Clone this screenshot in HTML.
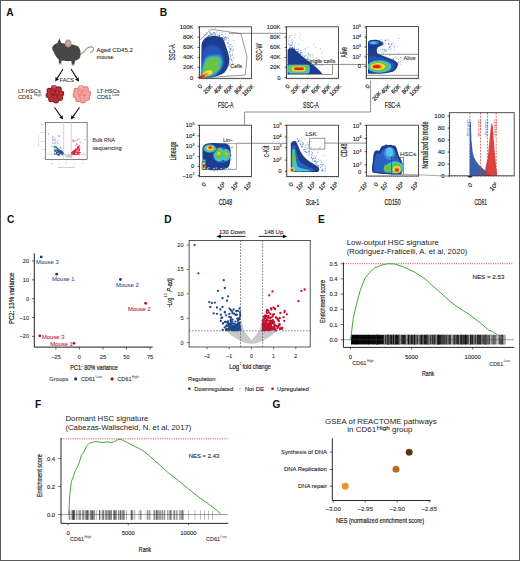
<!DOCTYPE html><html><head><meta charset="utf-8"><style>html,body{margin:0;padding:0;background:#fff;}svg{display:block;}text{font-family:"Liberation Sans",sans-serif;}</style></head><body>
<svg width="520" height="561" viewBox="0 0 520 561">
<defs>
<filter id="bl1" x="-20%" y="-20%" width="140%" height="140%"><feGaussianBlur stdDeviation="0.55"/></filter>
<filter id="bl2" x="-20%" y="-20%" width="140%" height="140%"><feGaussianBlur stdDeviation="1.3"/></filter>
<filter id="bl05" x="-20%" y="-20%" width="140%" height="140%"><feGaussianBlur stdDeviation="0.45"/></filter>
<marker id="ah" viewBox="0 0 10 10" refX="8" refY="5" markerWidth="5" markerHeight="5" orient="auto-start-reverse"><path d="M0,0 L10,5 L0,10 z" fill="#111"/></marker>
</defs>
<rect x="0" y="0" width="520" height="561" fill="#fff"/>
<text x="6.20" y="15.60" font-size="10.2" text-anchor="start" fill="#111" font-weight="bold" >A</text>
<text x="159.70" y="15.60" font-size="10.2" text-anchor="start" fill="#111" font-weight="bold" >B</text>
<text x="7.00" y="222.90" font-size="10.2" text-anchor="start" fill="#111" font-weight="bold" >C</text>
<text x="164.20" y="222.80" font-size="10.2" text-anchor="start" fill="#111" font-weight="bold" >D</text>
<text x="318.00" y="222.80" font-size="10.2" text-anchor="start" fill="#111" font-weight="bold" >E</text>
<text x="35.00" y="407.50" font-size="10.2" text-anchor="start" fill="#111" font-weight="bold" >F</text>
<text x="272.50" y="408.10" font-size="10.2" text-anchor="start" fill="#111" font-weight="bold" >G</text>
<g>
<path d="M80,54.5 C83,53.8 85,50.5 87,48.3 C89,46.5 92,46.3 93.3,48 C93.9,49.6 92.6,51.6 90.4,52.6" fill="none" stroke="#b08c88" stroke-width="1.1" stroke-linecap="round"/>
<path d="M52,47.6 C53,45.2 55.3,43.6 57.4,43 L59.3,38.2 L61.3,43 C63,43.1 64.5,43.5 65.5,44 C70,43.6 75,44.4 78.5,46.8 C80.6,49.4 80.9,53 80.3,56.5 C79.6,59 77.6,60.3 75.2,60.6 L74.2,64.6 L71.9,64.9 L71.3,61.1 C67,61.4 63.6,61.1 61.6,60.6 L61.1,63.4 L59,63.7 L58.8,59.6 C56.5,57.6 55,55.1 54,52.6 C53,51.1 52.2,49.6 52,47.6 Z" fill="#474747"/>
<ellipse cx="68.2" cy="43.3" rx="3.3" ry="3.9" fill="#b89490"/>
<ellipse cx="68.4" cy="43.6" rx="2.1" ry="2.6" fill="#cfa8a2"/>
<circle cx="55.8" cy="46.2" r="0.5" fill="#111"/>
<ellipse cx="52.1" cy="47.9" rx="0.7" ry="0.6" fill="#b89490"/>
<ellipse cx="60.2" cy="63.8" rx="1.8" ry="0.6" fill="#c8a09a"/>
<ellipse cx="73.4" cy="65" rx="1.8" ry="0.6" fill="#c8a09a"/>
</g>
<text x="96.50" y="52.00" font-size="6.2" text-anchor="start" fill="#2a2a2a" textLength="36.3" lengthAdjust="spacingAndGlyphs" stroke="#2a2a2a" stroke-width="0.08">Aged CD45.2</text>
<text x="96.50" y="59.30" font-size="6.2" text-anchor="start" fill="#2a2a2a" textLength="17" lengthAdjust="spacingAndGlyphs" stroke="#2a2a2a" stroke-width="0.08">mouse</text>
<line x1="63.00" y1="69.00" x2="57.32" y2="78.11" stroke="#111" stroke-width="1.1" />
<path d="M55.20,81.50 L55.54,76.99 L59.10,79.22 Z" fill="#111"/>
<line x1="71.00" y1="69.00" x2="76.88" y2="78.41" stroke="#111" stroke-width="1.1" />
<path d="M79.00,81.80 L75.10,79.52 L78.66,77.30 Z" fill="#111"/>
<text x="66.80" y="82.30" font-size="6.2" text-anchor="middle" fill="#2a2a2a" textLength="14.5" lengthAdjust="spacingAndGlyphs" stroke="#2a2a2a" stroke-width="0.08">FACS</text>
<circle cx="49.5" cy="90.8" r="3" fill="#84181f"/>
<circle cx="54" cy="88.0" r="3" fill="#84181f"/>
<circle cx="58.8" cy="89.3" r="3" fill="#84181f"/>
<circle cx="61.2" cy="93.5" r="3" fill="#84181f"/>
<circle cx="60" cy="98.1" r="3" fill="#84181f"/>
<circle cx="56" cy="100.6" r="3" fill="#84181f"/>
<circle cx="51.2" cy="99.3" r="3" fill="#84181f"/>
<circle cx="48.7" cy="95.3" r="3" fill="#84181f"/>
<circle cx="55" cy="94.3" r="6.6" fill="#9c2228"/>
<circle cx="49.775" cy="90.975" r="2.3" fill="#b8323a"/>
<circle cx="54.05" cy="88.315" r="2.3" fill="#b8323a"/>
<circle cx="58.61" cy="89.55" r="2.3" fill="#b8323a"/>
<circle cx="60.89" cy="93.53999999999999" r="2.3" fill="#b8323a"/>
<circle cx="59.75" cy="97.91" r="2.3" fill="#b8323a"/>
<circle cx="55.95" cy="100.285" r="2.3" fill="#b8323a"/>
<circle cx="51.39" cy="99.05" r="2.3" fill="#b8323a"/>
<circle cx="49.015" cy="95.25" r="2.3" fill="#b8323a"/>
<circle cx="52.8" cy="92.3" r="2.2" fill="#b8323a" stroke="#84181f" stroke-width="0.5"/>
<circle cx="57.2" cy="92.8" r="2.2" fill="#b8323a" stroke="#84181f" stroke-width="0.5"/>
<circle cx="55" cy="96.6" r="2.3" fill="#b8323a" stroke="#84181f" stroke-width="0.5"/>
<circle cx="54.7" cy="94.3" r="1.4" fill="#b8323a" stroke="#84181f" stroke-width="0.5"/>
<circle cx="54" cy="86.5" r="1.6" fill="#c87878" opacity="0.7"/>
<circle cx="76.5" cy="90.8" r="3" fill="#de7474"/>
<circle cx="81" cy="88.0" r="3" fill="#de7474"/>
<circle cx="85.8" cy="89.3" r="3" fill="#de7474"/>
<circle cx="88.2" cy="93.5" r="3" fill="#de7474"/>
<circle cx="87" cy="98.1" r="3" fill="#de7474"/>
<circle cx="83" cy="100.6" r="3" fill="#de7474"/>
<circle cx="78.2" cy="99.3" r="3" fill="#de7474"/>
<circle cx="75.7" cy="95.3" r="3" fill="#de7474"/>
<circle cx="82" cy="94.3" r="6.6" fill="#eb8a88"/>
<circle cx="76.775" cy="90.975" r="2.3" fill="#f4a6a2"/>
<circle cx="81.05" cy="88.315" r="2.3" fill="#f4a6a2"/>
<circle cx="85.61" cy="89.55" r="2.3" fill="#f4a6a2"/>
<circle cx="87.89" cy="93.53999999999999" r="2.3" fill="#f4a6a2"/>
<circle cx="86.75" cy="97.91" r="2.3" fill="#f4a6a2"/>
<circle cx="82.95" cy="100.285" r="2.3" fill="#f4a6a2"/>
<circle cx="78.39" cy="99.05" r="2.3" fill="#f4a6a2"/>
<circle cx="76.015" cy="95.25" r="2.3" fill="#f4a6a2"/>
<circle cx="79.8" cy="92.3" r="2.2" fill="#f4a6a2" stroke="#de7474" stroke-width="0.5"/>
<circle cx="84.2" cy="92.8" r="2.2" fill="#f4a6a2" stroke="#de7474" stroke-width="0.5"/>
<circle cx="82" cy="96.6" r="2.3" fill="#f4a6a2" stroke="#de7474" stroke-width="0.5"/>
<circle cx="81.7" cy="94.3" r="1.4" fill="#f4a6a2" stroke="#de7474" stroke-width="0.5"/>
<circle cx="81" cy="86.5" r="1.6" fill="#f4c0bc" opacity="0.7"/>
<text x="18.00" y="92.50" font-size="6.2" text-anchor="start" fill="#2a2a2a" textLength="22.8" lengthAdjust="spacingAndGlyphs" stroke="#2a2a2a" stroke-width="0.08">LT-HSCs</text>
<text x="18.00" y="99.30" font-size="6.2" text-anchor="start" fill="#2a2a2a" textLength="14.6" lengthAdjust="spacingAndGlyphs" stroke="#2a2a2a" stroke-width="0.08">CD61</text>
<text x="34.00" y="96.30" font-size="3.8" text-anchor="start" fill="#2a2a2a" textLength="7.4" lengthAdjust="spacingAndGlyphs" >High</text>
<text x="96.90" y="92.50" font-size="6.2" text-anchor="start" fill="#2a2a2a" textLength="22.8" lengthAdjust="spacingAndGlyphs" stroke="#2a2a2a" stroke-width="0.08">LT-HSCs</text>
<text x="96.90" y="99.30" font-size="6.2" text-anchor="start" fill="#2a2a2a" textLength="14.4" lengthAdjust="spacingAndGlyphs" stroke="#2a2a2a" stroke-width="0.08">CD61</text>
<text x="112.20" y="96.30" font-size="3.8" text-anchor="start" fill="#2a2a2a" textLength="7.2" lengthAdjust="spacingAndGlyphs" >Low</text>
<line x1="54.50" y1="107.50" x2="60.86" y2="116.35" stroke="#111" stroke-width="1.1" />
<path d="M63.20,119.60 L59.16,117.58 L62.57,115.13 Z" fill="#111"/>
<line x1="79.50" y1="107.50" x2="73.14" y2="116.35" stroke="#111" stroke-width="1.1" />
<path d="M70.80,119.60 L71.43,115.13 L74.84,117.58 Z" fill="#111"/>
<rect x="45.3" y="122.3" width="41.8" height="37.2" fill="#fff" stroke="#333" stroke-width="0.6"/>
<line x1="63.70" y1="122.30" x2="63.70" y2="159.50" stroke="#c8c8c8" stroke-width="0.8" />
<line x1="71.20" y1="122.30" x2="71.20" y2="159.50" stroke="#c8c8c8" stroke-width="0.8" />
<line x1="45.30" y1="154.20" x2="87.10" y2="154.20" stroke="#c8c8c8" stroke-width="0.8" />
<line x1="44.00" y1="124.00" x2="45.30" y2="124.00" stroke="#666" stroke-width="0.3" />
<line x1="44.00" y1="132.50" x2="45.30" y2="132.50" stroke="#666" stroke-width="0.3" />
<line x1="44.00" y1="141.00" x2="45.30" y2="141.00" stroke="#666" stroke-width="0.3" />
<line x1="44.00" y1="149.50" x2="45.30" y2="149.50" stroke="#666" stroke-width="0.3" />
<line x1="44.00" y1="158.00" x2="45.30" y2="158.00" stroke="#666" stroke-width="0.3" />
<line x1="52.00" y1="159.50" x2="52.00" y2="160.70" stroke="#666" stroke-width="0.3" />
<line x1="59.00" y1="159.50" x2="59.00" y2="160.70" stroke="#666" stroke-width="0.3" />
<line x1="66.50" y1="159.50" x2="66.50" y2="160.70" stroke="#666" stroke-width="0.3" />
<line x1="74.00" y1="159.50" x2="74.00" y2="160.70" stroke="#666" stroke-width="0.3" />
<line x1="83.00" y1="159.50" x2="83.00" y2="160.70" stroke="#666" stroke-width="0.3" />
<path d="M63.5,154.5 L67.5,158.5 L71.5,154.5 Z" fill="#c8d0c8" opacity="0.8"/>
<ellipse cx="69.5" cy="156.3" rx="2.2" ry="1" fill="#90c0a0" opacity="0.7"/>
<circle cx="60.8" cy="153.4" r="0.6" fill="#1e4a86"/>
<circle cx="57.7" cy="154.6" r="0.6" fill="#1e4a86"/>
<circle cx="62.1" cy="154.2" r="0.6" fill="#1e4a86"/>
<circle cx="60.1" cy="152.9" r="0.6" fill="#1e4a86"/>
<circle cx="56.1" cy="149.9" r="0.6" fill="#1e4a86"/>
<circle cx="61.3" cy="151.6" r="0.6" fill="#1e4a86"/>
<circle cx="58.2" cy="150.9" r="0.6" fill="#1e4a86"/>
<circle cx="61.9" cy="153.0" r="0.6" fill="#1e4a86"/>
<circle cx="61.0" cy="150.8" r="0.6" fill="#1e4a86"/>
<circle cx="58.6" cy="149.9" r="0.6" fill="#1e4a86"/>
<circle cx="56.4" cy="152.1" r="0.6" fill="#1e4a86"/>
<circle cx="56.4" cy="147.7" r="0.6" fill="#1e4a86"/>
<circle cx="56.3" cy="153.9" r="0.6" fill="#1e4a86"/>
<circle cx="60.3" cy="153.1" r="0.6" fill="#1e4a86"/>
<circle cx="58.0" cy="151.6" r="0.6" fill="#1e4a86"/>
<circle cx="59.9" cy="151.9" r="0.6" fill="#1e4a86"/>
<circle cx="57.5" cy="150.6" r="0.6" fill="#1e4a86"/>
<circle cx="54.8" cy="146.5" r="0.6" fill="#1e4a86"/>
<circle cx="57.9" cy="149.0" r="0.6" fill="#1e4a86"/>
<circle cx="54.4" cy="150.0" r="0.6" fill="#1e4a86"/>
<circle cx="57.5" cy="148.9" r="0.6" fill="#1e4a86"/>
<circle cx="58.5" cy="154.6" r="0.6" fill="#1e4a86"/>
<circle cx="55.2" cy="154.3" r="0.6" fill="#1e4a86"/>
<circle cx="56.5" cy="153.8" r="0.6" fill="#1e4a86"/>
<circle cx="60.0" cy="150.8" r="0.6" fill="#1e4a86"/>
<circle cx="62.2" cy="154.9" r="0.6" fill="#1e4a86"/>
<circle cx="57.3" cy="148.6" r="0.6" fill="#1e4a86"/>
<circle cx="54.9" cy="146.1" r="0.6" fill="#1e4a86"/>
<circle cx="60.9" cy="152.1" r="0.6" fill="#1e4a86"/>
<circle cx="63.0" cy="153.7" r="0.6" fill="#1e4a86"/>
<circle cx="58.4" cy="154.7" r="0.6" fill="#1e4a86"/>
<circle cx="56.1" cy="147.1" r="0.6" fill="#1e4a86"/>
<circle cx="55.8" cy="151.1" r="0.6" fill="#1e4a86"/>
<circle cx="58.4" cy="151.4" r="0.6" fill="#1e4a86"/>
<circle cx="58.1" cy="149.0" r="0.6" fill="#1e4a86"/>
<circle cx="58.8" cy="150.6" r="0.6" fill="#1e4a86"/>
<circle cx="61.1" cy="150.7" r="0.6" fill="#1e4a86"/>
<circle cx="58.5" cy="154.9" r="0.6" fill="#1e4a86"/>
<circle cx="59.3" cy="154.9" r="0.6" fill="#1e4a86"/>
<circle cx="57.6" cy="154.6" r="0.6" fill="#1e4a86"/>
<circle cx="57.8" cy="150.4" r="0.6" fill="#1e4a86"/>
<circle cx="59.6" cy="151.2" r="0.6" fill="#1e4a86"/>
<circle cx="63.2" cy="152.9" r="0.6" fill="#1e4a86"/>
<circle cx="55.4" cy="151.0" r="0.6" fill="#1e4a86"/>
<circle cx="58.3" cy="152.6" r="0.6" fill="#1e4a86"/>
<circle cx="60.4" cy="152.1" r="0.6" fill="#1e4a86"/>
<circle cx="60.5" cy="151.3" r="0.6" fill="#1e4a86"/>
<circle cx="62.4" cy="152.7" r="0.6" fill="#1e4a86"/>
<circle cx="60.7" cy="151.1" r="0.6" fill="#1e4a86"/>
<circle cx="61.3" cy="153.1" r="0.6" fill="#1e4a86"/>
<circle cx="57.8" cy="152.7" r="0.6" fill="#1e4a86"/>
<circle cx="59.6" cy="152.8" r="0.6" fill="#1e4a86"/>
<circle cx="56.4" cy="152.3" r="0.6" fill="#1e4a86"/>
<circle cx="57.0" cy="151.9" r="0.6" fill="#1e4a86"/>
<circle cx="61.5" cy="152.7" r="0.6" fill="#1e4a86"/>
<circle cx="60.8" cy="151.5" r="0.6" fill="#1e4a86"/>
<circle cx="61.6" cy="151.7" r="0.6" fill="#1e4a86"/>
<circle cx="57.2" cy="152.6" r="0.6" fill="#1e4a86"/>
<circle cx="62.0" cy="152.0" r="0.6" fill="#1e4a86"/>
<circle cx="60.8" cy="153.1" r="0.6" fill="#1e4a86"/>
<circle cx="59.5" cy="149.9" r="0.6" fill="#1e4a86"/>
<circle cx="62.2" cy="151.3" r="0.6" fill="#1e4a86"/>
<circle cx="55.0" cy="151.4" r="0.6" fill="#1e4a86"/>
<circle cx="54.5" cy="153.1" r="0.6" fill="#1e4a86"/>
<circle cx="56.3" cy="150.0" r="0.6" fill="#1e4a86"/>
<circle cx="58.9" cy="152.9" r="0.6" fill="#1e4a86"/>
<circle cx="61.6" cy="152.4" r="0.6" fill="#1e4a86"/>
<circle cx="60.0" cy="154.8" r="0.6" fill="#1e4a86"/>
<circle cx="55.2" cy="147.2" r="0.6" fill="#1e4a86"/>
<circle cx="55.0" cy="150.2" r="0.6" fill="#1e4a86"/>
<circle cx="52.1" cy="146.4" r="0.55" fill="none" stroke="#4a70a8" stroke-width="0.3"/>
<circle cx="53.5" cy="140.2" r="0.55" fill="none" stroke="#4a70a8" stroke-width="0.3"/>
<circle cx="58.0" cy="143.3" r="0.55" fill="none" stroke="#4a70a8" stroke-width="0.3"/>
<circle cx="55.7" cy="149.1" r="0.55" fill="none" stroke="#4a70a8" stroke-width="0.3"/>
<circle cx="57.5" cy="140.8" r="0.55" fill="none" stroke="#4a70a8" stroke-width="0.3"/>
<circle cx="54.3" cy="148.1" r="0.55" fill="none" stroke="#4a70a8" stroke-width="0.3"/>
<circle cx="56.3" cy="147.0" r="0.55" fill="none" stroke="#4a70a8" stroke-width="0.3"/>
<circle cx="55.2" cy="138.8" r="0.55" fill="none" stroke="#4a70a8" stroke-width="0.3"/>
<circle cx="56.8" cy="147.4" r="0.55" fill="none" stroke="#4a70a8" stroke-width="0.3"/>
<circle cx="53.5" cy="147.1" r="0.55" fill="none" stroke="#4a70a8" stroke-width="0.3"/>
<circle cx="60.3" cy="147.3" r="0.55" fill="none" stroke="#4a70a8" stroke-width="0.3"/>
<circle cx="59.4" cy="136.1" r="0.55" fill="none" stroke="#4a70a8" stroke-width="0.3"/>
<circle cx="57.7" cy="148.1" r="0.55" fill="none" stroke="#4a70a8" stroke-width="0.3"/>
<circle cx="52.4" cy="139.8" r="0.55" fill="none" stroke="#4a70a8" stroke-width="0.3"/>
<circle cx="54.4" cy="143.4" r="0.55" fill="none" stroke="#4a70a8" stroke-width="0.3"/>
<circle cx="55.8" cy="142.6" r="0.55" fill="none" stroke="#4a70a8" stroke-width="0.3"/>
<circle cx="59.0" cy="136.0" r="0.55" fill="none" stroke="#4a70a8" stroke-width="0.3"/>
<circle cx="52.5" cy="137.8" r="0.55" fill="none" stroke="#4a70a8" stroke-width="0.3"/>
<circle cx="53.1" cy="137.0" r="0.55" fill="none" stroke="#4a70a8" stroke-width="0.3"/>
<circle cx="60.8" cy="148.0" r="0.55" fill="none" stroke="#4a70a8" stroke-width="0.3"/>
<circle cx="52.8" cy="143.0" r="0.55" fill="none" stroke="#4a70a8" stroke-width="0.3"/>
<circle cx="54.8" cy="140.4" r="0.55" fill="none" stroke="#4a70a8" stroke-width="0.3"/>
<circle cx="75.0" cy="151.6" r="0.6" fill="#e0203a"/>
<circle cx="74.5" cy="153.1" r="0.6" fill="#e0203a"/>
<circle cx="73.1" cy="152.1" r="0.6" fill="#e0203a"/>
<circle cx="74.5" cy="153.9" r="0.6" fill="#e0203a"/>
<circle cx="75.1" cy="150.3" r="0.6" fill="#e0203a"/>
<circle cx="75.4" cy="151.2" r="0.6" fill="#e0203a"/>
<circle cx="75.3" cy="151.8" r="0.6" fill="#e0203a"/>
<circle cx="77.5" cy="149.0" r="0.6" fill="#e0203a"/>
<circle cx="75.4" cy="151.4" r="0.6" fill="#e0203a"/>
<circle cx="77.0" cy="151.4" r="0.6" fill="#e0203a"/>
<circle cx="75.9" cy="149.0" r="0.6" fill="#e0203a"/>
<circle cx="75.5" cy="150.3" r="0.6" fill="#e0203a"/>
<circle cx="74.1" cy="154.4" r="0.6" fill="#e0203a"/>
<circle cx="78.7" cy="146.6" r="0.6" fill="#e0203a"/>
<circle cx="78.5" cy="148.1" r="0.6" fill="#e0203a"/>
<circle cx="76.0" cy="150.6" r="0.6" fill="#e0203a"/>
<circle cx="71.6" cy="152.6" r="0.6" fill="#e0203a"/>
<circle cx="71.9" cy="154.7" r="0.6" fill="#e0203a"/>
<circle cx="78.7" cy="154.8" r="0.6" fill="#e0203a"/>
<circle cx="78.3" cy="146.8" r="0.6" fill="#e0203a"/>
<circle cx="77.8" cy="147.0" r="0.6" fill="#e0203a"/>
<circle cx="77.0" cy="154.7" r="0.6" fill="#e0203a"/>
<circle cx="78.2" cy="148.5" r="0.6" fill="#e0203a"/>
<circle cx="73.2" cy="151.4" r="0.6" fill="#e0203a"/>
<circle cx="72.3" cy="153.0" r="0.6" fill="#e0203a"/>
<circle cx="78.3" cy="153.3" r="0.6" fill="#e0203a"/>
<circle cx="74.1" cy="151.2" r="0.6" fill="#e0203a"/>
<circle cx="75.0" cy="152.6" r="0.6" fill="#e0203a"/>
<circle cx="74.7" cy="154.5" r="0.6" fill="#e0203a"/>
<circle cx="76.6" cy="152.1" r="0.6" fill="#e0203a"/>
<circle cx="77.6" cy="148.8" r="0.6" fill="#e0203a"/>
<circle cx="78.3" cy="150.3" r="0.6" fill="#e0203a"/>
<circle cx="76.0" cy="148.8" r="0.6" fill="#e0203a"/>
<circle cx="72.7" cy="151.9" r="0.6" fill="#e0203a"/>
<circle cx="79.4" cy="150.4" r="0.6" fill="#e0203a"/>
<circle cx="77.4" cy="152.7" r="0.6" fill="#e0203a"/>
<circle cx="73.7" cy="153.6" r="0.6" fill="#e0203a"/>
<circle cx="74.1" cy="150.4" r="0.6" fill="#e0203a"/>
<circle cx="74.6" cy="152.8" r="0.6" fill="#e0203a"/>
<circle cx="78.9" cy="152.4" r="0.6" fill="#e0203a"/>
<circle cx="73.2" cy="152.7" r="0.6" fill="#e0203a"/>
<circle cx="74.7" cy="152.8" r="0.6" fill="#e0203a"/>
<circle cx="74.9" cy="154.2" r="0.6" fill="#e0203a"/>
<circle cx="79.9" cy="148.5" r="0.6" fill="#e0203a"/>
<circle cx="76.1" cy="149.5" r="0.6" fill="#e0203a"/>
<circle cx="76.4" cy="149.6" r="0.6" fill="#e0203a"/>
<circle cx="78.7" cy="147.8" r="0.6" fill="#e0203a"/>
<circle cx="79.6" cy="152.5" r="0.6" fill="#e0203a"/>
<circle cx="74.1" cy="151.7" r="0.6" fill="#e0203a"/>
<circle cx="80.1" cy="152.4" r="0.6" fill="#e0203a"/>
<circle cx="73.2" cy="154.2" r="0.6" fill="#e0203a"/>
<circle cx="78.1" cy="147.2" r="0.6" fill="#e0203a"/>
<circle cx="74.5" cy="153.4" r="0.6" fill="#e0203a"/>
<circle cx="75.7" cy="154.5" r="0.6" fill="#e0203a"/>
<circle cx="73.1" cy="153.9" r="0.6" fill="#e0203a"/>
<circle cx="74.9" cy="151.0" r="0.6" fill="#e0203a"/>
<circle cx="71.9" cy="153.7" r="0.6" fill="#e0203a"/>
<circle cx="75.5" cy="151.0" r="0.6" fill="#e0203a"/>
<circle cx="79.5" cy="149.2" r="0.6" fill="#e0203a"/>
<circle cx="72.7" cy="152.4" r="0.6" fill="#e0203a"/>
<circle cx="73.4" cy="151.5" r="0.6" fill="#e0203a"/>
<circle cx="73.3" cy="153.6" r="0.6" fill="#e0203a"/>
<circle cx="78.5" cy="152.3" r="0.6" fill="#e0203a"/>
<circle cx="77.6" cy="148.2" r="0.6" fill="#e0203a"/>
<circle cx="74.4" cy="150.1" r="0.6" fill="#e0203a"/>
<circle cx="77.4" cy="154.1" r="0.6" fill="#e0203a"/>
<circle cx="75.8" cy="150.0" r="0.6" fill="#e0203a"/>
<circle cx="77.5" cy="153.5" r="0.6" fill="#e0203a"/>
<circle cx="77.3" cy="153.5" r="0.6" fill="#e0203a"/>
<circle cx="79.3" cy="153.8" r="0.6" fill="#e0203a"/>
<circle cx="79.0" cy="151.5" r="0.6" fill="#e0203a"/>
<circle cx="77.9" cy="150.1" r="0.6" fill="#e0203a"/>
<circle cx="77.1" cy="152.4" r="0.6" fill="#e0203a"/>
<circle cx="72.9" cy="151.8" r="0.6" fill="#e0203a"/>
<circle cx="78.1" cy="148.3" r="0.6" fill="#e0203a"/>
<circle cx="74.6" cy="152.7" r="0.6" fill="#e0203a"/>
<circle cx="78.4" cy="150.0" r="0.6" fill="#e0203a"/>
<circle cx="74.3" cy="153.2" r="0.6" fill="#e0203a"/>
<circle cx="74.5" cy="151.9" r="0.6" fill="#e0203a"/>
<circle cx="78.0" cy="147.2" r="0.6" fill="#e0203a"/>
<circle cx="73.0" cy="141.4" r="0.55" fill="none" stroke="#d04050" stroke-width="0.3"/>
<circle cx="72.9" cy="140.0" r="0.55" fill="none" stroke="#d04050" stroke-width="0.3"/>
<circle cx="79.0" cy="145.5" r="0.55" fill="none" stroke="#d04050" stroke-width="0.3"/>
<circle cx="73.7" cy="140.7" r="0.55" fill="none" stroke="#d04050" stroke-width="0.3"/>
<circle cx="75.7" cy="145.7" r="0.55" fill="none" stroke="#d04050" stroke-width="0.3"/>
<circle cx="79.3" cy="145.7" r="0.55" fill="none" stroke="#d04050" stroke-width="0.3"/>
<circle cx="77.3" cy="140.3" r="0.55" fill="none" stroke="#d04050" stroke-width="0.3"/>
<circle cx="75.6" cy="140.7" r="0.55" fill="none" stroke="#d04050" stroke-width="0.3"/>
<circle cx="76.7" cy="144.1" r="0.55" fill="none" stroke="#d04050" stroke-width="0.3"/>
<circle cx="73.8" cy="141.3" r="0.55" fill="none" stroke="#d04050" stroke-width="0.3"/>
<circle cx="79.0" cy="139.3" r="0.55" fill="none" stroke="#d04050" stroke-width="0.3"/>
<circle cx="79.2" cy="147.0" r="0.55" fill="none" stroke="#d04050" stroke-width="0.3"/>
<circle cx="80.5" cy="142.4" r="0.55" fill="none" stroke="#d04050" stroke-width="0.3"/>
<circle cx="77.0" cy="144.2" r="0.55" fill="none" stroke="#d04050" stroke-width="0.3"/>
<circle cx="48.5" cy="134" r="0.5" fill="#7088a8"/><circle cx="84.6" cy="139.6" r="0.6" fill="none" stroke="#d08080" stroke-width="0.3"/><circle cx="83.4" cy="143.4" r="0.5" fill="#d09090"/><circle cx="47.8" cy="124.2" r="0.4" fill="#888"/>
<text x="43.40" y="124.80" font-size="2.3" text-anchor="end" fill="#888" >20</text>
<text x="43.40" y="133.30" font-size="2.3" text-anchor="end" fill="#888" >15</text>
<text x="43.40" y="141.80" font-size="2.3" text-anchor="end" fill="#888" >10</text>
<text x="43.40" y="150.30" font-size="2.3" text-anchor="end" fill="#888" >5</text>
<text x="43.40" y="158.80" font-size="2.3" text-anchor="end" fill="#888" >0</text>
<text x="52.00" y="163.50" font-size="2.3" text-anchor="middle" fill="#888" >-2</text>
<text x="59.00" y="163.50" font-size="2.3" text-anchor="middle" fill="#888" >-1</text>
<text x="66.50" y="163.50" font-size="2.3" text-anchor="middle" fill="#888" >0</text>
<text x="74.00" y="163.50" font-size="2.3" text-anchor="middle" fill="#888" >1</text>
<text x="83.00" y="163.50" font-size="2.3" text-anchor="middle" fill="#888" >2</text>
<text x="38.50" y="141.00" font-size="2.3" text-anchor="middle" fill="#888" transform="rotate(-90 38.50 141.00)" >-log10 P-adj</text>
<text x="66.50" y="167.60" font-size="2.4" text-anchor="middle" fill="#888" >log2 fold change</text>
<text x="92.50" y="142.40" font-size="6.2" text-anchor="start" fill="#2a2a2a" textLength="22.5" lengthAdjust="spacingAndGlyphs" stroke="#2a2a2a" stroke-width="0.08">Bulk RNA</text>
<text x="92.50" y="149.90" font-size="6.2" text-anchor="start" fill="#2a2a2a" textLength="29.2" lengthAdjust="spacingAndGlyphs" stroke="#2a2a2a" stroke-width="0.08">sequencing</text>
<circle cx="224.3" cy="40.3" r="0.42" fill="#3a66b8"/>
<circle cx="208.8" cy="29.5" r="0.42" fill="#3a66b8"/>
<circle cx="212.1" cy="33.9" r="0.42" fill="#3a66b8"/>
<circle cx="230.1" cy="48.5" r="0.42" fill="#3a66b8"/>
<circle cx="209.0" cy="35.8" r="0.42" fill="#3a66b8"/>
<circle cx="229.1" cy="45.0" r="0.42" fill="#3a66b8"/>
<circle cx="229.9" cy="69.2" r="0.42" fill="#3a66b8"/>
<circle cx="228.4" cy="40.4" r="0.42" fill="#3a66b8"/>
<circle cx="219.5" cy="36.6" r="0.42" fill="#3a66b8"/>
<circle cx="229.3" cy="63.2" r="0.42" fill="#3a66b8"/>
<circle cx="228.7" cy="43.4" r="0.42" fill="#3a66b8"/>
<circle cx="229.1" cy="65.8" r="0.42" fill="#3a66b8"/>
<circle cx="224.2" cy="37.4" r="0.42" fill="#3a66b8"/>
<circle cx="232.2" cy="55.5" r="0.42" fill="#3a66b8"/>
<circle cx="207.1" cy="33.9" r="0.42" fill="#3a66b8"/>
<circle cx="232.5" cy="52.9" r="0.42" fill="#3a66b8"/>
<circle cx="211.7" cy="34.6" r="0.42" fill="#3a66b8"/>
<circle cx="225.3" cy="36.3" r="0.42" fill="#3a66b8"/>
<circle cx="221.9" cy="38.0" r="0.42" fill="#3a66b8"/>
<circle cx="206.7" cy="37.4" r="0.42" fill="#3a66b8"/>
<circle cx="232.3" cy="61.0" r="0.42" fill="#3a66b8"/>
<circle cx="230.0" cy="58.8" r="0.42" fill="#3a66b8"/>
<circle cx="228.6" cy="66.1" r="0.42" fill="#3a66b8"/>
<circle cx="209.1" cy="36.1" r="0.42" fill="#3a66b8"/>
<circle cx="227.1" cy="37.9" r="0.42" fill="#3a66b8"/>
<circle cx="222.2" cy="38.0" r="0.42" fill="#3a66b8"/>
<circle cx="215.0" cy="35.5" r="0.42" fill="#3a66b8"/>
<circle cx="230.3" cy="48.2" r="0.42" fill="#3a66b8"/>
<circle cx="209.0" cy="35.4" r="0.42" fill="#3a66b8"/>
<circle cx="231.4" cy="44.6" r="0.42" fill="#3a66b8"/>
<circle cx="204.9" cy="35.1" r="0.42" fill="#3a66b8"/>
<circle cx="228.8" cy="60.6" r="0.42" fill="#3a66b8"/>
<circle cx="229.6" cy="52.4" r="0.42" fill="#3a66b8"/>
<circle cx="230.0" cy="61.8" r="0.42" fill="#3a66b8"/>
<circle cx="230.7" cy="49.9" r="0.42" fill="#3a66b8"/>
<circle cx="210.0" cy="34.3" r="0.42" fill="#3a66b8"/>
<circle cx="230.9" cy="50.7" r="0.42" fill="#3a66b8"/>
<circle cx="206.8" cy="37.4" r="0.42" fill="#3a66b8"/>
<circle cx="229.9" cy="44.8" r="0.42" fill="#3a66b8"/>
<circle cx="219.8" cy="35.7" r="0.42" fill="#3a66b8"/>
<circle cx="228.1" cy="46.8" r="0.42" fill="#3a66b8"/>
<circle cx="210.0" cy="32.9" r="0.42" fill="#3a66b8"/>
<circle cx="206.1" cy="32.3" r="0.42" fill="#3a66b8"/>
<circle cx="224.1" cy="39.3" r="0.42" fill="#3a66b8"/>
<circle cx="225.1" cy="40.0" r="0.42" fill="#3a66b8"/>
<circle cx="226.3" cy="37.0" r="0.42" fill="#3a66b8"/>
<circle cx="208.8" cy="36.5" r="0.42" fill="#3a66b8"/>
<circle cx="223.2" cy="38.0" r="0.42" fill="#3a66b8"/>
<circle cx="229.9" cy="58.3" r="0.42" fill="#3a66b8"/>
<circle cx="217.0" cy="31.6" r="0.42" fill="#3a66b8"/>
<circle cx="226.3" cy="68.3" r="0.42" fill="#3a66b8"/>
<circle cx="215.5" cy="28.0" r="0.42" fill="#3a66b8"/>
<circle cx="205.0" cy="34.8" r="0.42" fill="#3a66b8"/>
<circle cx="219.8" cy="33.0" r="0.42" fill="#3a66b8"/>
<circle cx="211.1" cy="33.1" r="0.42" fill="#3a66b8"/>
<circle cx="233.4" cy="49.4" r="0.42" fill="#3a66b8"/>
<circle cx="214.1" cy="32.8" r="0.42" fill="#3a66b8"/>
<circle cx="230.1" cy="49.4" r="0.42" fill="#3a66b8"/>
<circle cx="232.4" cy="63.2" r="0.42" fill="#3a66b8"/>
<circle cx="228.6" cy="61.7" r="0.42" fill="#3a66b8"/>
<circle cx="233.5" cy="59.1" r="0.42" fill="#3a66b8"/>
<circle cx="206.1" cy="34.9" r="0.42" fill="#3a66b8"/>
<circle cx="211.5" cy="34.2" r="0.42" fill="#3a66b8"/>
<circle cx="222.1" cy="32.3" r="0.42" fill="#3a66b8"/>
<circle cx="214.6" cy="32.8" r="0.42" fill="#3a66b8"/>
<circle cx="224.8" cy="38.2" r="0.42" fill="#3a66b8"/>
<circle cx="222.8" cy="37.9" r="0.42" fill="#3a66b8"/>
<circle cx="206.9" cy="37.6" r="0.42" fill="#3a66b8"/>
<circle cx="230.1" cy="46.7" r="0.42" fill="#3a66b8"/>
<circle cx="204.4" cy="39.7" r="0.42" fill="#3a66b8"/>
<circle cx="222.7" cy="38.7" r="0.42" fill="#3a66b8"/>
<circle cx="213.8" cy="32.8" r="0.42" fill="#3a66b8"/>
<circle cx="222.3" cy="34.5" r="0.42" fill="#3a66b8"/>
<circle cx="231.0" cy="49.7" r="0.42" fill="#3a66b8"/>
<circle cx="210.3" cy="35.0" r="0.42" fill="#3a66b8"/>
<circle cx="229.4" cy="59.1" r="0.42" fill="#3a66b8"/>
<circle cx="225.4" cy="37.7" r="0.42" fill="#3a66b8"/>
<circle cx="219.3" cy="30.1" r="0.42" fill="#3a66b8"/>
<circle cx="233.6" cy="40.5" r="0.42" fill="#3a66b8"/>
<circle cx="209.8" cy="34.0" r="0.42" fill="#3a66b8"/>
<circle cx="219.3" cy="35.3" r="0.42" fill="#3a66b8"/>
<circle cx="224.5" cy="38.1" r="0.42" fill="#3a66b8"/>
<circle cx="215.9" cy="35.3" r="0.42" fill="#3a66b8"/>
<circle cx="215.0" cy="34.2" r="0.42" fill="#3a66b8"/>
<circle cx="215.3" cy="35.1" r="0.42" fill="#3a66b8"/>
<circle cx="208.5" cy="35.9" r="0.42" fill="#3a66b8"/>
<circle cx="232.4" cy="64.1" r="0.42" fill="#3a66b8"/>
<circle cx="231.8" cy="48.1" r="0.42" fill="#3a66b8"/>
<circle cx="228.0" cy="37.1" r="0.42" fill="#3a66b8"/>
<circle cx="225.1" cy="37.7" r="0.42" fill="#3a66b8"/>
<circle cx="227.8" cy="64.5" r="0.42" fill="#3a66b8"/>
<circle cx="229.5" cy="51.3" r="0.42" fill="#3a66b8"/>
<circle cx="229.2" cy="47.0" r="0.42" fill="#3a66b8"/>
<circle cx="226.4" cy="39.7" r="0.42" fill="#3a66b8"/>
<circle cx="230.2" cy="55.2" r="0.42" fill="#3a66b8"/>
<circle cx="228.0" cy="64.9" r="0.42" fill="#3a66b8"/>
<circle cx="234.2" cy="58.2" r="0.42" fill="#3a66b8"/>
<circle cx="230.0" cy="51.5" r="0.42" fill="#3a66b8"/>
<circle cx="230.2" cy="48.3" r="0.42" fill="#3a66b8"/>
<circle cx="225.2" cy="37.5" r="0.42" fill="#3a66b8"/>
<circle cx="227.5" cy="43.4" r="0.42" fill="#3a66b8"/>
<circle cx="208.4" cy="35.4" r="0.42" fill="#3a66b8"/>
<circle cx="232.7" cy="46.3" r="0.42" fill="#3a66b8"/>
<circle cx="205.1" cy="39.0" r="0.42" fill="#3a66b8"/>
<circle cx="210.0" cy="32.1" r="0.42" fill="#3a66b8"/>
<circle cx="233.1" cy="50.5" r="0.42" fill="#3a66b8"/>
<circle cx="232.4" cy="54.8" r="0.42" fill="#3a66b8"/>
<circle cx="226.3" cy="38.5" r="0.42" fill="#3a66b8"/>
<circle cx="213.1" cy="35.0" r="0.42" fill="#3a66b8"/>
<circle cx="207.8" cy="36.6" r="0.42" fill="#3a66b8"/>
<circle cx="227.5" cy="42.8" r="0.42" fill="#3a66b8"/>
<circle cx="226.6" cy="68.3" r="0.42" fill="#3a66b8"/>
<circle cx="230.0" cy="54.4" r="0.42" fill="#3a66b8"/>
<circle cx="229.8" cy="64.5" r="0.42" fill="#3a66b8"/>
<circle cx="213.2" cy="32.6" r="0.42" fill="#3a66b8"/>
<circle cx="210.7" cy="35.9" r="0.42" fill="#3a66b8"/>
<circle cx="211.5" cy="34.2" r="0.42" fill="#3a66b8"/>
<circle cx="212.7" cy="33.4" r="0.42" fill="#3a66b8"/>
<circle cx="229.4" cy="52.8" r="0.42" fill="#3a66b8"/>
<circle cx="219.6" cy="36.5" r="0.42" fill="#3a66b8"/>
<circle cx="230.1" cy="57.1" r="0.42" fill="#3a66b8"/>
<circle cx="237.4" cy="65.5" r="0.42" fill="#3a66b8"/>
<circle cx="230.3" cy="44.8" r="0.42" fill="#3a66b8"/>
<circle cx="204.9" cy="37.2" r="0.42" fill="#3a66b8"/>
<circle cx="227.5" cy="65.8" r="0.42" fill="#3a66b8"/>
<circle cx="217.5" cy="34.4" r="0.42" fill="#3a66b8"/>
<circle cx="214.3" cy="32.8" r="0.42" fill="#3a66b8"/>
<circle cx="215.1" cy="33.5" r="0.42" fill="#3a66b8"/>
<circle cx="230.1" cy="49.4" r="0.42" fill="#3a66b8"/>
<circle cx="231.3" cy="60.5" r="0.42" fill="#3a66b8"/>
<circle cx="230.3" cy="56.7" r="0.42" fill="#3a66b8"/>
<circle cx="224.4" cy="39.0" r="0.42" fill="#3a66b8"/>
<circle cx="208.1" cy="36.9" r="0.42" fill="#3a66b8"/>
<circle cx="232.5" cy="35.1" r="0.42" fill="#3a66b8"/>
<circle cx="210.6" cy="33.6" r="0.42" fill="#3a66b8"/>
<circle cx="228.9" cy="60.6" r="0.42" fill="#3a66b8"/>
<circle cx="231.0" cy="59.3" r="0.42" fill="#3a66b8"/>
<circle cx="221.5" cy="34.4" r="0.42" fill="#3a66b8"/>
<circle cx="230.9" cy="67.1" r="0.42" fill="#3a66b8"/>
<circle cx="215.5" cy="33.9" r="0.42" fill="#3a66b8"/>
<circle cx="225.3" cy="33.9" r="0.42" fill="#3a66b8"/>
<circle cx="228.7" cy="42.7" r="0.42" fill="#3a66b8"/>
<circle cx="225.3" cy="39.8" r="0.42" fill="#3a66b8"/>
<circle cx="230.5" cy="54.7" r="0.42" fill="#3a66b8"/>
<circle cx="212.4" cy="34.3" r="0.42" fill="#3a66b8"/>
<circle cx="233.8" cy="43.9" r="0.42" fill="#3a66b8"/>
<circle cx="228.4" cy="64.7" r="0.42" fill="#3a66b8"/>
<circle cx="221.4" cy="31.9" r="0.42" fill="#3a66b8"/>
<circle cx="227.6" cy="64.9" r="0.42" fill="#3a66b8"/>
<circle cx="231.5" cy="59.4" r="0.42" fill="#3a66b8"/>
<circle cx="228.4" cy="38.5" r="0.42" fill="#3a66b8"/>
<circle cx="216.5" cy="32.8" r="0.42" fill="#3a66b8"/>
<circle cx="221.1" cy="34.6" r="0.42" fill="#3a66b8"/>
<circle cx="222.0" cy="37.4" r="0.42" fill="#3a66b8"/>
<circle cx="220.5" cy="37.2" r="0.42" fill="#3a66b8"/>
<circle cx="210.7" cy="35.4" r="0.42" fill="#3a66b8"/>
<circle cx="204.2" cy="35.6" r="0.42" fill="#3a66b8"/>
<circle cx="231.9" cy="55.2" r="0.42" fill="#3a66b8"/>
<circle cx="207.6" cy="36.6" r="0.42" fill="#3a66b8"/>
<circle cx="213.9" cy="33.8" r="0.42" fill="#3a66b8"/>
<circle cx="215.9" cy="33.8" r="0.42" fill="#3a66b8"/>
<circle cx="217.1" cy="35.4" r="0.42" fill="#3a66b8"/>
<circle cx="223.3" cy="38.7" r="0.42" fill="#3a66b8"/>
<circle cx="213.8" cy="35.1" r="0.42" fill="#3a66b8"/>
<circle cx="231.8" cy="46.8" r="0.42" fill="#3a66b8"/>
<circle cx="233.6" cy="57.6" r="0.42" fill="#3a66b8"/>
<circle cx="230.1" cy="62.9" r="0.42" fill="#3a66b8"/>
<circle cx="218.5" cy="35.4" r="0.42" fill="#3a66b8"/>
<circle cx="212.5" cy="35.6" r="0.42" fill="#3a66b8"/>
<circle cx="223.3" cy="36.2" r="0.42" fill="#3a66b8"/>
<circle cx="232.3" cy="50.8" r="0.42" fill="#3a66b8"/>
<circle cx="219.2" cy="35.0" r="0.42" fill="#3a66b8"/>
<circle cx="208.8" cy="36.2" r="0.42" fill="#3a66b8"/>
<g filter="url(#bl05)">
<path d="M200.6,78 L201.2,72 L201.6,44 C202,41.5 203.5,39.5 205.5,38 C208,36.6 211,36 215,36 C218.5,36.1 221.3,36.8 223.1,38.8 C224.7,42 225.8,46 227.2,50 C228.6,54 229.6,58 229.2,62 C228.6,66 227,69.8 224.5,72.5 C221,75 216,76.6 211,77.4 C207,77.9 203,78.1 200.6,78 Z" fill="#1d3c8f"/>
</g>
<g filter="url(#bl2)"><path d="M203,76 L203,52 C204.5,47 208,45 212,45 C216,45 219,47 221,50 C223,54 224,58 224,62 C223,67 220,70 216,72.5 C211,74.5 206,75.5 202,76 Z" fill="#2656b8"/></g>
<g filter="url(#bl2)">
<path d="M200.8,77.3 C201.2,70 203,62 205.8,58 C208,55.3 214,55 219.5,55.8 C222.2,57.5 222.8,62 221.8,66 C220.3,70 217.8,73.5 214,75.6 C209,77.5 204,78.2 200.8,77.3 Z" fill="#3cb8d0"/>
</g>
<g filter="url(#bl1)">
<path d="M202.8,75.4 C203.8,69 205.4,62 208,59 C211,57.2 216,57.2 219,58.5 C220.6,61 220.2,66 218.6,69 C216,72 212,74.2 208,75.6 C205.5,76.2 203.8,76.2 202.8,75.4 Z" fill="#6cc24a"/>
<path d="M200.4,77.6 C201.4,75 204,72 207.5,70.6 C210.2,69.8 212.8,70.5 212.6,72.6 C211.6,74.6 208,76.1 204,77.4 Z" fill="#f2e23a"/>
<ellipse cx="204.2" cy="75.3" rx="4.6" ry="1.7" transform="rotate(-22 204.2 75.3)" fill="#f29a2a"/>
<ellipse cx="202.3" cy="76.3" rx="2.8" ry="1.2" transform="rotate(-22 202.3 76.3)" fill="#e0201c"/>
</g>
<rect x="199.6" y="26.8" width="51.90" height="51.50" fill="none" stroke="#333" stroke-width="0.85"/>
<line x1="198.60" y1="26.80" x2="199.60" y2="26.80" stroke="#222" stroke-width="0.45" />
<line x1="198.60" y1="28.86" x2="199.60" y2="28.86" stroke="#222" stroke-width="0.45" />
<line x1="198.60" y1="30.92" x2="199.60" y2="30.92" stroke="#222" stroke-width="0.45" />
<line x1="198.60" y1="32.98" x2="199.60" y2="32.98" stroke="#222" stroke-width="0.45" />
<line x1="198.60" y1="35.04" x2="199.60" y2="35.04" stroke="#222" stroke-width="0.45" />
<line x1="198.60" y1="37.10" x2="199.60" y2="37.10" stroke="#222" stroke-width="0.45" />
<line x1="198.60" y1="39.16" x2="199.60" y2="39.16" stroke="#222" stroke-width="0.45" />
<line x1="198.60" y1="41.22" x2="199.60" y2="41.22" stroke="#222" stroke-width="0.45" />
<line x1="198.60" y1="43.28" x2="199.60" y2="43.28" stroke="#222" stroke-width="0.45" />
<line x1="198.60" y1="45.34" x2="199.60" y2="45.34" stroke="#222" stroke-width="0.45" />
<line x1="198.60" y1="47.40" x2="199.60" y2="47.40" stroke="#222" stroke-width="0.45" />
<line x1="198.60" y1="49.46" x2="199.60" y2="49.46" stroke="#222" stroke-width="0.45" />
<line x1="198.60" y1="51.52" x2="199.60" y2="51.52" stroke="#222" stroke-width="0.45" />
<line x1="198.60" y1="53.58" x2="199.60" y2="53.58" stroke="#222" stroke-width="0.45" />
<line x1="198.60" y1="55.64" x2="199.60" y2="55.64" stroke="#222" stroke-width="0.45" />
<line x1="198.60" y1="57.70" x2="199.60" y2="57.70" stroke="#222" stroke-width="0.45" />
<line x1="198.60" y1="59.76" x2="199.60" y2="59.76" stroke="#222" stroke-width="0.45" />
<line x1="198.60" y1="61.82" x2="199.60" y2="61.82" stroke="#222" stroke-width="0.45" />
<line x1="198.60" y1="63.88" x2="199.60" y2="63.88" stroke="#222" stroke-width="0.45" />
<line x1="198.60" y1="65.94" x2="199.60" y2="65.94" stroke="#222" stroke-width="0.45" />
<line x1="198.60" y1="68.00" x2="199.60" y2="68.00" stroke="#222" stroke-width="0.45" />
<line x1="198.60" y1="70.06" x2="199.60" y2="70.06" stroke="#222" stroke-width="0.45" />
<line x1="198.60" y1="72.12" x2="199.60" y2="72.12" stroke="#222" stroke-width="0.45" />
<line x1="198.60" y1="74.18" x2="199.60" y2="74.18" stroke="#222" stroke-width="0.45" />
<line x1="198.60" y1="76.24" x2="199.60" y2="76.24" stroke="#222" stroke-width="0.45" />
<line x1="198.60" y1="78.30" x2="199.60" y2="78.30" stroke="#222" stroke-width="0.45" />
<line x1="199.60" y1="78.30" x2="199.60" y2="79.30" stroke="#222" stroke-width="0.45" />
<line x1="201.68" y1="78.30" x2="201.68" y2="79.30" stroke="#222" stroke-width="0.45" />
<line x1="203.75" y1="78.30" x2="203.75" y2="79.30" stroke="#222" stroke-width="0.45" />
<line x1="205.83" y1="78.30" x2="205.83" y2="79.30" stroke="#222" stroke-width="0.45" />
<line x1="207.90" y1="78.30" x2="207.90" y2="79.30" stroke="#222" stroke-width="0.45" />
<line x1="209.98" y1="78.30" x2="209.98" y2="79.30" stroke="#222" stroke-width="0.45" />
<line x1="212.06" y1="78.30" x2="212.06" y2="79.30" stroke="#222" stroke-width="0.45" />
<line x1="214.13" y1="78.30" x2="214.13" y2="79.30" stroke="#222" stroke-width="0.45" />
<line x1="216.21" y1="78.30" x2="216.21" y2="79.30" stroke="#222" stroke-width="0.45" />
<line x1="218.28" y1="78.30" x2="218.28" y2="79.30" stroke="#222" stroke-width="0.45" />
<line x1="220.36" y1="78.30" x2="220.36" y2="79.30" stroke="#222" stroke-width="0.45" />
<line x1="222.44" y1="78.30" x2="222.44" y2="79.30" stroke="#222" stroke-width="0.45" />
<line x1="224.51" y1="78.30" x2="224.51" y2="79.30" stroke="#222" stroke-width="0.45" />
<line x1="226.59" y1="78.30" x2="226.59" y2="79.30" stroke="#222" stroke-width="0.45" />
<line x1="228.66" y1="78.30" x2="228.66" y2="79.30" stroke="#222" stroke-width="0.45" />
<line x1="230.74" y1="78.30" x2="230.74" y2="79.30" stroke="#222" stroke-width="0.45" />
<line x1="232.82" y1="78.30" x2="232.82" y2="79.30" stroke="#222" stroke-width="0.45" />
<line x1="234.89" y1="78.30" x2="234.89" y2="79.30" stroke="#222" stroke-width="0.45" />
<line x1="236.97" y1="78.30" x2="236.97" y2="79.30" stroke="#222" stroke-width="0.45" />
<line x1="239.04" y1="78.30" x2="239.04" y2="79.30" stroke="#222" stroke-width="0.45" />
<line x1="241.12" y1="78.30" x2="241.12" y2="79.30" stroke="#222" stroke-width="0.45" />
<line x1="243.20" y1="78.30" x2="243.20" y2="79.30" stroke="#222" stroke-width="0.45" />
<line x1="245.27" y1="78.30" x2="245.27" y2="79.30" stroke="#222" stroke-width="0.45" />
<line x1="247.35" y1="78.30" x2="247.35" y2="79.30" stroke="#222" stroke-width="0.45" />
<line x1="249.42" y1="78.30" x2="249.42" y2="79.30" stroke="#222" stroke-width="0.45" />
<line x1="251.50" y1="78.30" x2="251.50" y2="79.30" stroke="#222" stroke-width="0.45" />
<path d="M200,39.8 L211.2,29.2 L241,33.8 L247,56.6 L245.2,75 L210,77.3" fill="none" stroke="#555" stroke-width="0.6"/>
<line x1="229.00" y1="33.30" x2="286.60" y2="33.30" stroke="#444" stroke-width="0.6" />
<text x="230.30" y="68.40" font-size="5.8" text-anchor="start" fill="#222" stroke="#222" stroke-width="0.1" textLength="12" lengthAdjust="spacingAndGlyphs" >Cells</text>
<text x="193.40" y="29.10" font-size="5.9" text-anchor="end" fill="#1a1a1a" stroke="#1a1a1a" stroke-width="0.12">100K</text>
<line x1="197.60" y1="27.10" x2="199.60" y2="27.10" stroke="#111" stroke-width="0.7" />
<text x="193.40" y="39.20" font-size="5.9" text-anchor="end" fill="#1a1a1a" stroke="#1a1a1a" stroke-width="0.12">80K</text>
<line x1="197.60" y1="37.20" x2="199.60" y2="37.20" stroke="#111" stroke-width="0.7" />
<text x="193.40" y="49.40" font-size="5.9" text-anchor="end" fill="#1a1a1a" stroke="#1a1a1a" stroke-width="0.12">60K</text>
<line x1="197.60" y1="47.40" x2="199.60" y2="47.40" stroke="#111" stroke-width="0.7" />
<text x="193.40" y="59.40" font-size="5.9" text-anchor="end" fill="#1a1a1a" stroke="#1a1a1a" stroke-width="0.12">40K</text>
<line x1="197.60" y1="57.40" x2="199.60" y2="57.40" stroke="#111" stroke-width="0.7" />
<text x="193.40" y="69.40" font-size="5.9" text-anchor="end" fill="#1a1a1a" stroke="#1a1a1a" stroke-width="0.12">20K</text>
<line x1="197.60" y1="67.40" x2="199.60" y2="67.40" stroke="#111" stroke-width="0.7" />
<text x="193.40" y="79.50" font-size="5.9" text-anchor="end" fill="#1a1a1a" stroke="#1a1a1a" stroke-width="0.12">0</text>
<line x1="197.60" y1="77.50" x2="199.60" y2="77.50" stroke="#111" stroke-width="0.7" />
<text x="202.60" y="86.80" font-size="5.9" text-anchor="end" fill="#1a1a1a" transform="rotate(-45 202.60 86.80)" stroke="#1a1a1a" stroke-width="0.18">0</text>
<text x="213.00" y="86.80" font-size="5.9" text-anchor="end" fill="#1a1a1a" transform="rotate(-45 213.00 86.80)" stroke="#1a1a1a" stroke-width="0.18">20K</text>
<text x="223.30" y="86.80" font-size="5.9" text-anchor="end" fill="#1a1a1a" transform="rotate(-45 223.30 86.80)" stroke="#1a1a1a" stroke-width="0.18">40K</text>
<text x="233.60" y="86.80" font-size="5.9" text-anchor="end" fill="#1a1a1a" transform="rotate(-45 233.60 86.80)" stroke="#1a1a1a" stroke-width="0.18">60K</text>
<text x="243.90" y="86.80" font-size="5.9" text-anchor="end" fill="#1a1a1a" transform="rotate(-45 243.90 86.80)" stroke="#1a1a1a" stroke-width="0.18">80K</text>
<text x="254.20" y="86.80" font-size="5.9" text-anchor="end" fill="#1a1a1a" transform="rotate(-45 254.20 86.80)" stroke="#1a1a1a" stroke-width="0.18">100K</text>
<text x="175.00" y="52.40" font-size="9" text-anchor="middle" fill="#222" stroke="#222" stroke-width="0.2" textLength="16" lengthAdjust="spacingAndGlyphs" transform="rotate(-90 175.00 52.40)" >SSC-A</text>
<text x="225.70" y="108.00" font-size="9" text-anchor="middle" fill="#222" stroke="#222" stroke-width="0.2" textLength="15.5" lengthAdjust="spacingAndGlyphs" >FSC-A</text>
<circle cx="300.9" cy="54.2" r="0.42" fill="#3a66b8"/>
<circle cx="302.4" cy="56.0" r="0.42" fill="#3a66b8"/>
<circle cx="289.0" cy="40.1" r="0.42" fill="#3a66b8"/>
<circle cx="288.3" cy="37.9" r="0.42" fill="#3a66b8"/>
<circle cx="302.2" cy="40.0" r="0.42" fill="#3a66b8"/>
<circle cx="298.4" cy="44.0" r="0.42" fill="#3a66b8"/>
<circle cx="293.8" cy="48.8" r="0.42" fill="#3a66b8"/>
<circle cx="301.0" cy="50.5" r="0.42" fill="#3a66b8"/>
<circle cx="307.4" cy="61.9" r="0.42" fill="#3a66b8"/>
<circle cx="307.8" cy="62.6" r="0.42" fill="#3a66b8"/>
<circle cx="299.9" cy="55.8" r="0.42" fill="#3a66b8"/>
<circle cx="300.5" cy="55.3" r="0.42" fill="#3a66b8"/>
<circle cx="312.9" cy="65.6" r="0.42" fill="#3a66b8"/>
<circle cx="315.0" cy="65.4" r="0.42" fill="#3a66b8"/>
<circle cx="309.0" cy="55.8" r="0.42" fill="#3a66b8"/>
<circle cx="307.9" cy="53.6" r="0.42" fill="#3a66b8"/>
<circle cx="300.3" cy="34.1" r="0.42" fill="#3a66b8"/>
<circle cx="320.0" cy="65.2" r="0.42" fill="#3a66b8"/>
<circle cx="297.1" cy="49.4" r="0.42" fill="#3a66b8"/>
<circle cx="319.3" cy="64.3" r="0.42" fill="#3a66b8"/>
<circle cx="300.6" cy="53.3" r="0.42" fill="#3a66b8"/>
<circle cx="296.9" cy="51.3" r="0.42" fill="#3a66b8"/>
<circle cx="291.8" cy="47.6" r="0.42" fill="#3a66b8"/>
<circle cx="306.1" cy="60.5" r="0.42" fill="#3a66b8"/>
<circle cx="316.5" cy="58.0" r="0.42" fill="#3a66b8"/>
<circle cx="307.6" cy="57.9" r="0.42" fill="#3a66b8"/>
<circle cx="304.7" cy="56.2" r="0.42" fill="#3a66b8"/>
<circle cx="302.2" cy="57.7" r="0.42" fill="#3a66b8"/>
<circle cx="298.5" cy="51.4" r="0.42" fill="#3a66b8"/>
<circle cx="293.9" cy="49.4" r="0.42" fill="#3a66b8"/>
<circle cx="288.3" cy="44.0" r="0.42" fill="#3a66b8"/>
<circle cx="305.6" cy="54.9" r="0.42" fill="#3a66b8"/>
<circle cx="289.7" cy="37.6" r="0.42" fill="#3a66b8"/>
<circle cx="296.8" cy="52.8" r="0.42" fill="#3a66b8"/>
<circle cx="320.9" cy="62.9" r="0.42" fill="#3a66b8"/>
<circle cx="297.5" cy="52.3" r="0.42" fill="#3a66b8"/>
<circle cx="292.1" cy="42.8" r="0.42" fill="#3a66b8"/>
<circle cx="313.6" cy="65.8" r="0.42" fill="#3a66b8"/>
<circle cx="310.0" cy="55.3" r="0.42" fill="#3a66b8"/>
<circle cx="291.6" cy="40.0" r="0.42" fill="#3a66b8"/>
<circle cx="307.0" cy="57.0" r="0.42" fill="#3a66b8"/>
<circle cx="298.9" cy="53.7" r="0.42" fill="#3a66b8"/>
<circle cx="303.9" cy="57.4" r="0.42" fill="#3a66b8"/>
<circle cx="313.1" cy="62.1" r="0.42" fill="#3a66b8"/>
<circle cx="299.6" cy="55.2" r="0.42" fill="#3a66b8"/>
<circle cx="307.0" cy="60.9" r="0.42" fill="#3a66b8"/>
<circle cx="293.9" cy="50.2" r="0.42" fill="#3a66b8"/>
<circle cx="292.4" cy="44.0" r="0.42" fill="#3a66b8"/>
<circle cx="291.6" cy="45.5" r="0.42" fill="#3a66b8"/>
<circle cx="324.9" cy="62.0" r="0.42" fill="#3a66b8"/>
<circle cx="311.8" cy="65.2" r="0.42" fill="#3a66b8"/>
<circle cx="289.0" cy="44.0" r="0.42" fill="#3a66b8"/>
<circle cx="314.0" cy="44.8" r="0.42" fill="#3a66b8"/>
<circle cx="300.4" cy="52.5" r="0.42" fill="#3a66b8"/>
<circle cx="324.5" cy="60.3" r="0.42" fill="#3a66b8"/>
<circle cx="312.9" cy="61.0" r="0.42" fill="#3a66b8"/>
<circle cx="291.2" cy="44.8" r="0.42" fill="#3a66b8"/>
<circle cx="294.0" cy="47.8" r="0.42" fill="#3a66b8"/>
<circle cx="298.9" cy="49.2" r="0.42" fill="#3a66b8"/>
<circle cx="296.7" cy="49.1" r="0.42" fill="#3a66b8"/>
<circle cx="311.1" cy="64.6" r="0.42" fill="#3a66b8"/>
<circle cx="288.8" cy="41.7" r="0.42" fill="#3a66b8"/>
<circle cx="292.1" cy="42.1" r="0.42" fill="#3a66b8"/>
<circle cx="300.4" cy="50.1" r="0.42" fill="#3a66b8"/>
<circle cx="292.1" cy="38.8" r="0.42" fill="#3a66b8"/>
<circle cx="291.1" cy="35.7" r="0.42" fill="#3a66b8"/>
<circle cx="309.5" cy="62.7" r="0.42" fill="#3a66b8"/>
<circle cx="307.9" cy="62.7" r="0.42" fill="#3a66b8"/>
<circle cx="315.7" cy="47.5" r="0.42" fill="#3a66b8"/>
<circle cx="291.0" cy="44.2" r="0.42" fill="#3a66b8"/>
<circle cx="308.7" cy="54.5" r="0.42" fill="#3a66b8"/>
<circle cx="319.3" cy="59.5" r="0.42" fill="#3a66b8"/>
<circle cx="304.8" cy="48.7" r="0.42" fill="#3a66b8"/>
<circle cx="307.5" cy="47.3" r="0.42" fill="#3a66b8"/>
<circle cx="322.5" cy="65.6" r="0.42" fill="#3a66b8"/>
<circle cx="308.5" cy="62.4" r="0.42" fill="#3a66b8"/>
<circle cx="294.5" cy="48.4" r="0.42" fill="#3a66b8"/>
<circle cx="321.1" cy="64.7" r="0.42" fill="#3a66b8"/>
<circle cx="300.0" cy="51.1" r="0.42" fill="#3a66b8"/>
<circle cx="308.7" cy="61.1" r="0.42" fill="#3a66b8"/>
<circle cx="322.1" cy="51.2" r="0.42" fill="#3a66b8"/>
<circle cx="320.3" cy="49.0" r="0.42" fill="#3a66b8"/>
<circle cx="312.2" cy="63.2" r="0.42" fill="#3a66b8"/>
<circle cx="309.0" cy="62.5" r="0.42" fill="#3a66b8"/>
<circle cx="305.1" cy="52.2" r="0.42" fill="#3a66b8"/>
<circle cx="290.1" cy="45.5" r="0.42" fill="#3a66b8"/>
<circle cx="300.7" cy="52.4" r="0.42" fill="#3a66b8"/>
<circle cx="302.6" cy="53.0" r="0.42" fill="#3a66b8"/>
<circle cx="296.3" cy="49.2" r="0.42" fill="#3a66b8"/>
<circle cx="301.7" cy="57.0" r="0.42" fill="#3a66b8"/>
<circle cx="312.8" cy="55.0" r="0.42" fill="#3a66b8"/>
<circle cx="294.6" cy="47.8" r="0.42" fill="#3a66b8"/>
<circle cx="289.5" cy="44.9" r="0.42" fill="#3a66b8"/>
<circle cx="310.7" cy="56.9" r="0.42" fill="#3a66b8"/>
<circle cx="300.0" cy="55.3" r="0.42" fill="#3a66b8"/>
<circle cx="290.2" cy="47.0" r="0.42" fill="#3a66b8"/>
<circle cx="300.7" cy="50.1" r="0.42" fill="#3a66b8"/>
<circle cx="308.8" cy="56.9" r="0.42" fill="#3a66b8"/>
<circle cx="304.7" cy="56.3" r="0.42" fill="#3a66b8"/>
<circle cx="301.8" cy="57.4" r="0.42" fill="#3a66b8"/>
<circle cx="293.2" cy="49.5" r="0.42" fill="#3a66b8"/>
<circle cx="303.0" cy="55.4" r="0.42" fill="#3a66b8"/>
<circle cx="319.0" cy="64.8" r="0.42" fill="#3a66b8"/>
<circle cx="301.2" cy="52.4" r="0.42" fill="#3a66b8"/>
<circle cx="310.4" cy="54.7" r="0.42" fill="#3a66b8"/>
<circle cx="307.5" cy="61.8" r="0.42" fill="#3a66b8"/>
<circle cx="316.6" cy="62.7" r="0.42" fill="#3a66b8"/>
<circle cx="308.4" cy="54.0" r="0.42" fill="#3a66b8"/>
<circle cx="300.5" cy="54.7" r="0.42" fill="#3a66b8"/>
<circle cx="304.7" cy="55.9" r="0.42" fill="#3a66b8"/>
<circle cx="294.5" cy="46.0" r="0.42" fill="#3a66b8"/>
<circle cx="317.2" cy="61.5" r="0.42" fill="#3a66b8"/>
<circle cx="318.0" cy="59.8" r="0.42" fill="#3a66b8"/>
<circle cx="296.5" cy="52.7" r="0.42" fill="#3a66b8"/>
<circle cx="323.4" cy="60.5" r="0.42" fill="#3a66b8"/>
<circle cx="313.0" cy="57.1" r="0.42" fill="#3a66b8"/>
<circle cx="298.8" cy="50.8" r="0.42" fill="#3a66b8"/>
<circle cx="307.2" cy="61.7" r="0.42" fill="#3a66b8"/>
<circle cx="314.8" cy="64.1" r="0.42" fill="#3a66b8"/>
<circle cx="293.8" cy="48.7" r="0.42" fill="#3a66b8"/>
<circle cx="322.3" cy="57.2" r="0.42" fill="#3a66b8"/>
<circle cx="302.2" cy="56.4" r="0.42" fill="#3a66b8"/>
<circle cx="305.7" cy="49.4" r="0.42" fill="#3a66b8"/>
<circle cx="301.1" cy="53.1" r="0.42" fill="#3a66b8"/>
<circle cx="289.8" cy="35.6" r="0.42" fill="#3a66b8"/>
<circle cx="289.5" cy="35.9" r="0.42" fill="#3a66b8"/>
<circle cx="298.5" cy="48.9" r="0.42" fill="#3a66b8"/>
<circle cx="316.2" cy="60.5" r="0.42" fill="#3a66b8"/>
<circle cx="295.6" cy="34.8" r="0.42" fill="#3a66b8"/>
<circle cx="301.9" cy="55.0" r="0.42" fill="#3a66b8"/>
<circle cx="298.0" cy="49.4" r="0.42" fill="#3a66b8"/>
<circle cx="290.3" cy="45.7" r="0.42" fill="#3a66b8"/>
<circle cx="310.0" cy="63.8" r="0.42" fill="#3a66b8"/>
<circle cx="321.6" cy="53.3" r="0.42" fill="#3a66b8"/>
<circle cx="315.9" cy="61.7" r="0.42" fill="#3a66b8"/>
<circle cx="316.4" cy="65.1" r="0.42" fill="#3a66b8"/>
<circle cx="294.7" cy="37.2" r="0.42" fill="#3a66b8"/>
<circle cx="290.9" cy="41.1" r="0.42" fill="#3a66b8"/>
<circle cx="314.3" cy="65.1" r="0.42" fill="#3a66b8"/>
<circle cx="300.8" cy="54.4" r="0.42" fill="#3a66b8"/>
<circle cx="294.6" cy="49.4" r="0.42" fill="#3a66b8"/>
<circle cx="305.6" cy="58.4" r="0.42" fill="#3a66b8"/>
<circle cx="297.7" cy="51.5" r="0.42" fill="#3a66b8"/>
<circle cx="315.7" cy="63.2" r="0.42" fill="#3a66b8"/>
<circle cx="299.4" cy="37.6" r="0.42" fill="#3a66b8"/>
<circle cx="303.0" cy="58.1" r="0.42" fill="#3a66b8"/>
<circle cx="303.8" cy="59.1" r="0.42" fill="#3a66b8"/>
<circle cx="300.4" cy="53.4" r="0.42" fill="#3a66b8"/>
<circle cx="289.9" cy="47.1" r="0.42" fill="#3a66b8"/>
<circle cx="327.3" cy="63.4" r="0.42" fill="#3a66b8"/>
<circle cx="317.0" cy="63.9" r="0.42" fill="#3a66b8"/>
<circle cx="307.9" cy="58.2" r="0.42" fill="#3a66b8"/>
<circle cx="310.9" cy="63.3" r="0.42" fill="#3a66b8"/>
<circle cx="313.8" cy="59.5" r="0.42" fill="#3a66b8"/>
<circle cx="309.8" cy="61.2" r="0.42" fill="#3a66b8"/>
<circle cx="306.2" cy="55.4" r="0.42" fill="#3a66b8"/>
<g filter="url(#bl05)">
<path d="M287.6,74 L287.6,50 L289,48.5 L290,47.2 L291,49 L292.2,46.5 L293.5,49.2 L294.8,48.4 L296,51 L298.5,52.5 L301,55.5 L304,57.5 L307,60.5 L310.5,62.5 L314,65.5 L317,68 L320,71 L322.5,74 Z" fill="#1d3c8f"/>
</g>
<g filter="url(#bl1)">
<rect x="287.8" y="64.6" width="22" height="8.8" rx="3" fill="#40c4d8"/>
<rect x="288.6" y="65.6" width="19.6" height="6.6" rx="3" fill="#6cc24a"/>
<rect x="291.7" y="66.6" width="14" height="4.9" rx="2.4" fill="#f2e23a"/>
<rect x="293.2" y="67.2" width="11.4" height="3.2" rx="1.6" fill="#f29a2a"/>
<rect x="294.3" y="67.5" width="9.4" height="2.4" rx="1.2" fill="#e0201c"/>
</g>
<rect x="286.6" y="26.8" width="51.90" height="51.50" fill="none" stroke="#333" stroke-width="0.85"/>
<line x1="285.60" y1="26.80" x2="286.60" y2="26.80" stroke="#222" stroke-width="0.45" />
<line x1="285.60" y1="28.86" x2="286.60" y2="28.86" stroke="#222" stroke-width="0.45" />
<line x1="285.60" y1="30.92" x2="286.60" y2="30.92" stroke="#222" stroke-width="0.45" />
<line x1="285.60" y1="32.98" x2="286.60" y2="32.98" stroke="#222" stroke-width="0.45" />
<line x1="285.60" y1="35.04" x2="286.60" y2="35.04" stroke="#222" stroke-width="0.45" />
<line x1="285.60" y1="37.10" x2="286.60" y2="37.10" stroke="#222" stroke-width="0.45" />
<line x1="285.60" y1="39.16" x2="286.60" y2="39.16" stroke="#222" stroke-width="0.45" />
<line x1="285.60" y1="41.22" x2="286.60" y2="41.22" stroke="#222" stroke-width="0.45" />
<line x1="285.60" y1="43.28" x2="286.60" y2="43.28" stroke="#222" stroke-width="0.45" />
<line x1="285.60" y1="45.34" x2="286.60" y2="45.34" stroke="#222" stroke-width="0.45" />
<line x1="285.60" y1="47.40" x2="286.60" y2="47.40" stroke="#222" stroke-width="0.45" />
<line x1="285.60" y1="49.46" x2="286.60" y2="49.46" stroke="#222" stroke-width="0.45" />
<line x1="285.60" y1="51.52" x2="286.60" y2="51.52" stroke="#222" stroke-width="0.45" />
<line x1="285.60" y1="53.58" x2="286.60" y2="53.58" stroke="#222" stroke-width="0.45" />
<line x1="285.60" y1="55.64" x2="286.60" y2="55.64" stroke="#222" stroke-width="0.45" />
<line x1="285.60" y1="57.70" x2="286.60" y2="57.70" stroke="#222" stroke-width="0.45" />
<line x1="285.60" y1="59.76" x2="286.60" y2="59.76" stroke="#222" stroke-width="0.45" />
<line x1="285.60" y1="61.82" x2="286.60" y2="61.82" stroke="#222" stroke-width="0.45" />
<line x1="285.60" y1="63.88" x2="286.60" y2="63.88" stroke="#222" stroke-width="0.45" />
<line x1="285.60" y1="65.94" x2="286.60" y2="65.94" stroke="#222" stroke-width="0.45" />
<line x1="285.60" y1="68.00" x2="286.60" y2="68.00" stroke="#222" stroke-width="0.45" />
<line x1="285.60" y1="70.06" x2="286.60" y2="70.06" stroke="#222" stroke-width="0.45" />
<line x1="285.60" y1="72.12" x2="286.60" y2="72.12" stroke="#222" stroke-width="0.45" />
<line x1="285.60" y1="74.18" x2="286.60" y2="74.18" stroke="#222" stroke-width="0.45" />
<line x1="285.60" y1="76.24" x2="286.60" y2="76.24" stroke="#222" stroke-width="0.45" />
<line x1="285.60" y1="78.30" x2="286.60" y2="78.30" stroke="#222" stroke-width="0.45" />
<line x1="286.60" y1="78.30" x2="286.60" y2="79.30" stroke="#222" stroke-width="0.45" />
<line x1="288.68" y1="78.30" x2="288.68" y2="79.30" stroke="#222" stroke-width="0.45" />
<line x1="290.75" y1="78.30" x2="290.75" y2="79.30" stroke="#222" stroke-width="0.45" />
<line x1="292.83" y1="78.30" x2="292.83" y2="79.30" stroke="#222" stroke-width="0.45" />
<line x1="294.90" y1="78.30" x2="294.90" y2="79.30" stroke="#222" stroke-width="0.45" />
<line x1="296.98" y1="78.30" x2="296.98" y2="79.30" stroke="#222" stroke-width="0.45" />
<line x1="299.06" y1="78.30" x2="299.06" y2="79.30" stroke="#222" stroke-width="0.45" />
<line x1="301.13" y1="78.30" x2="301.13" y2="79.30" stroke="#222" stroke-width="0.45" />
<line x1="303.21" y1="78.30" x2="303.21" y2="79.30" stroke="#222" stroke-width="0.45" />
<line x1="305.28" y1="78.30" x2="305.28" y2="79.30" stroke="#222" stroke-width="0.45" />
<line x1="307.36" y1="78.30" x2="307.36" y2="79.30" stroke="#222" stroke-width="0.45" />
<line x1="309.44" y1="78.30" x2="309.44" y2="79.30" stroke="#222" stroke-width="0.45" />
<line x1="311.51" y1="78.30" x2="311.51" y2="79.30" stroke="#222" stroke-width="0.45" />
<line x1="313.59" y1="78.30" x2="313.59" y2="79.30" stroke="#222" stroke-width="0.45" />
<line x1="315.66" y1="78.30" x2="315.66" y2="79.30" stroke="#222" stroke-width="0.45" />
<line x1="317.74" y1="78.30" x2="317.74" y2="79.30" stroke="#222" stroke-width="0.45" />
<line x1="319.82" y1="78.30" x2="319.82" y2="79.30" stroke="#222" stroke-width="0.45" />
<line x1="321.89" y1="78.30" x2="321.89" y2="79.30" stroke="#222" stroke-width="0.45" />
<line x1="323.97" y1="78.30" x2="323.97" y2="79.30" stroke="#222" stroke-width="0.45" />
<line x1="326.04" y1="78.30" x2="326.04" y2="79.30" stroke="#222" stroke-width="0.45" />
<line x1="328.12" y1="78.30" x2="328.12" y2="79.30" stroke="#222" stroke-width="0.45" />
<line x1="330.20" y1="78.30" x2="330.20" y2="79.30" stroke="#222" stroke-width="0.45" />
<line x1="332.27" y1="78.30" x2="332.27" y2="79.30" stroke="#222" stroke-width="0.45" />
<line x1="334.35" y1="78.30" x2="334.35" y2="79.30" stroke="#222" stroke-width="0.45" />
<line x1="336.42" y1="78.30" x2="336.42" y2="79.30" stroke="#222" stroke-width="0.45" />
<line x1="338.50" y1="78.30" x2="338.50" y2="79.30" stroke="#222" stroke-width="0.45" />
<rect x="286.6" y="64.4" width="45.9" height="10.1" fill="none" stroke="#555" stroke-width="0.6"/>
<line x1="332.50" y1="64.40" x2="366.40" y2="64.40" stroke="#444" stroke-width="0.6" />
<text x="305.60" y="62.80" font-size="5.4" text-anchor="start" fill="#333" stroke="#333" stroke-width="0.1" textLength="30" lengthAdjust="spacingAndGlyphs" >Single cells</text>
<text x="280.50" y="29.10" font-size="5.9" text-anchor="end" fill="#1a1a1a" stroke="#1a1a1a" stroke-width="0.12">100K</text>
<line x1="284.60" y1="27.10" x2="286.60" y2="27.10" stroke="#111" stroke-width="0.7" />
<text x="280.50" y="39.20" font-size="5.9" text-anchor="end" fill="#1a1a1a" stroke="#1a1a1a" stroke-width="0.12">80K</text>
<line x1="284.60" y1="37.20" x2="286.60" y2="37.20" stroke="#111" stroke-width="0.7" />
<text x="280.50" y="49.40" font-size="5.9" text-anchor="end" fill="#1a1a1a" stroke="#1a1a1a" stroke-width="0.12">60K</text>
<line x1="284.60" y1="47.40" x2="286.60" y2="47.40" stroke="#111" stroke-width="0.7" />
<text x="280.50" y="59.40" font-size="5.9" text-anchor="end" fill="#1a1a1a" stroke="#1a1a1a" stroke-width="0.12">40K</text>
<line x1="284.60" y1="57.40" x2="286.60" y2="57.40" stroke="#111" stroke-width="0.7" />
<text x="280.50" y="69.40" font-size="5.9" text-anchor="end" fill="#1a1a1a" stroke="#1a1a1a" stroke-width="0.12">20K</text>
<line x1="284.60" y1="67.40" x2="286.60" y2="67.40" stroke="#111" stroke-width="0.7" />
<text x="280.50" y="79.50" font-size="5.9" text-anchor="end" fill="#1a1a1a" stroke="#1a1a1a" stroke-width="0.12">0</text>
<line x1="284.60" y1="77.50" x2="286.60" y2="77.50" stroke="#111" stroke-width="0.7" />
<text x="290.00" y="86.80" font-size="5.9" text-anchor="end" fill="#1a1a1a" transform="rotate(-45 290.00 86.80)" stroke="#1a1a1a" stroke-width="0.18">0</text>
<text x="300.40" y="86.80" font-size="5.9" text-anchor="end" fill="#1a1a1a" transform="rotate(-45 300.40 86.80)" stroke="#1a1a1a" stroke-width="0.18">20K</text>
<text x="310.70" y="86.80" font-size="5.9" text-anchor="end" fill="#1a1a1a" transform="rotate(-45 310.70 86.80)" stroke="#1a1a1a" stroke-width="0.18">40K</text>
<text x="321.00" y="86.80" font-size="5.9" text-anchor="end" fill="#1a1a1a" transform="rotate(-45 321.00 86.80)" stroke="#1a1a1a" stroke-width="0.18">60K</text>
<text x="331.30" y="86.80" font-size="5.9" text-anchor="end" fill="#1a1a1a" transform="rotate(-45 331.30 86.80)" stroke="#1a1a1a" stroke-width="0.18">80K</text>
<text x="341.60" y="86.80" font-size="5.9" text-anchor="end" fill="#1a1a1a" transform="rotate(-45 341.60 86.80)" stroke="#1a1a1a" stroke-width="0.18">100K</text>
<text x="262.00" y="52.20" font-size="9" text-anchor="middle" fill="#222" stroke="#222" stroke-width="0.2" textLength="17.3" lengthAdjust="spacingAndGlyphs" transform="rotate(-90 262.00 52.20)" >SSC-W</text>
<text x="310.80" y="108.00" font-size="9" text-anchor="middle" fill="#222" stroke="#222" stroke-width="0.2" textLength="15.5" lengthAdjust="spacingAndGlyphs" >SSC-A</text>
<circle cx="382.6" cy="42.3" r="0.42" fill="#3a66b8"/>
<circle cx="386.5" cy="49.8" r="0.42" fill="#3a66b8"/>
<circle cx="382.8" cy="51.4" r="0.42" fill="#3a66b8"/>
<circle cx="387.8" cy="39.3" r="0.42" fill="#3a66b8"/>
<circle cx="397.0" cy="58.1" r="0.42" fill="#3a66b8"/>
<circle cx="383.0" cy="49.5" r="0.42" fill="#3a66b8"/>
<circle cx="398.6" cy="53.7" r="0.42" fill="#3a66b8"/>
<circle cx="398.8" cy="61.7" r="0.42" fill="#3a66b8"/>
<circle cx="381.0" cy="42.4" r="0.42" fill="#3a66b8"/>
<circle cx="391.2" cy="48.4" r="0.42" fill="#3a66b8"/>
<circle cx="381.9" cy="52.2" r="0.42" fill="#3a66b8"/>
<circle cx="388.9" cy="64.9" r="0.42" fill="#3a66b8"/>
<circle cx="385.6" cy="51.3" r="0.42" fill="#3a66b8"/>
<circle cx="391.7" cy="45.1" r="0.42" fill="#3a66b8"/>
<circle cx="389.0" cy="47.6" r="0.42" fill="#3a66b8"/>
<circle cx="390.4" cy="46.3" r="0.42" fill="#3a66b8"/>
<circle cx="385.1" cy="39.9" r="0.42" fill="#3a66b8"/>
<circle cx="383.6" cy="52.9" r="0.42" fill="#3a66b8"/>
<circle cx="398.7" cy="38.5" r="0.42" fill="#3a66b8"/>
<circle cx="398.9" cy="59.1" r="0.42" fill="#3a66b8"/>
<circle cx="377.5" cy="48.6" r="0.42" fill="#3a66b8"/>
<circle cx="391.9" cy="63.2" r="0.42" fill="#3a66b8"/>
<circle cx="382.3" cy="49.2" r="0.42" fill="#3a66b8"/>
<circle cx="380.7" cy="49.9" r="0.42" fill="#3a66b8"/>
<circle cx="390.2" cy="46.6" r="0.42" fill="#3a66b8"/>
<circle cx="400.4" cy="59.8" r="0.42" fill="#3a66b8"/>
<circle cx="392.8" cy="61.5" r="0.42" fill="#3a66b8"/>
<circle cx="388.5" cy="44.2" r="0.42" fill="#3a66b8"/>
<circle cx="388.4" cy="43.5" r="0.42" fill="#3a66b8"/>
<circle cx="392.9" cy="45.6" r="0.42" fill="#3a66b8"/>
<circle cx="394.6" cy="64.8" r="0.42" fill="#3a66b8"/>
<circle cx="398.0" cy="63.8" r="0.42" fill="#3a66b8"/>
<circle cx="376.1" cy="45.2" r="0.42" fill="#3a66b8"/>
<circle cx="398.4" cy="64.9" r="0.42" fill="#3a66b8"/>
<circle cx="393.4" cy="62.9" r="0.42" fill="#3a66b8"/>
<circle cx="393.4" cy="59.7" r="0.42" fill="#3a66b8"/>
<circle cx="377.1" cy="47.7" r="0.42" fill="#3a66b8"/>
<circle cx="390.1" cy="44.5" r="0.42" fill="#3a66b8"/>
<circle cx="391.7" cy="60.3" r="0.42" fill="#3a66b8"/>
<circle cx="380.8" cy="42.3" r="0.42" fill="#3a66b8"/>
<circle cx="398.7" cy="62.7" r="0.42" fill="#3a66b8"/>
<circle cx="377.6" cy="44.6" r="0.42" fill="#3a66b8"/>
<circle cx="382.5" cy="41.2" r="0.42" fill="#3a66b8"/>
<circle cx="395.1" cy="64.8" r="0.42" fill="#3a66b8"/>
<circle cx="389.3" cy="47.6" r="0.42" fill="#3a66b8"/>
<circle cx="378.3" cy="46.7" r="0.42" fill="#3a66b8"/>
<circle cx="396.1" cy="65.0" r="0.42" fill="#3a66b8"/>
<circle cx="381.6" cy="39.6" r="0.42" fill="#3a66b8"/>
<circle cx="388.9" cy="49.2" r="0.42" fill="#3a66b8"/>
<circle cx="385.3" cy="40.5" r="0.42" fill="#3a66b8"/>
<circle cx="382.9" cy="54.2" r="0.42" fill="#3a66b8"/>
<circle cx="389.5" cy="46.6" r="0.42" fill="#3a66b8"/>
<circle cx="382.1" cy="41.7" r="0.42" fill="#3a66b8"/>
<circle cx="378.2" cy="50.1" r="0.42" fill="#3a66b8"/>
<circle cx="394.1" cy="47.1" r="0.42" fill="#3a66b8"/>
<circle cx="389.0" cy="43.6" r="0.42" fill="#3a66b8"/>
<circle cx="393.0" cy="59.8" r="0.42" fill="#3a66b8"/>
<circle cx="379.0" cy="50.3" r="0.42" fill="#3a66b8"/>
<circle cx="386.0" cy="51.7" r="0.42" fill="#3a66b8"/>
<circle cx="400.8" cy="57.5" r="0.42" fill="#3a66b8"/>
<circle cx="377.2" cy="45.1" r="0.42" fill="#3a66b8"/>
<circle cx="389.7" cy="55.4" r="0.42" fill="#3a66b8"/>
<circle cx="378.0" cy="47.2" r="0.42" fill="#3a66b8"/>
<circle cx="388.2" cy="43.0" r="0.42" fill="#3a66b8"/>
<circle cx="398.4" cy="59.0" r="0.42" fill="#3a66b8"/>
<circle cx="390.5" cy="49.4" r="0.42" fill="#3a66b8"/>
<circle cx="377.3" cy="40.2" r="0.42" fill="#3a66b8"/>
<circle cx="382.9" cy="42.9" r="0.42" fill="#3a66b8"/>
<circle cx="388.5" cy="48.1" r="0.42" fill="#3a66b8"/>
<circle cx="393.6" cy="42.8" r="0.42" fill="#3a66b8"/>
<circle cx="391.4" cy="44.4" r="0.42" fill="#3a66b8"/>
<circle cx="377.8" cy="46.5" r="0.42" fill="#3a66b8"/>
<circle cx="379.7" cy="40.7" r="0.42" fill="#3a66b8"/>
<circle cx="380.1" cy="42.7" r="0.42" fill="#3a66b8"/>
<circle cx="391.7" cy="43.2" r="0.42" fill="#3a66b8"/>
<circle cx="400.2" cy="61.3" r="0.42" fill="#3a66b8"/>
<circle cx="389.4" cy="47.8" r="0.42" fill="#3a66b8"/>
<circle cx="377.4" cy="42.9" r="0.42" fill="#3a66b8"/>
<circle cx="400.3" cy="64.0" r="0.42" fill="#3a66b8"/>
<circle cx="378.4" cy="45.7" r="0.42" fill="#3a66b8"/>
<circle cx="389.2" cy="65.0" r="0.42" fill="#3a66b8"/>
<circle cx="388.7" cy="43.9" r="0.42" fill="#3a66b8"/>
<circle cx="388.3" cy="40.8" r="0.42" fill="#3a66b8"/>
<circle cx="385.3" cy="43.1" r="0.42" fill="#3a66b8"/>
<circle cx="400.1" cy="56.9" r="0.42" fill="#3a66b8"/>
<circle cx="384.5" cy="50.0" r="0.42" fill="#3a66b8"/>
<circle cx="395.2" cy="44.5" r="0.42" fill="#3a66b8"/>
<circle cx="394.4" cy="64.7" r="0.42" fill="#3a66b8"/>
<circle cx="383.8" cy="42.7" r="0.42" fill="#3a66b8"/>
<circle cx="394.4" cy="46.6" r="0.42" fill="#3a66b8"/>
<circle cx="379.6" cy="43.4" r="0.42" fill="#3a66b8"/>
<circle cx="393.7" cy="62.8" r="0.42" fill="#3a66b8"/>
<circle cx="385.6" cy="50.3" r="0.42" fill="#3a66b8"/>
<circle cx="378.0" cy="45.9" r="0.42" fill="#3a66b8"/>
<circle cx="386.0" cy="40.7" r="0.42" fill="#3a66b8"/>
<circle cx="387.0" cy="50.9" r="0.42" fill="#3a66b8"/>
<circle cx="394.7" cy="49.4" r="0.42" fill="#3a66b8"/>
<circle cx="377.4" cy="43.7" r="0.42" fill="#3a66b8"/>
<circle cx="392.5" cy="43.1" r="0.42" fill="#3a66b8"/>
<circle cx="384.2" cy="51.9" r="0.42" fill="#3a66b8"/>
<circle cx="385.2" cy="49.9" r="0.42" fill="#3a66b8"/>
<circle cx="383.3" cy="49.6" r="0.42" fill="#3a66b8"/>
<circle cx="395.8" cy="56.7" r="0.42" fill="#3a66b8"/>
<circle cx="384.3" cy="49.5" r="0.42" fill="#3a66b8"/>
<circle cx="393.5" cy="61.1" r="0.42" fill="#3a66b8"/>
<circle cx="379.2" cy="44.2" r="0.42" fill="#3a66b8"/>
<circle cx="384.8" cy="40.9" r="0.42" fill="#3a66b8"/>
<circle cx="397.5" cy="46.4" r="0.42" fill="#3a66b8"/>
<circle cx="377.5" cy="42.9" r="0.42" fill="#3a66b8"/>
<circle cx="393.3" cy="58.3" r="0.42" fill="#3a66b8"/>
<g filter="url(#bl05)">
<path d="M368,73.4 L368,42 C368.5,40.5 371,39.8 374,39.8 C377,39.8 380,40.4 381.5,41.8 C382.5,42.8 383.5,43.5 383.6,44.2 C382,45.5 379.5,46.3 377.5,47.2 C376.5,48.8 376.6,51.5 377.5,53.6 C381,55.2 386,57 390,58.6 C394,60 397,61.6 398,63.8 C398,66.5 396.5,69.5 393.5,71.5 C389,73.2 382,73.8 376,73.8 C372,73.8 369.5,73.7 368,73.4 Z" fill="#1d3c8f"/>
</g>
<g filter="url(#bl1)">
<path d="M369,72.5 L369,56.5 C372,56 377,56.5 382,57.8 C388,59.5 393,61.5 395,64 C395.5,67 393.5,70 390,71.6 C385,73 376,73.2 369,72.5 Z" fill="#2452b0"/>
<ellipse cx="373.8" cy="42.8" rx="4.8" ry="1.8" fill="#3d8fd8"/>
<ellipse cx="373.3" cy="42.8" rx="2.8" ry="1.0" fill="#62b8f0"/>
<ellipse cx="379.5" cy="66.5" rx="11.8" ry="6.2" fill="#40c4d8"/>
<ellipse cx="378.8" cy="66.5" rx="10" ry="5.2" fill="#6cc24a"/>
<ellipse cx="377.8" cy="66.5" rx="7.4" ry="3.6" fill="#f2e23a"/>
<ellipse cx="377.2" cy="66.5" rx="5.4" ry="2.4" fill="#f29a2a"/>
<ellipse cx="376.6" cy="66.5" rx="3.8" ry="1.6" fill="#e0201c"/>
</g>
<rect x="366.4" y="26.6" width="52.10" height="51.70" fill="none" stroke="#333" stroke-width="0.85"/>
<line x1="365.40" y1="26.60" x2="366.40" y2="26.60" stroke="#222" stroke-width="0.45" />
<line x1="365.40" y1="28.67" x2="366.40" y2="28.67" stroke="#222" stroke-width="0.45" />
<line x1="365.40" y1="30.74" x2="366.40" y2="30.74" stroke="#222" stroke-width="0.45" />
<line x1="365.40" y1="32.80" x2="366.40" y2="32.80" stroke="#222" stroke-width="0.45" />
<line x1="365.40" y1="34.87" x2="366.40" y2="34.87" stroke="#222" stroke-width="0.45" />
<line x1="365.40" y1="36.94" x2="366.40" y2="36.94" stroke="#222" stroke-width="0.45" />
<line x1="365.40" y1="39.01" x2="366.40" y2="39.01" stroke="#222" stroke-width="0.45" />
<line x1="365.40" y1="41.08" x2="366.40" y2="41.08" stroke="#222" stroke-width="0.45" />
<line x1="365.40" y1="43.14" x2="366.40" y2="43.14" stroke="#222" stroke-width="0.45" />
<line x1="365.40" y1="45.21" x2="366.40" y2="45.21" stroke="#222" stroke-width="0.45" />
<line x1="365.40" y1="47.28" x2="366.40" y2="47.28" stroke="#222" stroke-width="0.45" />
<line x1="365.40" y1="49.35" x2="366.40" y2="49.35" stroke="#222" stroke-width="0.45" />
<line x1="365.40" y1="51.42" x2="366.40" y2="51.42" stroke="#222" stroke-width="0.45" />
<line x1="365.40" y1="53.48" x2="366.40" y2="53.48" stroke="#222" stroke-width="0.45" />
<line x1="365.40" y1="55.55" x2="366.40" y2="55.55" stroke="#222" stroke-width="0.45" />
<line x1="365.40" y1="57.62" x2="366.40" y2="57.62" stroke="#222" stroke-width="0.45" />
<line x1="365.40" y1="59.69" x2="366.40" y2="59.69" stroke="#222" stroke-width="0.45" />
<line x1="365.40" y1="61.76" x2="366.40" y2="61.76" stroke="#222" stroke-width="0.45" />
<line x1="365.40" y1="63.82" x2="366.40" y2="63.82" stroke="#222" stroke-width="0.45" />
<line x1="365.40" y1="65.89" x2="366.40" y2="65.89" stroke="#222" stroke-width="0.45" />
<line x1="365.40" y1="67.96" x2="366.40" y2="67.96" stroke="#222" stroke-width="0.45" />
<line x1="365.40" y1="70.03" x2="366.40" y2="70.03" stroke="#222" stroke-width="0.45" />
<line x1="365.40" y1="72.10" x2="366.40" y2="72.10" stroke="#222" stroke-width="0.45" />
<line x1="365.40" y1="74.16" x2="366.40" y2="74.16" stroke="#222" stroke-width="0.45" />
<line x1="365.40" y1="76.23" x2="366.40" y2="76.23" stroke="#222" stroke-width="0.45" />
<line x1="365.40" y1="78.30" x2="366.40" y2="78.30" stroke="#222" stroke-width="0.45" />
<line x1="366.40" y1="78.30" x2="366.40" y2="79.30" stroke="#222" stroke-width="0.45" />
<line x1="368.48" y1="78.30" x2="368.48" y2="79.30" stroke="#222" stroke-width="0.45" />
<line x1="370.57" y1="78.30" x2="370.57" y2="79.30" stroke="#222" stroke-width="0.45" />
<line x1="372.65" y1="78.30" x2="372.65" y2="79.30" stroke="#222" stroke-width="0.45" />
<line x1="374.74" y1="78.30" x2="374.74" y2="79.30" stroke="#222" stroke-width="0.45" />
<line x1="376.82" y1="78.30" x2="376.82" y2="79.30" stroke="#222" stroke-width="0.45" />
<line x1="378.90" y1="78.30" x2="378.90" y2="79.30" stroke="#222" stroke-width="0.45" />
<line x1="380.99" y1="78.30" x2="380.99" y2="79.30" stroke="#222" stroke-width="0.45" />
<line x1="383.07" y1="78.30" x2="383.07" y2="79.30" stroke="#222" stroke-width="0.45" />
<line x1="385.16" y1="78.30" x2="385.16" y2="79.30" stroke="#222" stroke-width="0.45" />
<line x1="387.24" y1="78.30" x2="387.24" y2="79.30" stroke="#222" stroke-width="0.45" />
<line x1="389.32" y1="78.30" x2="389.32" y2="79.30" stroke="#222" stroke-width="0.45" />
<line x1="391.41" y1="78.30" x2="391.41" y2="79.30" stroke="#222" stroke-width="0.45" />
<line x1="393.49" y1="78.30" x2="393.49" y2="79.30" stroke="#222" stroke-width="0.45" />
<line x1="395.58" y1="78.30" x2="395.58" y2="79.30" stroke="#222" stroke-width="0.45" />
<line x1="397.66" y1="78.30" x2="397.66" y2="79.30" stroke="#222" stroke-width="0.45" />
<line x1="399.74" y1="78.30" x2="399.74" y2="79.30" stroke="#222" stroke-width="0.45" />
<line x1="401.83" y1="78.30" x2="401.83" y2="79.30" stroke="#222" stroke-width="0.45" />
<line x1="403.91" y1="78.30" x2="403.91" y2="79.30" stroke="#222" stroke-width="0.45" />
<line x1="406.00" y1="78.30" x2="406.00" y2="79.30" stroke="#222" stroke-width="0.45" />
<line x1="408.08" y1="78.30" x2="408.08" y2="79.30" stroke="#222" stroke-width="0.45" />
<line x1="410.16" y1="78.30" x2="410.16" y2="79.30" stroke="#222" stroke-width="0.45" />
<line x1="412.25" y1="78.30" x2="412.25" y2="79.30" stroke="#222" stroke-width="0.45" />
<line x1="414.33" y1="78.30" x2="414.33" y2="79.30" stroke="#222" stroke-width="0.45" />
<line x1="416.42" y1="78.30" x2="416.42" y2="79.30" stroke="#222" stroke-width="0.45" />
<line x1="418.50" y1="78.30" x2="418.50" y2="79.30" stroke="#222" stroke-width="0.45" />
<line x1="366.40" y1="54.30" x2="418.50" y2="54.30" stroke="#444" stroke-width="0.6" />
<line x1="366.40" y1="75.30" x2="418.50" y2="75.30" stroke="#444" stroke-width="0.6" />
<text x="403.50" y="59.80" font-size="5.4" text-anchor="start" fill="#333" stroke="#333" stroke-width="0.1" textLength="12.2" lengthAdjust="spacingAndGlyphs" >Alive</text>
<text x="361.00" y="29.10" font-size="5.9" text-anchor="end" fill="#1a1a1a" stroke="#1a1a1a" stroke-width="0.12">10<tspan font-size="3.6" dy="-2.2">5</tspan></text>
<line x1="364.40" y1="27.10" x2="366.40" y2="27.10" stroke="#111" stroke-width="0.7" />
<text x="361.00" y="39.10" font-size="5.9" text-anchor="end" fill="#1a1a1a" stroke="#1a1a1a" stroke-width="0.12">10<tspan font-size="3.6" dy="-2.2">4</tspan></text>
<line x1="364.40" y1="37.10" x2="366.40" y2="37.10" stroke="#111" stroke-width="0.7" />
<text x="361.00" y="49.00" font-size="5.9" text-anchor="end" fill="#1a1a1a" stroke="#1a1a1a" stroke-width="0.12">10<tspan font-size="3.6" dy="-2.2">3</tspan></text>
<line x1="364.40" y1="47.00" x2="366.40" y2="47.00" stroke="#111" stroke-width="0.7" />
<text x="361.00" y="58.90" font-size="5.9" text-anchor="end" fill="#1a1a1a" stroke="#1a1a1a" stroke-width="0.12">10<tspan font-size="3.6" dy="-2.2">2</tspan></text>
<line x1="364.40" y1="56.90" x2="366.40" y2="56.90" stroke="#111" stroke-width="0.7" />
<text x="361.00" y="68.40" font-size="5.9" text-anchor="end" fill="#1a1a1a" stroke="#1a1a1a" stroke-width="0.12">0</text>
<line x1="364.40" y1="66.40" x2="366.40" y2="66.40" stroke="#111" stroke-width="0.7" />
<text x="370.00" y="86.80" font-size="5.9" text-anchor="end" fill="#1a1a1a" transform="rotate(-45 370.00 86.80)" stroke="#1a1a1a" stroke-width="0.18">0</text>
<text x="390.70" y="86.80" font-size="5.9" text-anchor="end" fill="#1a1a1a" transform="rotate(-45 390.70 86.80)" stroke="#1a1a1a" stroke-width="0.18">40K</text>
<text x="401.00" y="86.80" font-size="5.9" text-anchor="end" fill="#1a1a1a" transform="rotate(-45 401.00 86.80)" stroke="#1a1a1a" stroke-width="0.18">60K</text>
<text x="411.30" y="86.80" font-size="5.9" text-anchor="end" fill="#1a1a1a" transform="rotate(-45 411.30 86.80)" stroke="#1a1a1a" stroke-width="0.18">80K</text>
<text x="421.60" y="86.80" font-size="5.9" text-anchor="end" fill="#1a1a1a" transform="rotate(-45 421.60 86.80)" stroke="#1a1a1a" stroke-width="0.18">100K</text>
<text x="381.80" y="93.80" font-size="5.9" text-anchor="end" fill="#1a1a1a" transform="rotate(-45 381.80 93.80)" stroke="#1a1a1a" stroke-width="0.18">20K</text>
<text x="347.10" y="52.20" font-size="9" text-anchor="middle" fill="#222" stroke="#222" stroke-width="0.2" textLength="10.4" lengthAdjust="spacingAndGlyphs" transform="rotate(-90 347.10 52.20)" >Alive</text>
<text x="392.50" y="108.00" font-size="9" text-anchor="middle" fill="#222" stroke="#222" stroke-width="0.2" textLength="15.5" lengthAdjust="spacingAndGlyphs" >FSC-A</text>
<path d="M370.6,80.5 L370.6,112 L244.6,112 L244.6,125.2" fill="none" stroke="#444" stroke-width="0.6"/>
<g filter="url(#bl05)">
<path d="M202.6,169.8 L202.4,149 C202.6,145.5 205,143.5 209,143.2 C214,142.8 220,143 226,143.6 C229,144.5 230.6,147 230.6,151 C230.8,156 230.4,161 229.5,165 C228.5,168 226,169.8 222,170 C214,170.3 207,170.2 202.6,169.8 Z" fill="#1d3c8f"/>
</g>
<g filter="url(#bl1)">
<ellipse cx="221.5" cy="155" rx="9" ry="8" fill="#2a60bf"/>
<ellipse cx="209.8" cy="148.5" rx="7" ry="4.6" fill="#2a60bf"/>
<ellipse cx="209.8" cy="148.6" rx="6" ry="3.8" fill="#40c4d8"/>
<ellipse cx="209.8" cy="148.4" rx="5" ry="3.1" fill="#6cc24a"/>
<ellipse cx="210" cy="148" rx="3.6" ry="2.3" fill="#f2e23a"/>
<ellipse cx="210.2" cy="147.7" rx="2.5" ry="1.6" fill="#f29a2a"/>
<ellipse cx="210.2" cy="147.7" rx="1.6" ry="1.1" fill="#e0201c"/>
<ellipse cx="219.2" cy="154.5" rx="5.5" ry="7" fill="#40c4d8"/>
<ellipse cx="226" cy="155" rx="4.2" ry="6" fill="#40c4d8"/>
<ellipse cx="219" cy="154" rx="4" ry="5" fill="#6cc24a"/>
<ellipse cx="226" cy="154.5" rx="2.8" ry="4" fill="#6cc24a"/>
<ellipse cx="218.8" cy="153.5" rx="1.6" ry="1.8" fill="#c0e030"/>
<ellipse cx="226" cy="154" rx="1.2" ry="1.5" fill="#a8d838"/>
<rect x="202.6" y="159.5" width="3" height="6" fill="#40c4d8"/>
<rect x="202.5" y="163" width="2.8" height="6" fill="#f2e23a"/>
<rect x="202.7" y="164" width="2.2" height="4.4" fill="#f29a2a"/>
<rect x="202.9" y="164.6" width="1.6" height="3" fill="#e0201c"/>
</g>
<line x1="203.50" y1="166.50" x2="221.30" y2="143.50" stroke="#14285a" stroke-width="0.55" />
<circle cx="210.5" cy="170.9" r="0.42" fill="#3a66b8"/>
<circle cx="223.0" cy="172.6" r="0.42" fill="#3a66b8"/>
<circle cx="214.2" cy="167.8" r="0.42" fill="#3a66b8"/>
<circle cx="224.9" cy="170.6" r="0.42" fill="#3a66b8"/>
<circle cx="215.0" cy="170.8" r="0.42" fill="#3a66b8"/>
<circle cx="217.1" cy="171.4" r="0.42" fill="#3a66b8"/>
<circle cx="210.7" cy="167.6" r="0.42" fill="#3a66b8"/>
<circle cx="228.7" cy="168.5" r="0.42" fill="#3a66b8"/>
<circle cx="214.0" cy="171.6" r="0.42" fill="#3a66b8"/>
<circle cx="222.5" cy="167.0" r="0.42" fill="#3a66b8"/>
<circle cx="220.7" cy="170.6" r="0.42" fill="#3a66b8"/>
<circle cx="211.8" cy="170.6" r="0.42" fill="#3a66b8"/>
<circle cx="210.8" cy="168.4" r="0.42" fill="#3a66b8"/>
<circle cx="209.9" cy="167.4" r="0.42" fill="#3a66b8"/>
<circle cx="230.5" cy="168.8" r="0.42" fill="#3a66b8"/>
<circle cx="230.8" cy="169.1" r="0.42" fill="#3a66b8"/>
<circle cx="222.0" cy="172.1" r="0.42" fill="#3a66b8"/>
<circle cx="223.8" cy="166.8" r="0.42" fill="#3a66b8"/>
<circle cx="231.5" cy="159.6" r="0.42" fill="#3a66b8"/>
<circle cx="229.1" cy="147.2" r="0.42" fill="#3a66b8"/>
<circle cx="233.2" cy="156.8" r="0.42" fill="#3a66b8"/>
<circle cx="229.2" cy="155.4" r="0.42" fill="#3a66b8"/>
<circle cx="229.3" cy="163.4" r="0.42" fill="#3a66b8"/>
<circle cx="231.0" cy="147.4" r="0.42" fill="#3a66b8"/>
<circle cx="232.9" cy="147.1" r="0.42" fill="#3a66b8"/>
<circle cx="229.7" cy="145.6" r="0.42" fill="#3a66b8"/>
<circle cx="232.4" cy="147.6" r="0.42" fill="#3a66b8"/>
<circle cx="231.2" cy="147.1" r="0.42" fill="#3a66b8"/>
<circle cx="230.9" cy="160.8" r="0.42" fill="#3a66b8"/>
<circle cx="231.2" cy="155.5" r="0.42" fill="#3a66b8"/>
<circle cx="230.9" cy="155.1" r="0.42" fill="#3a66b8"/>
<circle cx="231.6" cy="147.2" r="0.42" fill="#3a66b8"/>
<ellipse cx="216.5" cy="168.0" rx="0.9" ry="0.6" fill="#fff" opacity="0.8"/>
<ellipse cx="224.3" cy="169.4" rx="0.9" ry="0.6" fill="#fff" opacity="0.8"/>
<ellipse cx="208.3" cy="167.8" rx="0.9" ry="0.6" fill="#fff" opacity="0.8"/>
<ellipse cx="221.1" cy="168.6" rx="0.9" ry="0.6" fill="#fff" opacity="0.8"/>
<ellipse cx="207.4" cy="168.9" rx="0.9" ry="0.6" fill="#fff" opacity="0.8"/>
<ellipse cx="225.9" cy="168.3" rx="0.9" ry="0.6" fill="#fff" opacity="0.8"/>
<ellipse cx="213.9" cy="168.6" rx="0.9" ry="0.6" fill="#fff" opacity="0.8"/>
<rect x="199.6" y="125.2" width="51.90" height="51.30" fill="none" stroke="#333" stroke-width="0.85"/>
<line x1="198.60" y1="125.20" x2="199.60" y2="125.20" stroke="#222" stroke-width="0.45" />
<line x1="198.60" y1="127.25" x2="199.60" y2="127.25" stroke="#222" stroke-width="0.45" />
<line x1="198.60" y1="129.30" x2="199.60" y2="129.30" stroke="#222" stroke-width="0.45" />
<line x1="198.60" y1="131.36" x2="199.60" y2="131.36" stroke="#222" stroke-width="0.45" />
<line x1="198.60" y1="133.41" x2="199.60" y2="133.41" stroke="#222" stroke-width="0.45" />
<line x1="198.60" y1="135.46" x2="199.60" y2="135.46" stroke="#222" stroke-width="0.45" />
<line x1="198.60" y1="137.51" x2="199.60" y2="137.51" stroke="#222" stroke-width="0.45" />
<line x1="198.60" y1="139.56" x2="199.60" y2="139.56" stroke="#222" stroke-width="0.45" />
<line x1="198.60" y1="141.62" x2="199.60" y2="141.62" stroke="#222" stroke-width="0.45" />
<line x1="198.60" y1="143.67" x2="199.60" y2="143.67" stroke="#222" stroke-width="0.45" />
<line x1="198.60" y1="145.72" x2="199.60" y2="145.72" stroke="#222" stroke-width="0.45" />
<line x1="198.60" y1="147.77" x2="199.60" y2="147.77" stroke="#222" stroke-width="0.45" />
<line x1="198.60" y1="149.82" x2="199.60" y2="149.82" stroke="#222" stroke-width="0.45" />
<line x1="198.60" y1="151.88" x2="199.60" y2="151.88" stroke="#222" stroke-width="0.45" />
<line x1="198.60" y1="153.93" x2="199.60" y2="153.93" stroke="#222" stroke-width="0.45" />
<line x1="198.60" y1="155.98" x2="199.60" y2="155.98" stroke="#222" stroke-width="0.45" />
<line x1="198.60" y1="158.03" x2="199.60" y2="158.03" stroke="#222" stroke-width="0.45" />
<line x1="198.60" y1="160.08" x2="199.60" y2="160.08" stroke="#222" stroke-width="0.45" />
<line x1="198.60" y1="162.14" x2="199.60" y2="162.14" stroke="#222" stroke-width="0.45" />
<line x1="198.60" y1="164.19" x2="199.60" y2="164.19" stroke="#222" stroke-width="0.45" />
<line x1="198.60" y1="166.24" x2="199.60" y2="166.24" stroke="#222" stroke-width="0.45" />
<line x1="198.60" y1="168.29" x2="199.60" y2="168.29" stroke="#222" stroke-width="0.45" />
<line x1="198.60" y1="170.34" x2="199.60" y2="170.34" stroke="#222" stroke-width="0.45" />
<line x1="198.60" y1="172.40" x2="199.60" y2="172.40" stroke="#222" stroke-width="0.45" />
<line x1="198.60" y1="174.45" x2="199.60" y2="174.45" stroke="#222" stroke-width="0.45" />
<line x1="198.60" y1="176.50" x2="199.60" y2="176.50" stroke="#222" stroke-width="0.45" />
<line x1="199.60" y1="176.50" x2="199.60" y2="177.50" stroke="#222" stroke-width="0.45" />
<line x1="201.68" y1="176.50" x2="201.68" y2="177.50" stroke="#222" stroke-width="0.45" />
<line x1="203.75" y1="176.50" x2="203.75" y2="177.50" stroke="#222" stroke-width="0.45" />
<line x1="205.83" y1="176.50" x2="205.83" y2="177.50" stroke="#222" stroke-width="0.45" />
<line x1="207.90" y1="176.50" x2="207.90" y2="177.50" stroke="#222" stroke-width="0.45" />
<line x1="209.98" y1="176.50" x2="209.98" y2="177.50" stroke="#222" stroke-width="0.45" />
<line x1="212.06" y1="176.50" x2="212.06" y2="177.50" stroke="#222" stroke-width="0.45" />
<line x1="214.13" y1="176.50" x2="214.13" y2="177.50" stroke="#222" stroke-width="0.45" />
<line x1="216.21" y1="176.50" x2="216.21" y2="177.50" stroke="#222" stroke-width="0.45" />
<line x1="218.28" y1="176.50" x2="218.28" y2="177.50" stroke="#222" stroke-width="0.45" />
<line x1="220.36" y1="176.50" x2="220.36" y2="177.50" stroke="#222" stroke-width="0.45" />
<line x1="222.44" y1="176.50" x2="222.44" y2="177.50" stroke="#222" stroke-width="0.45" />
<line x1="224.51" y1="176.50" x2="224.51" y2="177.50" stroke="#222" stroke-width="0.45" />
<line x1="226.59" y1="176.50" x2="226.59" y2="177.50" stroke="#222" stroke-width="0.45" />
<line x1="228.66" y1="176.50" x2="228.66" y2="177.50" stroke="#222" stroke-width="0.45" />
<line x1="230.74" y1="176.50" x2="230.74" y2="177.50" stroke="#222" stroke-width="0.45" />
<line x1="232.82" y1="176.50" x2="232.82" y2="177.50" stroke="#222" stroke-width="0.45" />
<line x1="234.89" y1="176.50" x2="234.89" y2="177.50" stroke="#222" stroke-width="0.45" />
<line x1="236.97" y1="176.50" x2="236.97" y2="177.50" stroke="#222" stroke-width="0.45" />
<line x1="239.04" y1="176.50" x2="239.04" y2="177.50" stroke="#222" stroke-width="0.45" />
<line x1="241.12" y1="176.50" x2="241.12" y2="177.50" stroke="#222" stroke-width="0.45" />
<line x1="243.20" y1="176.50" x2="243.20" y2="177.50" stroke="#222" stroke-width="0.45" />
<line x1="245.27" y1="176.50" x2="245.27" y2="177.50" stroke="#222" stroke-width="0.45" />
<line x1="247.35" y1="176.50" x2="247.35" y2="177.50" stroke="#222" stroke-width="0.45" />
<line x1="249.42" y1="176.50" x2="249.42" y2="177.50" stroke="#222" stroke-width="0.45" />
<line x1="251.50" y1="176.50" x2="251.50" y2="177.50" stroke="#222" stroke-width="0.45" />
<path d="M206.5,161.5 L221.5,143.6 L236.5,143.6 L236.5,169.4 L202,169.4 L202,161.5 Z" fill="none" stroke="#555" stroke-width="0.5"/>
<line x1="236.50" y1="143.30" x2="286.80" y2="143.30" stroke="#444" stroke-width="0.6" />
<text x="227.90" y="141.50" font-size="5.4" text-anchor="middle" fill="#333" stroke="#333" stroke-width="0.1" textLength="10" lengthAdjust="spacingAndGlyphs" >Lin−</text>
<text x="194.40" y="127.40" font-size="5.9" text-anchor="end" fill="#1a1a1a" stroke="#1a1a1a" stroke-width="0.12">10<tspan font-size="3.6" dy="-2.2">5</tspan></text>
<line x1="197.60" y1="125.40" x2="199.60" y2="125.40" stroke="#111" stroke-width="0.7" />
<text x="194.40" y="137.80" font-size="5.9" text-anchor="end" fill="#1a1a1a" stroke="#1a1a1a" stroke-width="0.12">10<tspan font-size="3.6" dy="-2.2">4</tspan></text>
<line x1="197.60" y1="135.80" x2="199.60" y2="135.80" stroke="#111" stroke-width="0.7" />
<text x="194.40" y="148.20" font-size="5.9" text-anchor="end" fill="#1a1a1a" stroke="#1a1a1a" stroke-width="0.12">10<tspan font-size="3.6" dy="-2.2">3</tspan></text>
<line x1="197.60" y1="146.20" x2="199.60" y2="146.20" stroke="#111" stroke-width="0.7" />
<text x="194.40" y="158.60" font-size="5.9" text-anchor="end" fill="#1a1a1a" stroke="#1a1a1a" stroke-width="0.12">10<tspan font-size="3.6" dy="-2.2">2</tspan></text>
<line x1="197.60" y1="156.60" x2="199.60" y2="156.60" stroke="#111" stroke-width="0.7" />
<text x="194.40" y="168.40" font-size="5.9" text-anchor="end" fill="#1a1a1a" stroke="#1a1a1a" stroke-width="0.12">0</text>
<line x1="197.60" y1="166.40" x2="199.60" y2="166.40" stroke="#111" stroke-width="0.7" />
<text x="194.40" y="177.60" font-size="5.9" text-anchor="end" fill="#1a1a1a" stroke="#1a1a1a" stroke-width="0.12">−10<tspan font-size="3.6" dy="-2.2">2</tspan></text>
<line x1="197.60" y1="175.60" x2="199.60" y2="175.60" stroke="#111" stroke-width="0.7" />
<text x="206.40" y="184.60" font-size="5.9" text-anchor="end" fill="#1a1a1a" transform="rotate(-45 206.40 184.60)" stroke="#1a1a1a" stroke-width="0.18">0</text>
<text x="225.90" y="184.60" font-size="5.9" text-anchor="end" fill="#1a1a1a" transform="rotate(-45 225.90 184.60)" stroke="#1a1a1a" stroke-width="0.18">10<tspan font-size="3.6" dy="-2.2">3</tspan></text>
<text x="239.20" y="184.60" font-size="5.9" text-anchor="end" fill="#1a1a1a" transform="rotate(-45 239.20 184.60)" stroke="#1a1a1a" stroke-width="0.18">10<tspan font-size="3.6" dy="-2.2">4</tspan></text>
<text x="252.40" y="184.60" font-size="5.9" text-anchor="end" fill="#1a1a1a" transform="rotate(-45 252.40 184.60)" stroke="#1a1a1a" stroke-width="0.18">10<tspan font-size="3.6" dy="-2.2">5</tspan></text>
<text x="175.70" y="150.90" font-size="9" text-anchor="middle" fill="#222" stroke="#222" stroke-width="0.2" textLength="19" lengthAdjust="spacingAndGlyphs" transform="rotate(-90 175.70 150.90)" >Lineage</text>
<text x="225.40" y="205.20" font-size="9" text-anchor="middle" fill="#222" stroke="#222" stroke-width="0.2" textLength="13.5" lengthAdjust="spacingAndGlyphs" >CD48</text>
<circle cx="309.7" cy="151.7" r="0.42" fill="#3a66b8"/>
<circle cx="316.7" cy="162.2" r="0.42" fill="#3a66b8"/>
<circle cx="299.0" cy="141.1" r="0.42" fill="#3a66b8"/>
<circle cx="306.1" cy="152.5" r="0.42" fill="#3a66b8"/>
<circle cx="313.8" cy="161.2" r="0.42" fill="#3a66b8"/>
<circle cx="314.1" cy="161.6" r="0.42" fill="#3a66b8"/>
<circle cx="321.8" cy="162.5" r="0.42" fill="#3a66b8"/>
<circle cx="316.9" cy="164.4" r="0.42" fill="#3a66b8"/>
<circle cx="322.0" cy="168.6" r="0.42" fill="#3a66b8"/>
<circle cx="298.9" cy="141.6" r="0.42" fill="#3a66b8"/>
<circle cx="322.5" cy="170.9" r="0.42" fill="#3a66b8"/>
<circle cx="318.7" cy="165.4" r="0.42" fill="#3a66b8"/>
<circle cx="315.8" cy="157.9" r="0.42" fill="#3a66b8"/>
<circle cx="315.3" cy="163.3" r="0.42" fill="#3a66b8"/>
<circle cx="323.3" cy="164.6" r="0.42" fill="#3a66b8"/>
<circle cx="320.1" cy="147.5" r="0.42" fill="#3a66b8"/>
<circle cx="315.7" cy="157.9" r="0.42" fill="#3a66b8"/>
<circle cx="305.6" cy="145.0" r="0.42" fill="#3a66b8"/>
<circle cx="323.0" cy="164.4" r="0.42" fill="#3a66b8"/>
<circle cx="318.5" cy="159.3" r="0.42" fill="#3a66b8"/>
<circle cx="311.3" cy="147.9" r="0.42" fill="#3a66b8"/>
<circle cx="314.6" cy="161.0" r="0.42" fill="#3a66b8"/>
<circle cx="301.9" cy="146.7" r="0.42" fill="#3a66b8"/>
<circle cx="309.3" cy="141.9" r="0.42" fill="#3a66b8"/>
<circle cx="324.6" cy="171.0" r="0.42" fill="#3a66b8"/>
<circle cx="311.1" cy="154.3" r="0.42" fill="#3a66b8"/>
<circle cx="312.8" cy="158.8" r="0.42" fill="#3a66b8"/>
<circle cx="325.5" cy="168.0" r="0.42" fill="#3a66b8"/>
<circle cx="318.6" cy="166.4" r="0.42" fill="#3a66b8"/>
<circle cx="302.3" cy="144.8" r="0.42" fill="#3a66b8"/>
<circle cx="322.9" cy="169.5" r="0.42" fill="#3a66b8"/>
<circle cx="299.0" cy="141.0" r="0.42" fill="#3a66b8"/>
<circle cx="324.9" cy="168.7" r="0.42" fill="#3a66b8"/>
<circle cx="312.7" cy="153.1" r="0.42" fill="#3a66b8"/>
<circle cx="315.3" cy="161.1" r="0.42" fill="#3a66b8"/>
<circle cx="297.8" cy="142.6" r="0.42" fill="#3a66b8"/>
<circle cx="321.4" cy="170.7" r="0.42" fill="#3a66b8"/>
<circle cx="312.2" cy="153.0" r="0.42" fill="#3a66b8"/>
<circle cx="310.8" cy="148.1" r="0.42" fill="#3a66b8"/>
<circle cx="308.3" cy="151.4" r="0.42" fill="#3a66b8"/>
<circle cx="302.0" cy="147.1" r="0.42" fill="#3a66b8"/>
<circle cx="300.2" cy="144.4" r="0.42" fill="#3a66b8"/>
<circle cx="322.3" cy="170.0" r="0.42" fill="#3a66b8"/>
<circle cx="304.0" cy="149.9" r="0.42" fill="#3a66b8"/>
<circle cx="300.7" cy="141.1" r="0.42" fill="#3a66b8"/>
<circle cx="306.7" cy="152.6" r="0.42" fill="#3a66b8"/>
<circle cx="321.6" cy="161.6" r="0.42" fill="#3a66b8"/>
<circle cx="297.0" cy="141.7" r="0.42" fill="#3a66b8"/>
<circle cx="303.8" cy="142.9" r="0.42" fill="#3a66b8"/>
<circle cx="298.9" cy="141.1" r="0.42" fill="#3a66b8"/>
<circle cx="311.1" cy="154.1" r="0.42" fill="#3a66b8"/>
<circle cx="305.8" cy="147.2" r="0.42" fill="#3a66b8"/>
<circle cx="315.4" cy="162.1" r="0.42" fill="#3a66b8"/>
<circle cx="306.4" cy="151.9" r="0.42" fill="#3a66b8"/>
<circle cx="323.2" cy="170.8" r="0.42" fill="#3a66b8"/>
<circle cx="301.9" cy="146.8" r="0.42" fill="#3a66b8"/>
<circle cx="318.1" cy="165.9" r="0.42" fill="#3a66b8"/>
<circle cx="316.9" cy="155.7" r="0.42" fill="#3a66b8"/>
<circle cx="316.6" cy="163.5" r="0.42" fill="#3a66b8"/>
<circle cx="312.7" cy="159.5" r="0.42" fill="#3a66b8"/>
<circle cx="298.1" cy="141.0" r="0.42" fill="#3a66b8"/>
<circle cx="320.9" cy="167.5" r="0.42" fill="#3a66b8"/>
<circle cx="317.4" cy="151.9" r="0.42" fill="#3a66b8"/>
<circle cx="314.7" cy="160.2" r="0.42" fill="#3a66b8"/>
<circle cx="310.4" cy="141.7" r="0.42" fill="#3a66b8"/>
<circle cx="311.3" cy="155.9" r="0.42" fill="#3a66b8"/>
<circle cx="301.8" cy="137.6" r="0.42" fill="#3a66b8"/>
<circle cx="307.3" cy="142.5" r="0.42" fill="#3a66b8"/>
<circle cx="320.4" cy="160.1" r="0.42" fill="#3a66b8"/>
<circle cx="317.5" cy="161.2" r="0.42" fill="#3a66b8"/>
<circle cx="309.3" cy="152.2" r="0.42" fill="#3a66b8"/>
<circle cx="315.0" cy="156.0" r="0.42" fill="#3a66b8"/>
<circle cx="323.8" cy="165.6" r="0.42" fill="#3a66b8"/>
<circle cx="301.6" cy="145.2" r="0.42" fill="#3a66b8"/>
<circle cx="305.6" cy="151.3" r="0.42" fill="#3a66b8"/>
<circle cx="303.1" cy="143.3" r="0.42" fill="#3a66b8"/>
<circle cx="319.0" cy="160.9" r="0.42" fill="#3a66b8"/>
<circle cx="308.8" cy="144.7" r="0.42" fill="#3a66b8"/>
<circle cx="307.8" cy="143.1" r="0.42" fill="#3a66b8"/>
<circle cx="297.1" cy="138.6" r="0.42" fill="#3a66b8"/>
<circle cx="313.7" cy="158.4" r="0.42" fill="#3a66b8"/>
<circle cx="308.9" cy="155.0" r="0.42" fill="#3a66b8"/>
<circle cx="302.0" cy="143.9" r="0.42" fill="#3a66b8"/>
<circle cx="300.1" cy="143.4" r="0.42" fill="#3a66b8"/>
<circle cx="322.6" cy="164.7" r="0.42" fill="#3a66b8"/>
<circle cx="304.8" cy="151.1" r="0.42" fill="#3a66b8"/>
<circle cx="300.8" cy="144.0" r="0.42" fill="#3a66b8"/>
<circle cx="305.0" cy="140.0" r="0.42" fill="#3a66b8"/>
<circle cx="305.5" cy="151.5" r="0.42" fill="#3a66b8"/>
<circle cx="307.8" cy="152.9" r="0.42" fill="#3a66b8"/>
<circle cx="305.5" cy="149.7" r="0.42" fill="#3a66b8"/>
<circle cx="311.1" cy="158.1" r="0.42" fill="#3a66b8"/>
<circle cx="297.8" cy="139.5" r="0.42" fill="#3a66b8"/>
<circle cx="303.8" cy="149.7" r="0.42" fill="#3a66b8"/>
<circle cx="317.2" cy="165.3" r="0.42" fill="#3a66b8"/>
<circle cx="314.1" cy="161.3" r="0.42" fill="#3a66b8"/>
<circle cx="309.6" cy="153.2" r="0.42" fill="#3a66b8"/>
<circle cx="299.8" cy="139.6" r="0.42" fill="#3a66b8"/>
<circle cx="311.8" cy="151.2" r="0.42" fill="#3a66b8"/>
<circle cx="312.1" cy="155.2" r="0.42" fill="#3a66b8"/>
<circle cx="308.3" cy="145.0" r="0.42" fill="#3a66b8"/>
<circle cx="322.2" cy="164.3" r="0.42" fill="#3a66b8"/>
<circle cx="321.2" cy="165.9" r="0.42" fill="#3a66b8"/>
<circle cx="302.2" cy="146.9" r="0.42" fill="#3a66b8"/>
<circle cx="311.1" cy="157.6" r="0.42" fill="#3a66b8"/>
<circle cx="320.2" cy="164.5" r="0.42" fill="#3a66b8"/>
<circle cx="308.6" cy="148.2" r="0.42" fill="#3a66b8"/>
<circle cx="322.8" cy="171.3" r="0.42" fill="#3a66b8"/>
<circle cx="312.2" cy="158.5" r="0.42" fill="#3a66b8"/>
<circle cx="322.5" cy="166.7" r="0.42" fill="#3a66b8"/>
<circle cx="318.7" cy="165.6" r="0.42" fill="#3a66b8"/>
<circle cx="307.0" cy="145.0" r="0.42" fill="#3a66b8"/>
<circle cx="322.7" cy="169.9" r="0.42" fill="#3a66b8"/>
<circle cx="302.3" cy="146.9" r="0.42" fill="#3a66b8"/>
<circle cx="318.7" cy="152.3" r="0.42" fill="#3a66b8"/>
<circle cx="309.6" cy="150.5" r="0.42" fill="#3a66b8"/>
<circle cx="307.2" cy="148.5" r="0.42" fill="#3a66b8"/>
<circle cx="308.4" cy="146.9" r="0.42" fill="#3a66b8"/>
<circle cx="314.2" cy="150.8" r="0.42" fill="#3a66b8"/>
<circle cx="323.8" cy="155.3" r="0.42" fill="#3a66b8"/>
<circle cx="302.7" cy="142.5" r="0.42" fill="#3a66b8"/>
<circle cx="304.3" cy="149.8" r="0.42" fill="#3a66b8"/>
<circle cx="320.8" cy="167.6" r="0.42" fill="#3a66b8"/>
<circle cx="297.6" cy="138.4" r="0.42" fill="#3a66b8"/>
<circle cx="305.0" cy="151.4" r="0.42" fill="#3a66b8"/>
<circle cx="315.8" cy="157.6" r="0.42" fill="#3a66b8"/>
<circle cx="302.4" cy="144.9" r="0.42" fill="#3a66b8"/>
<circle cx="316.0" cy="159.9" r="0.42" fill="#3a66b8"/>
<circle cx="319.1" cy="148.8" r="0.42" fill="#3a66b8"/>
<circle cx="298.7" cy="140.9" r="0.42" fill="#3a66b8"/>
<circle cx="312.3" cy="155.3" r="0.42" fill="#3a66b8"/>
<circle cx="316.2" cy="161.3" r="0.42" fill="#3a66b8"/>
<circle cx="315.3" cy="161.0" r="0.42" fill="#3a66b8"/>
<circle cx="321.3" cy="170.6" r="0.42" fill="#3a66b8"/>
<circle cx="308.9" cy="155.6" r="0.42" fill="#3a66b8"/>
<circle cx="300.5" cy="144.7" r="0.42" fill="#3a66b8"/>
<circle cx="317.0" cy="165.5" r="0.42" fill="#3a66b8"/>
<circle cx="306.4" cy="152.5" r="0.42" fill="#3a66b8"/>
<circle cx="298.9" cy="140.5" r="0.42" fill="#3a66b8"/>
<circle cx="306.1" cy="149.5" r="0.42" fill="#3a66b8"/>
<circle cx="303.7" cy="144.4" r="0.42" fill="#3a66b8"/>
<circle cx="308.1" cy="151.4" r="0.42" fill="#3a66b8"/>
<circle cx="314.0" cy="158.5" r="0.42" fill="#3a66b8"/>
<circle cx="325.6" cy="170.3" r="0.42" fill="#3a66b8"/>
<circle cx="317.1" cy="161.9" r="0.42" fill="#3a66b8"/>
<circle cx="312.8" cy="160.3" r="0.42" fill="#3a66b8"/>
<circle cx="325.3" cy="165.9" r="0.42" fill="#3a66b8"/>
<circle cx="313.8" cy="158.2" r="0.42" fill="#3a66b8"/>
<circle cx="313.6" cy="157.1" r="0.42" fill="#3a66b8"/>
<circle cx="311.7" cy="157.5" r="0.42" fill="#3a66b8"/>
<g filter="url(#bl05)">
<path d="M290.8,172 L290.8,143.5 C291.2,141.3 293.5,140.6 295.5,141 C297,142.5 298.5,147 300.5,151.5 C302.5,155.5 305.5,158.8 309.5,161.5 C313,163.8 316.5,165.5 318.6,167.2 C319.6,168.6 319.4,171 318,172 Z" fill="#1d3c8f"/>
</g>
<g filter="url(#bl1)">
<path d="M291.6,171.5 L291.8,147 C292.3,145 295,145 295.6,147.5 C296.3,152 297.5,158 300.5,162 C304,165.5 309,167.5 313.5,169 C314.5,170.3 313.5,171.5 311,171.6 Z" fill="#2a60bf"/>
<path d="M292,171 L292.3,150 C292.8,148.5 294.6,148.5 295,150.5 C295.4,156 296,163 298,167 C302,168.8 307,169.6 311,170.3 C310.5,171.2 306,171.4 300,171.4 Z" fill="#40c4d8"/>
<ellipse cx="293.6" cy="158" rx="1.5" ry="7.5" fill="#6cc24a"/>
<ellipse cx="292.5" cy="169.6" rx="2.4" ry="2.3" fill="#f2e23a"/>
<ellipse cx="292.3" cy="169.9" rx="1.8" ry="1.6" fill="#f29a2a"/>
<ellipse cx="292.2" cy="170.1" rx="1.1" ry="1.0" fill="#e0201c"/>
</g>
<rect x="286.8" y="125.2" width="51.70" height="51.30" fill="none" stroke="#333" stroke-width="0.85"/>
<line x1="285.80" y1="125.20" x2="286.80" y2="125.20" stroke="#222" stroke-width="0.45" />
<line x1="285.80" y1="127.25" x2="286.80" y2="127.25" stroke="#222" stroke-width="0.45" />
<line x1="285.80" y1="129.30" x2="286.80" y2="129.30" stroke="#222" stroke-width="0.45" />
<line x1="285.80" y1="131.36" x2="286.80" y2="131.36" stroke="#222" stroke-width="0.45" />
<line x1="285.80" y1="133.41" x2="286.80" y2="133.41" stroke="#222" stroke-width="0.45" />
<line x1="285.80" y1="135.46" x2="286.80" y2="135.46" stroke="#222" stroke-width="0.45" />
<line x1="285.80" y1="137.51" x2="286.80" y2="137.51" stroke="#222" stroke-width="0.45" />
<line x1="285.80" y1="139.56" x2="286.80" y2="139.56" stroke="#222" stroke-width="0.45" />
<line x1="285.80" y1="141.62" x2="286.80" y2="141.62" stroke="#222" stroke-width="0.45" />
<line x1="285.80" y1="143.67" x2="286.80" y2="143.67" stroke="#222" stroke-width="0.45" />
<line x1="285.80" y1="145.72" x2="286.80" y2="145.72" stroke="#222" stroke-width="0.45" />
<line x1="285.80" y1="147.77" x2="286.80" y2="147.77" stroke="#222" stroke-width="0.45" />
<line x1="285.80" y1="149.82" x2="286.80" y2="149.82" stroke="#222" stroke-width="0.45" />
<line x1="285.80" y1="151.88" x2="286.80" y2="151.88" stroke="#222" stroke-width="0.45" />
<line x1="285.80" y1="153.93" x2="286.80" y2="153.93" stroke="#222" stroke-width="0.45" />
<line x1="285.80" y1="155.98" x2="286.80" y2="155.98" stroke="#222" stroke-width="0.45" />
<line x1="285.80" y1="158.03" x2="286.80" y2="158.03" stroke="#222" stroke-width="0.45" />
<line x1="285.80" y1="160.08" x2="286.80" y2="160.08" stroke="#222" stroke-width="0.45" />
<line x1="285.80" y1="162.14" x2="286.80" y2="162.14" stroke="#222" stroke-width="0.45" />
<line x1="285.80" y1="164.19" x2="286.80" y2="164.19" stroke="#222" stroke-width="0.45" />
<line x1="285.80" y1="166.24" x2="286.80" y2="166.24" stroke="#222" stroke-width="0.45" />
<line x1="285.80" y1="168.29" x2="286.80" y2="168.29" stroke="#222" stroke-width="0.45" />
<line x1="285.80" y1="170.34" x2="286.80" y2="170.34" stroke="#222" stroke-width="0.45" />
<line x1="285.80" y1="172.40" x2="286.80" y2="172.40" stroke="#222" stroke-width="0.45" />
<line x1="285.80" y1="174.45" x2="286.80" y2="174.45" stroke="#222" stroke-width="0.45" />
<line x1="285.80" y1="176.50" x2="286.80" y2="176.50" stroke="#222" stroke-width="0.45" />
<line x1="286.80" y1="176.50" x2="286.80" y2="177.50" stroke="#222" stroke-width="0.45" />
<line x1="288.87" y1="176.50" x2="288.87" y2="177.50" stroke="#222" stroke-width="0.45" />
<line x1="290.94" y1="176.50" x2="290.94" y2="177.50" stroke="#222" stroke-width="0.45" />
<line x1="293.00" y1="176.50" x2="293.00" y2="177.50" stroke="#222" stroke-width="0.45" />
<line x1="295.07" y1="176.50" x2="295.07" y2="177.50" stroke="#222" stroke-width="0.45" />
<line x1="297.14" y1="176.50" x2="297.14" y2="177.50" stroke="#222" stroke-width="0.45" />
<line x1="299.21" y1="176.50" x2="299.21" y2="177.50" stroke="#222" stroke-width="0.45" />
<line x1="301.28" y1="176.50" x2="301.28" y2="177.50" stroke="#222" stroke-width="0.45" />
<line x1="303.34" y1="176.50" x2="303.34" y2="177.50" stroke="#222" stroke-width="0.45" />
<line x1="305.41" y1="176.50" x2="305.41" y2="177.50" stroke="#222" stroke-width="0.45" />
<line x1="307.48" y1="176.50" x2="307.48" y2="177.50" stroke="#222" stroke-width="0.45" />
<line x1="309.55" y1="176.50" x2="309.55" y2="177.50" stroke="#222" stroke-width="0.45" />
<line x1="311.62" y1="176.50" x2="311.62" y2="177.50" stroke="#222" stroke-width="0.45" />
<line x1="313.68" y1="176.50" x2="313.68" y2="177.50" stroke="#222" stroke-width="0.45" />
<line x1="315.75" y1="176.50" x2="315.75" y2="177.50" stroke="#222" stroke-width="0.45" />
<line x1="317.82" y1="176.50" x2="317.82" y2="177.50" stroke="#222" stroke-width="0.45" />
<line x1="319.89" y1="176.50" x2="319.89" y2="177.50" stroke="#222" stroke-width="0.45" />
<line x1="321.96" y1="176.50" x2="321.96" y2="177.50" stroke="#222" stroke-width="0.45" />
<line x1="324.02" y1="176.50" x2="324.02" y2="177.50" stroke="#222" stroke-width="0.45" />
<line x1="326.09" y1="176.50" x2="326.09" y2="177.50" stroke="#222" stroke-width="0.45" />
<line x1="328.16" y1="176.50" x2="328.16" y2="177.50" stroke="#222" stroke-width="0.45" />
<line x1="330.23" y1="176.50" x2="330.23" y2="177.50" stroke="#222" stroke-width="0.45" />
<line x1="332.30" y1="176.50" x2="332.30" y2="177.50" stroke="#222" stroke-width="0.45" />
<line x1="334.36" y1="176.50" x2="334.36" y2="177.50" stroke="#222" stroke-width="0.45" />
<line x1="336.43" y1="176.50" x2="336.43" y2="177.50" stroke="#222" stroke-width="0.45" />
<line x1="338.50" y1="176.50" x2="338.50" y2="177.50" stroke="#222" stroke-width="0.45" />
<rect x="309.7" y="138.2" width="15.2" height="10.9" fill="none" stroke="#555" stroke-width="0.6"/>
<line x1="324.90" y1="143.10" x2="366.60" y2="143.10" stroke="#444" stroke-width="0.6" />
<text x="311.10" y="136.20" font-size="6" text-anchor="middle" fill="#222" stroke="#222" stroke-width="0.1" textLength="11" lengthAdjust="spacingAndGlyphs" >LSK</text>
<text x="281.50" y="127.50" font-size="5.9" text-anchor="end" fill="#1a1a1a" stroke="#1a1a1a" stroke-width="0.12">10<tspan font-size="3.6" dy="-2.2">5</tspan></text>
<line x1="284.80" y1="125.50" x2="286.80" y2="125.50" stroke="#111" stroke-width="0.7" />
<text x="281.50" y="139.00" font-size="5.9" text-anchor="end" fill="#1a1a1a" stroke="#1a1a1a" stroke-width="0.12">10<tspan font-size="3.6" dy="-2.2">4</tspan></text>
<line x1="284.80" y1="137.00" x2="286.80" y2="137.00" stroke="#111" stroke-width="0.7" />
<text x="281.50" y="149.60" font-size="5.9" text-anchor="end" fill="#1a1a1a" stroke="#1a1a1a" stroke-width="0.12">10<tspan font-size="3.6" dy="-2.2">3</tspan></text>
<line x1="284.80" y1="147.60" x2="286.80" y2="147.60" stroke="#111" stroke-width="0.7" />
<text x="281.50" y="162.00" font-size="5.9" text-anchor="end" fill="#1a1a1a" stroke="#1a1a1a" stroke-width="0.12">10<tspan font-size="3.6" dy="-2.2">2</tspan></text>
<line x1="284.80" y1="160.00" x2="286.80" y2="160.00" stroke="#111" stroke-width="0.7" />
<text x="281.50" y="173.30" font-size="5.9" text-anchor="end" fill="#1a1a1a" stroke="#1a1a1a" stroke-width="0.12">0</text>
<line x1="284.80" y1="171.30" x2="286.80" y2="171.30" stroke="#111" stroke-width="0.7" />
<text x="293.50" y="184.60" font-size="5.9" text-anchor="end" fill="#1a1a1a" transform="rotate(-45 293.50 184.60)" stroke="#1a1a1a" stroke-width="0.18">0</text>
<text x="304.60" y="184.60" font-size="5.9" text-anchor="end" fill="#1a1a1a" transform="rotate(-45 304.60 184.60)" stroke="#1a1a1a" stroke-width="0.18">10<tspan font-size="3.6" dy="-2.2">2</tspan></text>
<text x="315.90" y="184.60" font-size="5.9" text-anchor="end" fill="#1a1a1a" transform="rotate(-45 315.90 184.60)" stroke="#1a1a1a" stroke-width="0.18">10<tspan font-size="3.6" dy="-2.2">3</tspan></text>
<text x="327.10" y="184.60" font-size="5.9" text-anchor="end" fill="#1a1a1a" transform="rotate(-45 327.10 184.60)" stroke="#1a1a1a" stroke-width="0.18">10<tspan font-size="3.6" dy="-2.2">4</tspan></text>
<text x="338.40" y="184.60" font-size="5.9" text-anchor="end" fill="#1a1a1a" transform="rotate(-45 338.40 184.60)" stroke="#1a1a1a" stroke-width="0.18">10<tspan font-size="3.6" dy="-2.2">5</tspan></text>
<text x="268.70" y="151.30" font-size="9" text-anchor="middle" fill="#222" stroke="#222" stroke-width="0.2" textLength="11.2" lengthAdjust="spacingAndGlyphs" transform="rotate(-90 268.70 151.30)" >c-Kit</text>
<text x="312.40" y="205.20" font-size="9" text-anchor="middle" fill="#222" stroke="#222" stroke-width="0.2" textLength="13.5" lengthAdjust="spacingAndGlyphs" >Sca-1</text>
<g filter="url(#bl05)">
<path d="M372.5,172.5 C371.5,169 372,165 373,161 C373,157 373.5,153 375,151 C376.5,150 378,151 379.5,150.5 C380.5,148 381.5,146 383,145.5 C384,146.5 385,145 386.5,144.6 C388,145.5 389.5,144.4 391,144.8 C392.5,146 394,145 395.5,146 C397,148 397.5,152 399,156 C401,159 402.8,162 403,166 C403.2,169.5 402.5,172.5 401,174.2 C393,174.8 380,174.3 372.5,172.5 Z" fill="#1d3c8f"/>
</g>
<g filter="url(#bl1)">
<path d="M374.5,171.5 C373.8,166 374.5,160 376,155 C377,153 379,153.5 380.5,154 C382,150 384,148 387,147.5 C390,147.2 393,148 394.5,150 C396,154 398,158 400,162 C401.5,166 401.5,170 400,173 C392,173.6 381,173.2 374.5,171.5 Z" fill="#2a60bf"/>
<ellipse cx="389.5" cy="153.5" rx="5.5" ry="6.5" fill="#3d8fd8"/>
<ellipse cx="389.5" cy="152" rx="3.5" ry="4.5" fill="#5cc4ec"/>
<ellipse cx="395" cy="167.5" rx="8.5" ry="6.2" fill="#40c4d8"/>
<ellipse cx="387.5" cy="168.5" rx="3.8" ry="4" fill="#6cc24a"/>
<ellipse cx="396.6" cy="168.3" rx="5.4" ry="5" fill="#6cc24a"/>
<ellipse cx="396.8" cy="169.3" rx="3.9" ry="3.4" fill="#f2e23a"/>
<ellipse cx="396.9" cy="169.8" rx="2.8" ry="2.4" fill="#f29a2a"/>
<ellipse cx="396.9" cy="170" rx="1.8" ry="1.5" fill="#e0201c"/>
</g>
<rect x="366.6" y="125.2" width="51.90" height="50.80" fill="none" stroke="#333" stroke-width="0.85"/>
<line x1="365.60" y1="125.20" x2="366.60" y2="125.20" stroke="#222" stroke-width="0.45" />
<line x1="365.60" y1="127.23" x2="366.60" y2="127.23" stroke="#222" stroke-width="0.45" />
<line x1="365.60" y1="129.26" x2="366.60" y2="129.26" stroke="#222" stroke-width="0.45" />
<line x1="365.60" y1="131.30" x2="366.60" y2="131.30" stroke="#222" stroke-width="0.45" />
<line x1="365.60" y1="133.33" x2="366.60" y2="133.33" stroke="#222" stroke-width="0.45" />
<line x1="365.60" y1="135.36" x2="366.60" y2="135.36" stroke="#222" stroke-width="0.45" />
<line x1="365.60" y1="137.39" x2="366.60" y2="137.39" stroke="#222" stroke-width="0.45" />
<line x1="365.60" y1="139.42" x2="366.60" y2="139.42" stroke="#222" stroke-width="0.45" />
<line x1="365.60" y1="141.46" x2="366.60" y2="141.46" stroke="#222" stroke-width="0.45" />
<line x1="365.60" y1="143.49" x2="366.60" y2="143.49" stroke="#222" stroke-width="0.45" />
<line x1="365.60" y1="145.52" x2="366.60" y2="145.52" stroke="#222" stroke-width="0.45" />
<line x1="365.60" y1="147.55" x2="366.60" y2="147.55" stroke="#222" stroke-width="0.45" />
<line x1="365.60" y1="149.58" x2="366.60" y2="149.58" stroke="#222" stroke-width="0.45" />
<line x1="365.60" y1="151.62" x2="366.60" y2="151.62" stroke="#222" stroke-width="0.45" />
<line x1="365.60" y1="153.65" x2="366.60" y2="153.65" stroke="#222" stroke-width="0.45" />
<line x1="365.60" y1="155.68" x2="366.60" y2="155.68" stroke="#222" stroke-width="0.45" />
<line x1="365.60" y1="157.71" x2="366.60" y2="157.71" stroke="#222" stroke-width="0.45" />
<line x1="365.60" y1="159.74" x2="366.60" y2="159.74" stroke="#222" stroke-width="0.45" />
<line x1="365.60" y1="161.78" x2="366.60" y2="161.78" stroke="#222" stroke-width="0.45" />
<line x1="365.60" y1="163.81" x2="366.60" y2="163.81" stroke="#222" stroke-width="0.45" />
<line x1="365.60" y1="165.84" x2="366.60" y2="165.84" stroke="#222" stroke-width="0.45" />
<line x1="365.60" y1="167.87" x2="366.60" y2="167.87" stroke="#222" stroke-width="0.45" />
<line x1="365.60" y1="169.90" x2="366.60" y2="169.90" stroke="#222" stroke-width="0.45" />
<line x1="365.60" y1="171.94" x2="366.60" y2="171.94" stroke="#222" stroke-width="0.45" />
<line x1="365.60" y1="173.97" x2="366.60" y2="173.97" stroke="#222" stroke-width="0.45" />
<line x1="365.60" y1="176.00" x2="366.60" y2="176.00" stroke="#222" stroke-width="0.45" />
<line x1="366.60" y1="176.00" x2="366.60" y2="177.00" stroke="#222" stroke-width="0.45" />
<line x1="368.68" y1="176.00" x2="368.68" y2="177.00" stroke="#222" stroke-width="0.45" />
<line x1="370.75" y1="176.00" x2="370.75" y2="177.00" stroke="#222" stroke-width="0.45" />
<line x1="372.83" y1="176.00" x2="372.83" y2="177.00" stroke="#222" stroke-width="0.45" />
<line x1="374.90" y1="176.00" x2="374.90" y2="177.00" stroke="#222" stroke-width="0.45" />
<line x1="376.98" y1="176.00" x2="376.98" y2="177.00" stroke="#222" stroke-width="0.45" />
<line x1="379.06" y1="176.00" x2="379.06" y2="177.00" stroke="#222" stroke-width="0.45" />
<line x1="381.13" y1="176.00" x2="381.13" y2="177.00" stroke="#222" stroke-width="0.45" />
<line x1="383.21" y1="176.00" x2="383.21" y2="177.00" stroke="#222" stroke-width="0.45" />
<line x1="385.28" y1="176.00" x2="385.28" y2="177.00" stroke="#222" stroke-width="0.45" />
<line x1="387.36" y1="176.00" x2="387.36" y2="177.00" stroke="#222" stroke-width="0.45" />
<line x1="389.44" y1="176.00" x2="389.44" y2="177.00" stroke="#222" stroke-width="0.45" />
<line x1="391.51" y1="176.00" x2="391.51" y2="177.00" stroke="#222" stroke-width="0.45" />
<line x1="393.59" y1="176.00" x2="393.59" y2="177.00" stroke="#222" stroke-width="0.45" />
<line x1="395.66" y1="176.00" x2="395.66" y2="177.00" stroke="#222" stroke-width="0.45" />
<line x1="397.74" y1="176.00" x2="397.74" y2="177.00" stroke="#222" stroke-width="0.45" />
<line x1="399.82" y1="176.00" x2="399.82" y2="177.00" stroke="#222" stroke-width="0.45" />
<line x1="401.89" y1="176.00" x2="401.89" y2="177.00" stroke="#222" stroke-width="0.45" />
<line x1="403.97" y1="176.00" x2="403.97" y2="177.00" stroke="#222" stroke-width="0.45" />
<line x1="406.04" y1="176.00" x2="406.04" y2="177.00" stroke="#222" stroke-width="0.45" />
<line x1="408.12" y1="176.00" x2="408.12" y2="177.00" stroke="#222" stroke-width="0.45" />
<line x1="410.20" y1="176.00" x2="410.20" y2="177.00" stroke="#222" stroke-width="0.45" />
<line x1="412.27" y1="176.00" x2="412.27" y2="177.00" stroke="#222" stroke-width="0.45" />
<line x1="414.35" y1="176.00" x2="414.35" y2="177.00" stroke="#222" stroke-width="0.45" />
<line x1="416.42" y1="176.00" x2="416.42" y2="177.00" stroke="#222" stroke-width="0.45" />
<line x1="418.50" y1="176.00" x2="418.50" y2="177.00" stroke="#222" stroke-width="0.45" />
<rect x="391.4" y="157.5" width="11.9" height="16.7" fill="none" stroke="#444" stroke-width="0.6"/>
<line x1="403.30" y1="174.20" x2="450.00" y2="176.20" stroke="#555" stroke-width="0.5" />
<text x="400.00" y="156.00" font-size="5.4" text-anchor="start" fill="#333" stroke="#333" stroke-width="0.1" textLength="16.2" lengthAdjust="spacingAndGlyphs" >HSCs</text>
<text x="361.40" y="127.50" font-size="5.9" text-anchor="end" fill="#1a1a1a" stroke="#1a1a1a" stroke-width="0.12">10<tspan font-size="3.6" dy="-2.2">5</tspan></text>
<line x1="364.60" y1="125.50" x2="366.60" y2="125.50" stroke="#111" stroke-width="0.7" />
<text x="361.40" y="140.50" font-size="5.9" text-anchor="end" fill="#1a1a1a" stroke="#1a1a1a" stroke-width="0.12">10<tspan font-size="3.6" dy="-2.2">4</tspan></text>
<line x1="364.60" y1="138.50" x2="366.60" y2="138.50" stroke="#111" stroke-width="0.7" />
<text x="361.40" y="153.70" font-size="5.9" text-anchor="end" fill="#1a1a1a" stroke="#1a1a1a" stroke-width="0.12">10<tspan font-size="3.6" dy="-2.2">3</tspan></text>
<line x1="364.60" y1="151.70" x2="366.60" y2="151.70" stroke="#111" stroke-width="0.7" />
<text x="361.40" y="166.90" font-size="5.9" text-anchor="end" fill="#1a1a1a" stroke="#1a1a1a" stroke-width="0.12">10<tspan font-size="3.6" dy="-2.2">2</tspan></text>
<line x1="364.60" y1="164.90" x2="366.60" y2="164.90" stroke="#111" stroke-width="0.7" />
<text x="361.40" y="174.20" font-size="5.9" text-anchor="end" fill="#1a1a1a" stroke="#1a1a1a" stroke-width="0.12">0</text>
<line x1="364.60" y1="172.20" x2="366.60" y2="172.20" stroke="#111" stroke-width="0.7" />
<text x="368.50" y="184.60" font-size="5.9" text-anchor="end" fill="#1a1a1a" transform="rotate(-45 368.50 184.60)" stroke="#1a1a1a" stroke-width="0.18">−10<tspan font-size="3.6" dy="-2.2">1</tspan></text>
<text x="378.50" y="184.60" font-size="5.9" text-anchor="end" fill="#1a1a1a" transform="rotate(-45 378.50 184.60)" stroke="#1a1a1a" stroke-width="0.18">0</text>
<text x="388.80" y="184.60" font-size="5.9" text-anchor="end" fill="#1a1a1a" transform="rotate(-45 388.80 184.60)" stroke="#1a1a1a" stroke-width="0.18">10<tspan font-size="3.6" dy="-2.2">1</tspan></text>
<text x="404.30" y="184.60" font-size="5.9" text-anchor="end" fill="#1a1a1a" transform="rotate(-45 404.30 184.60)" stroke="#1a1a1a" stroke-width="0.18">10<tspan font-size="3.6" dy="-2.2">3</tspan></text>
<text x="419.00" y="184.60" font-size="5.9" text-anchor="end" fill="#1a1a1a" transform="rotate(-45 419.00 184.60)" stroke="#1a1a1a" stroke-width="0.18">10<tspan font-size="3.6" dy="-2.2">5</tspan></text>
<text x="347.00" y="150.20" font-size="9" text-anchor="middle" fill="#222" stroke="#222" stroke-width="0.2" textLength="13.5" lengthAdjust="spacingAndGlyphs" transform="rotate(-90 347.00 150.20)" >CD48</text>
<text x="392.50" y="205.20" font-size="9" text-anchor="middle" fill="#222" stroke="#222" stroke-width="0.2" textLength="16" lengthAdjust="spacingAndGlyphs" >CD150</text>
<path d="M469.6,175.8 L469.8,125 L470.3,121 L470.9,122.5 L471.4,139.2 L472.5,151 L473.9,156.9 L475.9,160.8 L478.8,164.7 L482.7,168.6 L486.7,171.6 L489.6,174.5 L491.6,175.8 Z" fill="#3a5ea8"/>
<path d="M484.4,175.8 L485.7,166.7 L487.6,158.8 L489.6,139.2 L491,125.5 L492,122.6 L492.9,127.5 L494.5,149 L496.1,166.7 L497.3,175.8 Z" fill="#d83030" opacity="0.9"/>
<line x1="469.90" y1="112.70" x2="469.90" y2="175.80" stroke="#3a6ab0" stroke-width="0.8" stroke-dasharray="1.8,1.3"/>
<line x1="480.60" y1="112.70" x2="480.60" y2="175.80" stroke="#d83a3a" stroke-width="0.8" stroke-dasharray="1.8,1.3"/>
<line x1="487.40" y1="112.70" x2="487.40" y2="175.80" stroke="#3a6ab0" stroke-width="0.8" stroke-dasharray="1.8,1.3"/>
<line x1="496.20" y1="112.70" x2="496.20" y2="175.80" stroke="#d83a3a" stroke-width="0.8" stroke-dasharray="1.8,1.3"/>
<text x="467.20" y="119.50" font-size="3.6" text-anchor="start" fill="#3a6ab0" textLength="17" lengthAdjust="spacingAndGlyphs" transform="rotate(90 467.20 119.50)" >CD61Low</text>
<text x="477.90" y="119.50" font-size="3.6" text-anchor="start" fill="#d83a3a" textLength="17" lengthAdjust="spacingAndGlyphs" transform="rotate(90 477.90 119.50)" >CD61Low</text>
<text x="484.70" y="119.50" font-size="3.6" text-anchor="start" fill="#3a6ab0" textLength="17" lengthAdjust="spacingAndGlyphs" transform="rotate(90 484.70 119.50)" >CD61High</text>
<text x="493.50" y="119.50" font-size="3.6" text-anchor="start" fill="#d83a3a" textLength="17" lengthAdjust="spacingAndGlyphs" transform="rotate(90 493.50 119.50)" >CD61High</text>
<ellipse cx="470" cy="176.8" rx="2.5" ry="0.8" fill="#111"/>
<rect x="449.6" y="112.7" width="64.60" height="63.10" fill="none" stroke="#333" stroke-width="0.85"/>
<line x1="448.60" y1="112.70" x2="449.60" y2="112.70" stroke="#222" stroke-width="0.45" />
<line x1="448.60" y1="115.22" x2="449.60" y2="115.22" stroke="#222" stroke-width="0.45" />
<line x1="448.60" y1="117.75" x2="449.60" y2="117.75" stroke="#222" stroke-width="0.45" />
<line x1="448.60" y1="120.27" x2="449.60" y2="120.27" stroke="#222" stroke-width="0.45" />
<line x1="448.60" y1="122.80" x2="449.60" y2="122.80" stroke="#222" stroke-width="0.45" />
<line x1="448.60" y1="125.32" x2="449.60" y2="125.32" stroke="#222" stroke-width="0.45" />
<line x1="448.60" y1="127.84" x2="449.60" y2="127.84" stroke="#222" stroke-width="0.45" />
<line x1="448.60" y1="130.37" x2="449.60" y2="130.37" stroke="#222" stroke-width="0.45" />
<line x1="448.60" y1="132.89" x2="449.60" y2="132.89" stroke="#222" stroke-width="0.45" />
<line x1="448.60" y1="135.42" x2="449.60" y2="135.42" stroke="#222" stroke-width="0.45" />
<line x1="448.60" y1="137.94" x2="449.60" y2="137.94" stroke="#222" stroke-width="0.45" />
<line x1="448.60" y1="140.46" x2="449.60" y2="140.46" stroke="#222" stroke-width="0.45" />
<line x1="448.60" y1="142.99" x2="449.60" y2="142.99" stroke="#222" stroke-width="0.45" />
<line x1="448.60" y1="145.51" x2="449.60" y2="145.51" stroke="#222" stroke-width="0.45" />
<line x1="448.60" y1="148.04" x2="449.60" y2="148.04" stroke="#222" stroke-width="0.45" />
<line x1="448.60" y1="150.56" x2="449.60" y2="150.56" stroke="#222" stroke-width="0.45" />
<line x1="448.60" y1="153.08" x2="449.60" y2="153.08" stroke="#222" stroke-width="0.45" />
<line x1="448.60" y1="155.61" x2="449.60" y2="155.61" stroke="#222" stroke-width="0.45" />
<line x1="448.60" y1="158.13" x2="449.60" y2="158.13" stroke="#222" stroke-width="0.45" />
<line x1="448.60" y1="160.66" x2="449.60" y2="160.66" stroke="#222" stroke-width="0.45" />
<line x1="448.60" y1="163.18" x2="449.60" y2="163.18" stroke="#222" stroke-width="0.45" />
<line x1="448.60" y1="165.70" x2="449.60" y2="165.70" stroke="#222" stroke-width="0.45" />
<line x1="448.60" y1="168.23" x2="449.60" y2="168.23" stroke="#222" stroke-width="0.45" />
<line x1="448.60" y1="170.75" x2="449.60" y2="170.75" stroke="#222" stroke-width="0.45" />
<line x1="448.60" y1="173.28" x2="449.60" y2="173.28" stroke="#222" stroke-width="0.45" />
<line x1="448.60" y1="175.80" x2="449.60" y2="175.80" stroke="#222" stroke-width="0.45" />
<line x1="449.60" y1="175.80" x2="449.60" y2="176.80" stroke="#222" stroke-width="0.45" />
<line x1="452.18" y1="175.80" x2="452.18" y2="176.80" stroke="#222" stroke-width="0.45" />
<line x1="454.77" y1="175.80" x2="454.77" y2="176.80" stroke="#222" stroke-width="0.45" />
<line x1="457.35" y1="175.80" x2="457.35" y2="176.80" stroke="#222" stroke-width="0.45" />
<line x1="459.94" y1="175.80" x2="459.94" y2="176.80" stroke="#222" stroke-width="0.45" />
<line x1="462.52" y1="175.80" x2="462.52" y2="176.80" stroke="#222" stroke-width="0.45" />
<line x1="465.10" y1="175.80" x2="465.10" y2="176.80" stroke="#222" stroke-width="0.45" />
<line x1="467.69" y1="175.80" x2="467.69" y2="176.80" stroke="#222" stroke-width="0.45" />
<line x1="470.27" y1="175.80" x2="470.27" y2="176.80" stroke="#222" stroke-width="0.45" />
<line x1="472.86" y1="175.80" x2="472.86" y2="176.80" stroke="#222" stroke-width="0.45" />
<line x1="475.44" y1="175.80" x2="475.44" y2="176.80" stroke="#222" stroke-width="0.45" />
<line x1="478.02" y1="175.80" x2="478.02" y2="176.80" stroke="#222" stroke-width="0.45" />
<line x1="480.61" y1="175.80" x2="480.61" y2="176.80" stroke="#222" stroke-width="0.45" />
<line x1="483.19" y1="175.80" x2="483.19" y2="176.80" stroke="#222" stroke-width="0.45" />
<line x1="485.78" y1="175.80" x2="485.78" y2="176.80" stroke="#222" stroke-width="0.45" />
<line x1="488.36" y1="175.80" x2="488.36" y2="176.80" stroke="#222" stroke-width="0.45" />
<line x1="490.94" y1="175.80" x2="490.94" y2="176.80" stroke="#222" stroke-width="0.45" />
<line x1="493.53" y1="175.80" x2="493.53" y2="176.80" stroke="#222" stroke-width="0.45" />
<line x1="496.11" y1="175.80" x2="496.11" y2="176.80" stroke="#222" stroke-width="0.45" />
<line x1="498.70" y1="175.80" x2="498.70" y2="176.80" stroke="#222" stroke-width="0.45" />
<line x1="501.28" y1="175.80" x2="501.28" y2="176.80" stroke="#222" stroke-width="0.45" />
<line x1="503.86" y1="175.80" x2="503.86" y2="176.80" stroke="#222" stroke-width="0.45" />
<line x1="506.45" y1="175.80" x2="506.45" y2="176.80" stroke="#222" stroke-width="0.45" />
<line x1="509.03" y1="175.80" x2="509.03" y2="176.80" stroke="#222" stroke-width="0.45" />
<line x1="511.62" y1="175.80" x2="511.62" y2="176.80" stroke="#222" stroke-width="0.45" />
<line x1="514.20" y1="175.80" x2="514.20" y2="176.80" stroke="#222" stroke-width="0.45" />
<text x="444.70" y="118.00" font-size="6.2" text-anchor="end" fill="#1a1a1a" stroke="#1a1a1a" stroke-width="0.12">100</text>
<line x1="447.60" y1="116.00" x2="449.60" y2="116.00" stroke="#111" stroke-width="0.7" />
<text x="444.70" y="130.10" font-size="6.2" text-anchor="end" fill="#1a1a1a" stroke="#1a1a1a" stroke-width="0.12">80</text>
<line x1="447.60" y1="128.10" x2="449.60" y2="128.10" stroke="#111" stroke-width="0.7" />
<text x="444.70" y="142.00" font-size="6.2" text-anchor="end" fill="#1a1a1a" stroke="#1a1a1a" stroke-width="0.12">60</text>
<line x1="447.60" y1="140.00" x2="449.60" y2="140.00" stroke="#111" stroke-width="0.7" />
<text x="444.70" y="154.00" font-size="6.2" text-anchor="end" fill="#1a1a1a" stroke="#1a1a1a" stroke-width="0.12">40</text>
<line x1="447.60" y1="152.00" x2="449.60" y2="152.00" stroke="#111" stroke-width="0.7" />
<text x="444.70" y="166.00" font-size="6.2" text-anchor="end" fill="#1a1a1a" stroke="#1a1a1a" stroke-width="0.12">20</text>
<line x1="447.60" y1="164.00" x2="449.60" y2="164.00" stroke="#111" stroke-width="0.7" />
<text x="444.70" y="177.90" font-size="6.2" text-anchor="end" fill="#1a1a1a" stroke="#1a1a1a" stroke-width="0.12">0</text>
<line x1="447.60" y1="175.90" x2="449.60" y2="175.90" stroke="#111" stroke-width="0.7" />
<text x="472.50" y="185.10" font-size="5.9" text-anchor="end" fill="#1a1a1a" transform="rotate(-45 472.50 185.10)" stroke="#1a1a1a" stroke-width="0.18">0</text>
<text x="498.10" y="185.10" font-size="5.9" text-anchor="end" fill="#1a1a1a" transform="rotate(-45 498.10 185.10)" stroke="#1a1a1a" stroke-width="0.18">10<tspan font-size="3.6" dy="-2.2">3</tspan></text>
<text x="428.40" y="145.10" font-size="8.5" text-anchor="middle" fill="#222" stroke="#222" stroke-width="0.2" textLength="47" lengthAdjust="spacingAndGlyphs" transform="rotate(-90 428.40 145.10)" >Normalized to mode</text>
<text x="480.80" y="205.00" font-size="9" text-anchor="middle" fill="#222" stroke="#222" stroke-width="0.2" textLength="12.5" lengthAdjust="spacingAndGlyphs" >CD61</text>
<line x1="34.30" y1="253.40" x2="34.30" y2="347.10" stroke="#111" stroke-width="0.95" />
<line x1="34.30" y1="347.10" x2="152.70" y2="347.10" stroke="#111" stroke-width="0.95" />
<line x1="31.90" y1="261.00" x2="34.30" y2="261.00" stroke="#222" stroke-width="0.7" />
<text x="29.20" y="263.00" font-size="5.7" text-anchor="end" fill="#333" stroke="#333" stroke-width="0.1" >20</text>
<line x1="31.90" y1="279.85" x2="34.30" y2="279.85" stroke="#222" stroke-width="0.7" />
<text x="29.20" y="281.85" font-size="5.7" text-anchor="end" fill="#333" stroke="#333" stroke-width="0.1" >10</text>
<line x1="31.90" y1="298.70" x2="34.30" y2="298.70" stroke="#222" stroke-width="0.7" />
<text x="29.20" y="300.70" font-size="5.7" text-anchor="end" fill="#333" stroke="#333" stroke-width="0.1" >0</text>
<line x1="31.90" y1="317.55" x2="34.30" y2="317.55" stroke="#222" stroke-width="0.7" />
<text x="29.20" y="319.55" font-size="5.7" text-anchor="end" fill="#333" stroke="#333" stroke-width="0.1" >−10</text>
<line x1="31.90" y1="336.40" x2="34.30" y2="336.40" stroke="#222" stroke-width="0.7" />
<text x="29.20" y="338.40" font-size="5.7" text-anchor="end" fill="#333" stroke="#333" stroke-width="0.1" >−20</text>
<line x1="55.85" y1="347.10" x2="55.85" y2="349.50" stroke="#222" stroke-width="0.7" />
<text x="55.85" y="358.70" font-size="5.7" text-anchor="middle" fill="#333" stroke="#333" stroke-width="0.1" >−25</text>
<line x1="79.40" y1="347.10" x2="79.40" y2="349.50" stroke="#222" stroke-width="0.7" />
<text x="79.40" y="358.70" font-size="5.7" text-anchor="middle" fill="#333" stroke="#333" stroke-width="0.1" >0</text>
<line x1="102.95" y1="347.10" x2="102.95" y2="349.50" stroke="#222" stroke-width="0.7" />
<text x="102.95" y="358.70" font-size="5.7" text-anchor="middle" fill="#333" stroke="#333" stroke-width="0.1" >25</text>
<line x1="126.50" y1="347.10" x2="126.50" y2="349.50" stroke="#222" stroke-width="0.7" />
<text x="126.50" y="358.70" font-size="5.7" text-anchor="middle" fill="#333" stroke="#333" stroke-width="0.1" >50</text>
<line x1="150.05" y1="347.10" x2="150.05" y2="349.50" stroke="#222" stroke-width="0.7" />
<text x="150.05" y="358.70" font-size="5.7" text-anchor="middle" fill="#333" stroke="#333" stroke-width="0.1" >75</text>
<circle cx="41.2" cy="256.9" r="1.4" fill="#1e3a70"/>
<text x="36.00" y="264.10" font-size="5.8" text-anchor="start" fill="#3a6090" stroke="#3a6090" stroke-width="0.1" textLength="22.7" lengthAdjust="spacingAndGlyphs" >Mouse 3</text>
<circle cx="56.7" cy="274.2" r="1.4" fill="#1e3a70"/>
<text x="51.90" y="281.30" font-size="5.8" text-anchor="start" fill="#3a6090" stroke="#3a6090" stroke-width="0.1" textLength="22.7" lengthAdjust="spacingAndGlyphs" >Mouse 1</text>
<circle cx="120.4" cy="279.5" r="1.4" fill="#1e3a70"/>
<text x="116.00" y="286.60" font-size="5.8" text-anchor="start" fill="#3a6090" stroke="#3a6090" stroke-width="0.1" textLength="22.7" lengthAdjust="spacingAndGlyphs" >Mouse 2</text>
<circle cx="39.8" cy="335.8" r="1.4" fill="#a0102e"/>
<text x="41.90" y="338.60" font-size="5.8" text-anchor="start" fill="#c0284a" stroke="#c0284a" stroke-width="0.1" textLength="22.7" lengthAdjust="spacingAndGlyphs" >Mouse 3</text>
<circle cx="74" cy="343.3" r="1.4" fill="#a0102e"/>
<text x="50.20" y="346.00" font-size="5.8" text-anchor="start" fill="#c0284a" stroke="#c0284a" stroke-width="0.1" textLength="22.7" lengthAdjust="spacingAndGlyphs" >Mouse 1</text>
<circle cx="145.7" cy="303.3" r="1.4" fill="#a0102e"/>
<text x="128.10" y="310.50" font-size="5.8" text-anchor="start" fill="#c0284a" stroke="#c0284a" stroke-width="0.1" textLength="22.7" lengthAdjust="spacingAndGlyphs" >Mouse 2</text>
<text x="14.20" y="298.30" font-size="7" text-anchor="middle" fill="#222" stroke="#222" stroke-width="0.2" textLength="51.5" lengthAdjust="spacingAndGlyphs" transform="rotate(-90 14.20 298.30)" >PC2: 13% variance</text>
<text x="94.00" y="370.20" font-size="7.2" text-anchor="middle" fill="#222" stroke="#222" stroke-width="0.2" textLength="47.5" lengthAdjust="spacingAndGlyphs" >PC1: 80% variance</text>
<text x="49.30" y="380.90" font-size="5.8" text-anchor="start" fill="#444" stroke="#444" stroke-width="0.1" textLength="19" lengthAdjust="spacingAndGlyphs" >Groups</text>
<circle cx="75.7" cy="378.9" r="1.6" fill="#1e3a70"/>
<text x="80.90" y="380.90" font-size="5.8" text-anchor="start" fill="#333" stroke="#333" stroke-width="0.1" textLength="14.2" lengthAdjust="spacingAndGlyphs" >CD61</text>
<text x="95.40" y="378.30" font-size="3.5" text-anchor="start" fill="#333" textLength="6.6" lengthAdjust="spacingAndGlyphs" >Low</text>
<circle cx="112.1" cy="378.9" r="1.6" fill="#a0102e"/>
<text x="117.30" y="380.90" font-size="5.8" text-anchor="start" fill="#333" stroke="#333" stroke-width="0.1" textLength="14.2" lengthAdjust="spacingAndGlyphs" >CD61</text>
<text x="131.80" y="378.30" font-size="3.5" text-anchor="start" fill="#333" textLength="7.2" lengthAdjust="spacingAndGlyphs" >High</text>
<rect x="189.1" y="240.4" width="121.1" height="106.6" fill="none" stroke="#222" stroke-width="0.75"/>
<line x1="186.60" y1="342.60" x2="189.10" y2="342.60" stroke="#222" stroke-width="0.6" />
<text x="183.60" y="344.50" font-size="5.6" text-anchor="end" fill="#333" stroke="#333" stroke-width="0.1" >0</text>
<line x1="186.60" y1="318.23" x2="189.10" y2="318.23" stroke="#222" stroke-width="0.6" />
<text x="183.60" y="320.12" font-size="5.6" text-anchor="end" fill="#333" stroke="#333" stroke-width="0.1" >5</text>
<line x1="186.60" y1="293.85" x2="189.10" y2="293.85" stroke="#222" stroke-width="0.6" />
<text x="183.60" y="295.75" font-size="5.6" text-anchor="end" fill="#333" stroke="#333" stroke-width="0.1" >10</text>
<line x1="186.60" y1="269.48" x2="189.10" y2="269.48" stroke="#222" stroke-width="0.6" />
<text x="183.60" y="271.38" font-size="5.6" text-anchor="end" fill="#333" stroke="#333" stroke-width="0.1" >15</text>
<line x1="186.60" y1="245.10" x2="189.10" y2="245.10" stroke="#222" stroke-width="0.6" />
<text x="183.60" y="247.00" font-size="5.6" text-anchor="end" fill="#333" stroke="#333" stroke-width="0.1" >20</text>
<line x1="207.00" y1="347.00" x2="207.00" y2="349.30" stroke="#222" stroke-width="0.6" />
<text x="207.00" y="358.30" font-size="5.4" text-anchor="middle" fill="#333" stroke="#333" stroke-width="0.1" >−2</text>
<line x1="229.20" y1="347.00" x2="229.20" y2="349.30" stroke="#222" stroke-width="0.6" />
<text x="229.20" y="358.30" font-size="5.4" text-anchor="middle" fill="#333" stroke="#333" stroke-width="0.1" >−1</text>
<line x1="251.40" y1="347.00" x2="251.40" y2="349.30" stroke="#222" stroke-width="0.6" />
<text x="251.40" y="358.30" font-size="5.4" text-anchor="middle" fill="#333" stroke="#333" stroke-width="0.1" >0</text>
<line x1="273.60" y1="347.00" x2="273.60" y2="349.30" stroke="#222" stroke-width="0.6" />
<text x="273.60" y="358.30" font-size="5.4" text-anchor="middle" fill="#333" stroke="#333" stroke-width="0.1" >1</text>
<line x1="295.80" y1="347.00" x2="295.80" y2="349.30" stroke="#222" stroke-width="0.6" />
<text x="295.80" y="358.30" font-size="5.4" text-anchor="middle" fill="#333" stroke="#333" stroke-width="0.1" >2</text>
<path d="M226,331 L240.6,331 L240.8,318 L243.8,330.7 L251.6,340.2 L259.4,330.7 L262.4,318 L262.6,331 L277,331 C273,334.5 268,338 262.5,341 C259,342.8 255,343.8 251.6,343.8 C248,343.8 244,342.8 240.5,341 C235,338 230,334.5 226,331 Z" fill="#c8c8cc"/>
<circle cx="236.2" cy="330.2" r="1.15" fill="#1a4a88"/>
<circle cx="239.2" cy="326.8" r="1.15" fill="#1a4a88"/>
<circle cx="232.1" cy="327.1" r="1.15" fill="#1a4a88"/>
<circle cx="232.5" cy="313.2" r="1.15" fill="#1a4a88"/>
<circle cx="238.0" cy="327.9" r="1.15" fill="#1a4a88"/>
<circle cx="220.8" cy="320.9" r="1.15" fill="#1a4a88"/>
<circle cx="229.5" cy="308.6" r="1.15" fill="#1a4a88"/>
<circle cx="235.4" cy="321.6" r="1.15" fill="#1a4a88"/>
<circle cx="225.0" cy="322.0" r="1.15" fill="#1a4a88"/>
<circle cx="235.5" cy="327.8" r="1.15" fill="#1a4a88"/>
<circle cx="234.7" cy="324.0" r="1.15" fill="#1a4a88"/>
<circle cx="226.2" cy="315.3" r="1.15" fill="#1a4a88"/>
<circle cx="230.6" cy="320.5" r="1.15" fill="#1a4a88"/>
<circle cx="237.9" cy="324.1" r="1.15" fill="#1a4a88"/>
<circle cx="239.3" cy="328.0" r="1.15" fill="#1a4a88"/>
<circle cx="220.9" cy="314.7" r="1.15" fill="#1a4a88"/>
<circle cx="229.5" cy="329.1" r="1.15" fill="#1a4a88"/>
<circle cx="237.1" cy="318.6" r="1.15" fill="#1a4a88"/>
<circle cx="237.8" cy="330.1" r="1.15" fill="#1a4a88"/>
<circle cx="236.0" cy="325.1" r="1.15" fill="#1a4a88"/>
<circle cx="223.0" cy="323.4" r="1.15" fill="#1a4a88"/>
<circle cx="236.7" cy="325.4" r="1.15" fill="#1a4a88"/>
<circle cx="230.7" cy="310.0" r="1.15" fill="#1a4a88"/>
<circle cx="234.1" cy="327.7" r="1.15" fill="#1a4a88"/>
<circle cx="233.1" cy="327.7" r="1.15" fill="#1a4a88"/>
<circle cx="233.0" cy="323.4" r="1.15" fill="#1a4a88"/>
<circle cx="232.3" cy="321.6" r="1.15" fill="#1a4a88"/>
<circle cx="238.1" cy="325.5" r="1.15" fill="#1a4a88"/>
<circle cx="234.0" cy="326.2" r="1.15" fill="#1a4a88"/>
<circle cx="226.6" cy="325.7" r="1.15" fill="#1a4a88"/>
<circle cx="223.0" cy="323.3" r="1.15" fill="#1a4a88"/>
<circle cx="232.1" cy="326.4" r="1.15" fill="#1a4a88"/>
<circle cx="226.7" cy="328.7" r="1.15" fill="#1a4a88"/>
<circle cx="230.9" cy="324.0" r="1.15" fill="#1a4a88"/>
<circle cx="236.3" cy="327.3" r="1.15" fill="#1a4a88"/>
<circle cx="234.7" cy="328.9" r="1.15" fill="#1a4a88"/>
<circle cx="230.9" cy="317.5" r="1.15" fill="#1a4a88"/>
<circle cx="238.1" cy="323.6" r="1.15" fill="#1a4a88"/>
<circle cx="236.7" cy="330.0" r="1.15" fill="#1a4a88"/>
<circle cx="228.9" cy="325.9" r="1.15" fill="#1a4a88"/>
<circle cx="232.0" cy="325.5" r="1.15" fill="#1a4a88"/>
<circle cx="224.9" cy="312.6" r="1.15" fill="#1a4a88"/>
<circle cx="230.8" cy="323.2" r="1.15" fill="#1a4a88"/>
<circle cx="240.2" cy="315.9" r="1.15" fill="#1a4a88"/>
<circle cx="228.0" cy="321.3" r="1.15" fill="#1a4a88"/>
<circle cx="238.2" cy="327.5" r="1.15" fill="#1a4a88"/>
<circle cx="237.2" cy="324.1" r="1.15" fill="#1a4a88"/>
<circle cx="226.2" cy="330.1" r="1.15" fill="#1a4a88"/>
<circle cx="229.3" cy="326.9" r="1.15" fill="#1a4a88"/>
<circle cx="240.3" cy="329.3" r="1.15" fill="#1a4a88"/>
<circle cx="237.3" cy="328.3" r="1.15" fill="#1a4a88"/>
<circle cx="232.5" cy="330.1" r="1.15" fill="#1a4a88"/>
<circle cx="233.2" cy="329.5" r="1.15" fill="#1a4a88"/>
<circle cx="238.8" cy="328.8" r="1.15" fill="#1a4a88"/>
<circle cx="239.8" cy="329.2" r="1.15" fill="#1a4a88"/>
<circle cx="224.7" cy="327.3" r="1.15" fill="#1a4a88"/>
<circle cx="233.1" cy="328.6" r="1.15" fill="#1a4a88"/>
<circle cx="235.3" cy="327.4" r="1.15" fill="#1a4a88"/>
<circle cx="238.6" cy="318.8" r="1.15" fill="#1a4a88"/>
<circle cx="222.7" cy="330.0" r="1.15" fill="#1a4a88"/>
<circle cx="229.4" cy="330.1" r="1.15" fill="#1a4a88"/>
<circle cx="229.8" cy="328.5" r="1.15" fill="#1a4a88"/>
<circle cx="232.7" cy="319.6" r="1.15" fill="#1a4a88"/>
<circle cx="239.8" cy="322.6" r="1.15" fill="#1a4a88"/>
<circle cx="234.6" cy="328.5" r="1.15" fill="#1a4a88"/>
<circle cx="239.0" cy="328.4" r="1.15" fill="#1a4a88"/>
<circle cx="229.7" cy="329.0" r="1.15" fill="#1a4a88"/>
<circle cx="235.7" cy="314.8" r="1.15" fill="#1a4a88"/>
<circle cx="238.7" cy="326.0" r="1.15" fill="#1a4a88"/>
<circle cx="238.2" cy="324.3" r="1.15" fill="#1a4a88"/>
<circle cx="231.6" cy="330.2" r="1.15" fill="#1a4a88"/>
<circle cx="237.9" cy="320.8" r="1.15" fill="#1a4a88"/>
<circle cx="229.3" cy="313.9" r="1.15" fill="#1a4a88"/>
<circle cx="240.0" cy="328.8" r="1.15" fill="#1a4a88"/>
<circle cx="236.1" cy="327.5" r="1.15" fill="#1a4a88"/>
<circle cx="239.4" cy="317.9" r="1.15" fill="#1a4a88"/>
<circle cx="239.9" cy="327.5" r="1.15" fill="#1a4a88"/>
<circle cx="239.3" cy="324.0" r="1.15" fill="#1a4a88"/>
<circle cx="234.0" cy="313.7" r="1.15" fill="#1a4a88"/>
<circle cx="227.8" cy="323.3" r="1.15" fill="#1a4a88"/>
<circle cx="230.5" cy="324.5" r="1.15" fill="#1a4a88"/>
<circle cx="228.8" cy="328.6" r="1.15" fill="#1a4a88"/>
<circle cx="239.5" cy="319.0" r="1.15" fill="#1a4a88"/>
<circle cx="235.8" cy="325.4" r="1.15" fill="#1a4a88"/>
<circle cx="235.6" cy="326.7" r="1.15" fill="#1a4a88"/>
<circle cx="226.8" cy="325.7" r="1.15" fill="#1a4a88"/>
<circle cx="231.0" cy="326.4" r="1.15" fill="#1a4a88"/>
<circle cx="230.9" cy="321.7" r="1.15" fill="#1a4a88"/>
<circle cx="238.7" cy="330.1" r="1.15" fill="#1a4a88"/>
<circle cx="236.0" cy="327.0" r="1.15" fill="#1a4a88"/>
<circle cx="239.5" cy="308.5" r="1.15" fill="#1a4a88"/>
<circle cx="231.0" cy="329.1" r="1.15" fill="#1a4a88"/>
<circle cx="225.8" cy="321.9" r="1.15" fill="#1a4a88"/>
<circle cx="234.8" cy="324.9" r="1.15" fill="#1a4a88"/>
<circle cx="240.1" cy="312.2" r="1.15" fill="#1a4a88"/>
<circle cx="238.7" cy="322.9" r="1.15" fill="#1a4a88"/>
<circle cx="235.2" cy="329.7" r="1.15" fill="#1a4a88"/>
<circle cx="226.7" cy="329.8" r="1.15" fill="#1a4a88"/>
<circle cx="236.3" cy="311.0" r="1.15" fill="#1a4a88"/>
<circle cx="232.0" cy="311.4" r="1.15" fill="#1a4a88"/>
<circle cx="231.1" cy="319.5" r="1.15" fill="#1a4a88"/>
<circle cx="234.6" cy="327.4" r="1.15" fill="#1a4a88"/>
<circle cx="222.1" cy="317.3" r="1.15" fill="#1a4a88"/>
<circle cx="236.9" cy="314.6" r="1.15" fill="#1a4a88"/>
<circle cx="236.8" cy="327.7" r="1.15" fill="#1a4a88"/>
<circle cx="229.6" cy="327.6" r="1.15" fill="#1a4a88"/>
<circle cx="240.1" cy="314.4" r="1.15" fill="#1a4a88"/>
<circle cx="237.6" cy="328.0" r="1.15" fill="#1a4a88"/>
<circle cx="233.6" cy="329.6" r="1.15" fill="#1a4a88"/>
<circle cx="239.3" cy="326.7" r="1.15" fill="#1a4a88"/>
<circle cx="237.9" cy="326.1" r="1.15" fill="#1a4a88"/>
<circle cx="236.1" cy="326.7" r="1.15" fill="#1a4a88"/>
<circle cx="231.6" cy="327.5" r="1.15" fill="#1a4a88"/>
<circle cx="229.0" cy="323.7" r="1.15" fill="#1a4a88"/>
<circle cx="226.2" cy="326.1" r="1.15" fill="#1a4a88"/>
<circle cx="226.7" cy="330.0" r="1.15" fill="#1a4a88"/>
<circle cx="231.4" cy="328.4" r="1.15" fill="#1a4a88"/>
<circle cx="237.4" cy="329.5" r="1.15" fill="#1a4a88"/>
<circle cx="239.8" cy="329.5" r="1.15" fill="#1a4a88"/>
<circle cx="233.6" cy="330.0" r="1.15" fill="#1a4a88"/>
<circle cx="225.9" cy="329.3" r="1.15" fill="#1a4a88"/>
<circle cx="239.8" cy="326.3" r="1.15" fill="#1a4a88"/>
<circle cx="237.4" cy="329.9" r="1.15" fill="#1a4a88"/>
<circle cx="231.6" cy="327.1" r="1.15" fill="#1a4a88"/>
<circle cx="227.7" cy="322.7" r="1.15" fill="#1a4a88"/>
<circle cx="228.6" cy="325.1" r="1.15" fill="#1a4a88"/>
<circle cx="238.6" cy="322.9" r="1.15" fill="#1a4a88"/>
<circle cx="238.5" cy="319.7" r="1.15" fill="#1a4a88"/>
<circle cx="236.8" cy="328.1" r="1.15" fill="#1a4a88"/>
<circle cx="233.8" cy="330.3" r="1.15" fill="#1a4a88"/>
<circle cx="194.6" cy="245.1" r="1.15" fill="#1a4a88"/>
<circle cx="198.4" cy="273.3" r="1.15" fill="#1a4a88"/>
<circle cx="223.7" cy="280.2" r="1.15" fill="#1a4a88"/>
<circle cx="224.8" cy="288.0" r="1.15" fill="#1a4a88"/>
<circle cx="218.1" cy="290.9" r="1.15" fill="#1a4a88"/>
<circle cx="228.1" cy="296.3" r="1.15" fill="#1a4a88"/>
<circle cx="222.5" cy="298.2" r="1.15" fill="#1a4a88"/>
<circle cx="209.2" cy="302.1" r="1.15" fill="#1a4a88"/>
<circle cx="211.9" cy="303.1" r="1.15" fill="#1a4a88"/>
<circle cx="214.8" cy="302.6" r="1.15" fill="#1a4a88"/>
<circle cx="210.3" cy="307.0" r="1.15" fill="#1a4a88"/>
<circle cx="217.0" cy="307.5" r="1.15" fill="#1a4a88"/>
<circle cx="222.5" cy="307.0" r="1.15" fill="#1a4a88"/>
<circle cx="224.8" cy="311.9" r="1.15" fill="#1a4a88"/>
<circle cx="213.7" cy="313.4" r="1.15" fill="#1a4a88"/>
<circle cx="217.0" cy="313.8" r="1.15" fill="#1a4a88"/>
<circle cx="233.6" cy="309.5" r="1.15" fill="#1a4a88"/>
<circle cx="238.1" cy="310.9" r="1.15" fill="#1a4a88"/>
<circle cx="221.4" cy="318.2" r="1.15" fill="#1a4a88"/>
<circle cx="229.2" cy="316.8" r="1.15" fill="#1a4a88"/>
<circle cx="235.9" cy="314.8" r="1.15" fill="#1a4a88"/>
<circle cx="227.0" cy="300.7" r="1.15" fill="#1a4a88"/>
<circle cx="220.3" cy="309.5" r="1.15" fill="#1a4a88"/>
<circle cx="281.8" cy="328.8" r="1.15" fill="#c0102c"/>
<circle cx="272.3" cy="322.5" r="1.15" fill="#c0102c"/>
<circle cx="272.2" cy="329.2" r="1.15" fill="#c0102c"/>
<circle cx="267.5" cy="328.8" r="1.15" fill="#c0102c"/>
<circle cx="268.4" cy="325.6" r="1.15" fill="#c0102c"/>
<circle cx="264.6" cy="330.2" r="1.15" fill="#c0102c"/>
<circle cx="274.5" cy="325.3" r="1.15" fill="#c0102c"/>
<circle cx="269.7" cy="324.5" r="1.15" fill="#c0102c"/>
<circle cx="263.3" cy="330.0" r="1.15" fill="#c0102c"/>
<circle cx="270.8" cy="317.5" r="1.15" fill="#c0102c"/>
<circle cx="273.5" cy="321.6" r="1.15" fill="#c0102c"/>
<circle cx="269.4" cy="323.3" r="1.15" fill="#c0102c"/>
<circle cx="263.0" cy="324.8" r="1.15" fill="#c0102c"/>
<circle cx="271.0" cy="321.2" r="1.15" fill="#c0102c"/>
<circle cx="264.0" cy="326.0" r="1.15" fill="#c0102c"/>
<circle cx="266.0" cy="321.2" r="1.15" fill="#c0102c"/>
<circle cx="270.6" cy="321.8" r="1.15" fill="#c0102c"/>
<circle cx="267.7" cy="328.9" r="1.15" fill="#c0102c"/>
<circle cx="265.9" cy="318.1" r="1.15" fill="#c0102c"/>
<circle cx="269.6" cy="328.6" r="1.15" fill="#c0102c"/>
<circle cx="265.5" cy="330.1" r="1.15" fill="#c0102c"/>
<circle cx="265.2" cy="328.1" r="1.15" fill="#c0102c"/>
<circle cx="277.3" cy="326.4" r="1.15" fill="#c0102c"/>
<circle cx="269.8" cy="326.6" r="1.15" fill="#c0102c"/>
<circle cx="264.3" cy="320.0" r="1.15" fill="#c0102c"/>
<circle cx="269.9" cy="323.9" r="1.15" fill="#c0102c"/>
<circle cx="262.7" cy="320.4" r="1.15" fill="#c0102c"/>
<circle cx="266.7" cy="321.2" r="1.15" fill="#c0102c"/>
<circle cx="265.6" cy="324.7" r="1.15" fill="#c0102c"/>
<circle cx="268.3" cy="310.7" r="1.15" fill="#c0102c"/>
<circle cx="280.4" cy="328.5" r="1.15" fill="#c0102c"/>
<circle cx="274.3" cy="329.3" r="1.15" fill="#c0102c"/>
<circle cx="264.2" cy="319.0" r="1.15" fill="#c0102c"/>
<circle cx="263.5" cy="322.6" r="1.15" fill="#c0102c"/>
<circle cx="278.3" cy="319.9" r="1.15" fill="#c0102c"/>
<circle cx="265.1" cy="315.8" r="1.15" fill="#c0102c"/>
<circle cx="276.2" cy="325.8" r="1.15" fill="#c0102c"/>
<circle cx="282.3" cy="328.0" r="1.15" fill="#c0102c"/>
<circle cx="271.3" cy="328.5" r="1.15" fill="#c0102c"/>
<circle cx="267.1" cy="309.9" r="1.15" fill="#c0102c"/>
<circle cx="268.4" cy="329.6" r="1.15" fill="#c0102c"/>
<circle cx="264.4" cy="325.2" r="1.15" fill="#c0102c"/>
<circle cx="267.9" cy="317.4" r="1.15" fill="#c0102c"/>
<circle cx="272.2" cy="327.9" r="1.15" fill="#c0102c"/>
<circle cx="279.3" cy="324.3" r="1.15" fill="#c0102c"/>
<circle cx="271.5" cy="326.8" r="1.15" fill="#c0102c"/>
<circle cx="275.2" cy="309.0" r="1.15" fill="#c0102c"/>
<circle cx="272.7" cy="320.1" r="1.15" fill="#c0102c"/>
<circle cx="274.1" cy="314.1" r="1.15" fill="#c0102c"/>
<circle cx="269.6" cy="322.1" r="1.15" fill="#c0102c"/>
<circle cx="263.0" cy="326.9" r="1.15" fill="#c0102c"/>
<circle cx="269.9" cy="318.2" r="1.15" fill="#c0102c"/>
<circle cx="273.0" cy="314.7" r="1.15" fill="#c0102c"/>
<circle cx="266.4" cy="329.6" r="1.15" fill="#c0102c"/>
<circle cx="267.9" cy="324.0" r="1.15" fill="#c0102c"/>
<circle cx="268.4" cy="316.2" r="1.15" fill="#c0102c"/>
<circle cx="262.7" cy="329.9" r="1.15" fill="#c0102c"/>
<circle cx="284.3" cy="320.8" r="1.15" fill="#c0102c"/>
<circle cx="268.8" cy="323.9" r="1.15" fill="#c0102c"/>
<circle cx="264.2" cy="326.0" r="1.15" fill="#c0102c"/>
<circle cx="275.9" cy="330.4" r="1.15" fill="#c0102c"/>
<circle cx="266.9" cy="326.8" r="1.15" fill="#c0102c"/>
<circle cx="263.6" cy="316.8" r="1.15" fill="#c0102c"/>
<circle cx="267.3" cy="328.7" r="1.15" fill="#c0102c"/>
<circle cx="264.8" cy="326.2" r="1.15" fill="#c0102c"/>
<circle cx="267.5" cy="326.2" r="1.15" fill="#c0102c"/>
<circle cx="274.5" cy="324.3" r="1.15" fill="#c0102c"/>
<circle cx="269.3" cy="321.0" r="1.15" fill="#c0102c"/>
<circle cx="273.5" cy="323.6" r="1.15" fill="#c0102c"/>
<circle cx="265.3" cy="327.9" r="1.15" fill="#c0102c"/>
<circle cx="265.5" cy="315.3" r="1.15" fill="#c0102c"/>
<circle cx="264.7" cy="316.4" r="1.15" fill="#c0102c"/>
<circle cx="277.9" cy="319.1" r="1.15" fill="#c0102c"/>
<circle cx="262.7" cy="324.3" r="1.15" fill="#c0102c"/>
<circle cx="264.5" cy="327.4" r="1.15" fill="#c0102c"/>
<circle cx="270.0" cy="327.4" r="1.15" fill="#c0102c"/>
<circle cx="270.4" cy="326.3" r="1.15" fill="#c0102c"/>
<circle cx="264.5" cy="326.6" r="1.15" fill="#c0102c"/>
<circle cx="266.6" cy="324.4" r="1.15" fill="#c0102c"/>
<circle cx="271.8" cy="327.9" r="1.15" fill="#c0102c"/>
<circle cx="263.2" cy="328.8" r="1.15" fill="#c0102c"/>
<circle cx="266.3" cy="328.2" r="1.15" fill="#c0102c"/>
<circle cx="268.8" cy="329.5" r="1.15" fill="#c0102c"/>
<circle cx="270.9" cy="325.2" r="1.15" fill="#c0102c"/>
<circle cx="270.8" cy="325.5" r="1.15" fill="#c0102c"/>
<circle cx="270.4" cy="314.1" r="1.15" fill="#c0102c"/>
<circle cx="263.5" cy="328.5" r="1.15" fill="#c0102c"/>
<circle cx="279.8" cy="318.0" r="1.15" fill="#c0102c"/>
<circle cx="278.0" cy="327.1" r="1.15" fill="#c0102c"/>
<circle cx="266.8" cy="327.0" r="1.15" fill="#c0102c"/>
<circle cx="272.7" cy="329.6" r="1.15" fill="#c0102c"/>
<circle cx="276.0" cy="317.5" r="1.15" fill="#c0102c"/>
<circle cx="273.1" cy="327.3" r="1.15" fill="#c0102c"/>
<circle cx="270.7" cy="329.7" r="1.15" fill="#c0102c"/>
<circle cx="273.7" cy="328.7" r="1.15" fill="#c0102c"/>
<circle cx="269.1" cy="312.6" r="1.15" fill="#c0102c"/>
<circle cx="263.2" cy="324.1" r="1.15" fill="#c0102c"/>
<circle cx="264.1" cy="329.4" r="1.15" fill="#c0102c"/>
<circle cx="263.6" cy="322.1" r="1.15" fill="#c0102c"/>
<circle cx="272.4" cy="323.0" r="1.15" fill="#c0102c"/>
<circle cx="264.6" cy="323.9" r="1.15" fill="#c0102c"/>
<circle cx="278.8" cy="321.2" r="1.15" fill="#c0102c"/>
<circle cx="264.7" cy="329.7" r="1.15" fill="#c0102c"/>
<circle cx="266.7" cy="315.9" r="1.15" fill="#c0102c"/>
<circle cx="265.1" cy="327.7" r="1.15" fill="#c0102c"/>
<circle cx="271.5" cy="322.1" r="1.15" fill="#c0102c"/>
<circle cx="279.7" cy="324.4" r="1.15" fill="#c0102c"/>
<circle cx="266.2" cy="327.1" r="1.15" fill="#c0102c"/>
<circle cx="271.0" cy="308.3" r="1.15" fill="#c0102c"/>
<circle cx="274.4" cy="326.9" r="1.15" fill="#c0102c"/>
<circle cx="281.5" cy="327.9" r="1.15" fill="#c0102c"/>
<circle cx="278.9" cy="325.5" r="1.15" fill="#c0102c"/>
<circle cx="265.0" cy="330.1" r="1.15" fill="#c0102c"/>
<circle cx="279.1" cy="325.2" r="1.15" fill="#c0102c"/>
<circle cx="264.9" cy="325.0" r="1.15" fill="#c0102c"/>
<circle cx="277.3" cy="328.1" r="1.15" fill="#c0102c"/>
<circle cx="265.1" cy="327.7" r="1.15" fill="#c0102c"/>
<circle cx="264.2" cy="326.6" r="1.15" fill="#c0102c"/>
<circle cx="267.7" cy="326.3" r="1.15" fill="#c0102c"/>
<circle cx="273.1" cy="327.9" r="1.15" fill="#c0102c"/>
<circle cx="267.8" cy="325.9" r="1.15" fill="#c0102c"/>
<circle cx="274.6" cy="328.6" r="1.15" fill="#c0102c"/>
<circle cx="267.6" cy="320.0" r="1.15" fill="#c0102c"/>
<circle cx="273.0" cy="321.7" r="1.15" fill="#c0102c"/>
<circle cx="273.4" cy="307.7" r="1.15" fill="#c0102c"/>
<circle cx="267.8" cy="317.5" r="1.15" fill="#c0102c"/>
<circle cx="265.4" cy="317.2" r="1.15" fill="#c0102c"/>
<circle cx="263.9" cy="327.0" r="1.15" fill="#c0102c"/>
<circle cx="264.8" cy="330.2" r="1.15" fill="#c0102c"/>
<circle cx="264.6" cy="327.0" r="1.15" fill="#c0102c"/>
<circle cx="276.9" cy="318.2" r="1.15" fill="#c0102c"/>
<circle cx="264.8" cy="322.6" r="1.15" fill="#c0102c"/>
<circle cx="263.3" cy="324.3" r="1.15" fill="#c0102c"/>
<circle cx="267.8" cy="329.9" r="1.15" fill="#c0102c"/>
<circle cx="271.6" cy="323.7" r="1.15" fill="#c0102c"/>
<circle cx="268.1" cy="329.4" r="1.15" fill="#c0102c"/>
<circle cx="271.7" cy="329.1" r="1.15" fill="#c0102c"/>
<circle cx="266.6" cy="322.8" r="1.15" fill="#c0102c"/>
<circle cx="267.0" cy="319.9" r="1.15" fill="#c0102c"/>
<circle cx="274.0" cy="321.8" r="1.15" fill="#c0102c"/>
<circle cx="268.3" cy="327.1" r="1.15" fill="#c0102c"/>
<circle cx="263.7" cy="325.2" r="1.15" fill="#c0102c"/>
<circle cx="264.7" cy="324.9" r="1.15" fill="#c0102c"/>
<circle cx="272.6" cy="316.5" r="1.15" fill="#c0102c"/>
<circle cx="268.9" cy="330.2" r="1.15" fill="#c0102c"/>
<circle cx="284.4" cy="312.3" r="1.15" fill="#c0102c"/>
<circle cx="279.8" cy="328.7" r="1.15" fill="#c0102c"/>
<circle cx="270.6" cy="320.6" r="1.15" fill="#c0102c"/>
<circle cx="275.0" cy="329.3" r="1.15" fill="#c0102c"/>
<circle cx="266.8" cy="311.4" r="1.15" fill="#c0102c"/>
<circle cx="272.5" cy="291.4" r="1.15" fill="#c0102c"/>
<circle cx="269.2" cy="295.3" r="1.15" fill="#c0102c"/>
<circle cx="298.5" cy="301.2" r="1.15" fill="#c0102c"/>
<circle cx="301.4" cy="290.9" r="1.15" fill="#c0102c"/>
<circle cx="304.7" cy="289.5" r="1.15" fill="#c0102c"/>
<circle cx="278.0" cy="306.0" r="1.15" fill="#c0102c"/>
<circle cx="274.7" cy="308.5" r="1.15" fill="#c0102c"/>
<circle cx="284.7" cy="310.9" r="1.15" fill="#c0102c"/>
<circle cx="280.3" cy="312.9" r="1.15" fill="#c0102c"/>
<circle cx="271.4" cy="309.5" r="1.15" fill="#c0102c"/>
<circle cx="286.9" cy="314.3" r="1.15" fill="#c0102c"/>
<circle cx="283.6" cy="317.2" r="1.15" fill="#c0102c"/>
<circle cx="266.9" cy="312.9" r="1.15" fill="#c0102c"/>
<line x1="240.50" y1="240.40" x2="240.50" y2="347.00" stroke="#444" stroke-width="0.7" stroke-dasharray="1.5,1.5"/>
<line x1="262.60" y1="240.40" x2="262.60" y2="347.00" stroke="#444" stroke-width="0.7" stroke-dasharray="1.5,1.5"/>
<line x1="189.10" y1="330.80" x2="310.20" y2="330.80" stroke="#444" stroke-width="0.7" stroke-dasharray="1.5,1.5"/>
<text x="245.60" y="233.50" font-size="6" text-anchor="end" fill="#222" stroke="#222" stroke-width="0.1" textLength="26.6" lengthAdjust="spacingAndGlyphs" >130 Down</text>
<line x1="219.50" y1="236.40" x2="245.60" y2="236.40" stroke="#111" stroke-width="0.9" />
<path d="M216.4,236.4 L220.8,234.5 L220.8,238.3 Z" fill="#111"/>
<text x="264.00" y="233.50" font-size="6" text-anchor="start" fill="#222" stroke="#222" stroke-width="0.1" textLength="19.2" lengthAdjust="spacingAndGlyphs" >148 Up</text>
<line x1="258.70" y1="236.40" x2="284.00" y2="236.40" stroke="#111" stroke-width="0.9" />
<path d="M287.3,236.4 L282.9,234.5 L282.9,238.3 Z" fill="#111"/>
<text x="172.00" y="302.75" font-size="7.6" text-anchor="middle" fill="#222" stroke="#222" stroke-width="0.2" textLength="9.7" lengthAdjust="spacingAndGlyphs" transform="rotate(-90 172.00 302.75)" >−Log</text>
<text x="167.40" y="295.20" font-size="4.2" text-anchor="middle" fill="#222" textLength="3.9" lengthAdjust="spacingAndGlyphs" transform="rotate(-90 167.40 295.20)" >10</text>
<text x="172.00" y="285.20" font-size="7.6" text-anchor="middle" fill="#222" stroke="#222" stroke-width="0.2" textLength="13.3" lengthAdjust="spacingAndGlyphs" transform="rotate(-90 172.00 285.20)" ><tspan font-style="italic">P</tspan>-adj</text>
<text x="229.20" y="368.70" font-size="7.6" text-anchor="start" fill="#222" stroke="#222" stroke-width="0.2" textLength="10" lengthAdjust="spacingAndGlyphs" >Log</text>
<text x="239.60" y="365.40" font-size="4.2" text-anchor="start" fill="#222" textLength="2" lengthAdjust="spacingAndGlyphs" >2</text>
<text x="242.40" y="368.70" font-size="7.6" text-anchor="start" fill="#222" stroke="#222" stroke-width="0.2" textLength="28.4" lengthAdjust="spacingAndGlyphs" >fold change</text>
<text x="188.00" y="380.80" font-size="6" text-anchor="start" fill="#222" stroke="#222" stroke-width="0.1" textLength="27.5" lengthAdjust="spacingAndGlyphs" >Regulation</text>
<circle cx="189.4" cy="388.7" r="1.3" fill="#1a3a78"/>
<text x="194.30" y="390.70" font-size="6" text-anchor="start" fill="#222" stroke="#222" stroke-width="0.1" textLength="38.8" lengthAdjust="spacingAndGlyphs" >Downregulated</text>
<circle cx="239.8" cy="388.7" r="1.0" fill="#c4c4c8"/>
<text x="244.70" y="390.70" font-size="6" text-anchor="start" fill="#222" stroke="#222" stroke-width="0.1" textLength="19.3" lengthAdjust="spacingAndGlyphs" >Not DE</text>
<circle cx="272.5" cy="388.7" r="1.3" fill="#b0102c"/>
<text x="277.00" y="390.70" font-size="6" text-anchor="start" fill="#222" stroke="#222" stroke-width="0.1" textLength="31.8" lengthAdjust="spacingAndGlyphs" >Upregulated</text>
<line x1="343.40" y1="263.70" x2="512.30" y2="263.70" stroke="#e03a58" stroke-width="1.0" stroke-dasharray="1,1.3"/>
<defs><linearGradient id="bg1" x1="0" x2="1" y1="0" y2="0"><stop offset="0" stop-color="#050505"/><stop offset="0.2" stop-color="#101010"/><stop offset="0.24" stop-color="#262626"/><stop offset="0.5" stop-color="#333"/><stop offset="0.75" stop-color="#444"/><stop offset="0.88" stop-color="#666"/><stop offset="1" stop-color="#9a9a9a"/></linearGradient></defs>
<rect x="351" y="334.8" width="154.60000000000002" height="9.599999999999966" fill="url(#bg1)"/>
<line x1="353.95" y1="334.80" x2="353.95" y2="344.40" stroke="#111" stroke-width="0.6" />
<line x1="377.47" y1="334.80" x2="377.47" y2="344.40" stroke="#000" stroke-width="0.4" />
<line x1="498.57" y1="334.80" x2="498.57" y2="344.40" stroke="#fff" stroke-width="0.4" />
<line x1="378.58" y1="334.80" x2="378.58" y2="344.40" stroke="#000" stroke-width="0.3" />
<line x1="376.75" y1="334.80" x2="376.75" y2="344.40" stroke="#000" stroke-width="0.6" />
<line x1="388.10" y1="334.80" x2="388.10" y2="344.40" stroke="#111" stroke-width="0.3" />
<line x1="355.64" y1="334.80" x2="355.64" y2="344.40" stroke="#000" stroke-width="0.5" />
<line x1="387.05" y1="334.80" x2="387.05" y2="344.40" stroke="#999" stroke-width="0.6" />
<line x1="413.36" y1="334.80" x2="413.36" y2="344.40" stroke="#fff" stroke-width="0.4" />
<line x1="466.53" y1="334.80" x2="466.53" y2="344.40" stroke="#000" stroke-width="0.3" />
<line x1="499.05" y1="334.80" x2="499.05" y2="344.40" stroke="#222" stroke-width="0.5" />
<line x1="376.44" y1="334.80" x2="376.44" y2="344.40" stroke="#222" stroke-width="0.6" />
<line x1="357.65" y1="334.80" x2="357.65" y2="344.40" stroke="#000" stroke-width="0.4" />
<line x1="388.56" y1="334.80" x2="388.56" y2="344.40" stroke="#000" stroke-width="0.5" />
<line x1="386.28" y1="334.80" x2="386.28" y2="344.40" stroke="#fff" stroke-width="0.6" />
<line x1="408.64" y1="334.80" x2="408.64" y2="344.40" stroke="#000" stroke-width="0.6" />
<line x1="455.38" y1="334.80" x2="455.38" y2="344.40" stroke="#999" stroke-width="0.4" />
<line x1="502.22" y1="334.80" x2="502.22" y2="344.40" stroke="#111" stroke-width="0.5" />
<line x1="491.02" y1="334.80" x2="491.02" y2="344.40" stroke="#ddd" stroke-width="0.3" />
<line x1="382.95" y1="334.80" x2="382.95" y2="344.40" stroke="#000" stroke-width="0.5" />
<line x1="462.41" y1="334.80" x2="462.41" y2="344.40" stroke="#111" stroke-width="0.6" />
<line x1="400.89" y1="334.80" x2="400.89" y2="344.40" stroke="#ddd" stroke-width="0.4" />
<line x1="425.50" y1="334.80" x2="425.50" y2="344.40" stroke="#000" stroke-width="0.3" />
<line x1="398.18" y1="334.80" x2="398.18" y2="344.40" stroke="#111" stroke-width="0.4" />
<line x1="387.48" y1="334.80" x2="387.48" y2="344.40" stroke="#222" stroke-width="0.4" />
<line x1="430.16" y1="334.80" x2="430.16" y2="344.40" stroke="#000" stroke-width="0.5" />
<line x1="485.94" y1="334.80" x2="485.94" y2="344.40" stroke="#000" stroke-width="0.3" />
<line x1="485.12" y1="334.80" x2="485.12" y2="344.40" stroke="#000" stroke-width="0.4" />
<line x1="477.01" y1="334.80" x2="477.01" y2="344.40" stroke="#000" stroke-width="0.3" />
<line x1="396.13" y1="334.80" x2="396.13" y2="344.40" stroke="#000" stroke-width="0.5" />
<line x1="393.36" y1="334.80" x2="393.36" y2="344.40" stroke="#111" stroke-width="0.6" />
<line x1="446.02" y1="334.80" x2="446.02" y2="344.40" stroke="#000" stroke-width="0.4" />
<line x1="504.55" y1="334.80" x2="504.55" y2="344.40" stroke="#222" stroke-width="0.3" />
<line x1="443.74" y1="334.80" x2="443.74" y2="344.40" stroke="#000" stroke-width="0.4" />
<line x1="475.81" y1="334.80" x2="475.81" y2="344.40" stroke="#ddd" stroke-width="0.4" />
<line x1="441.87" y1="334.80" x2="441.87" y2="344.40" stroke="#000" stroke-width="0.4" />
<line x1="437.37" y1="334.80" x2="437.37" y2="344.40" stroke="#000" stroke-width="0.5" />
<line x1="465.53" y1="334.80" x2="465.53" y2="344.40" stroke="#000" stroke-width="0.5" />
<line x1="376.25" y1="334.80" x2="376.25" y2="344.40" stroke="#111" stroke-width="0.5" />
<line x1="469.52" y1="334.80" x2="469.52" y2="344.40" stroke="#ddd" stroke-width="0.6" />
<line x1="445.59" y1="334.80" x2="445.59" y2="344.40" stroke="#222" stroke-width="0.3" />
<line x1="484.92" y1="334.80" x2="484.92" y2="344.40" stroke="#111" stroke-width="0.6" />
<line x1="388.54" y1="334.80" x2="388.54" y2="344.40" stroke="#fff" stroke-width="0.6" />
<line x1="489.06" y1="334.80" x2="489.06" y2="344.40" stroke="#fff" stroke-width="0.6" />
<line x1="490.16" y1="334.80" x2="490.16" y2="344.40" stroke="#ddd" stroke-width="0.4" />
<line x1="494.24" y1="334.80" x2="494.24" y2="344.40" stroke="#ddd" stroke-width="0.3" />
<line x1="439.20" y1="334.80" x2="439.20" y2="344.40" stroke="#000" stroke-width="0.5" />
<line x1="389.02" y1="334.80" x2="389.02" y2="344.40" stroke="#000" stroke-width="0.6" />
<line x1="416.31" y1="334.80" x2="416.31" y2="344.40" stroke="#fff" stroke-width="0.4" />
<line x1="389.64" y1="334.80" x2="389.64" y2="344.40" stroke="#999" stroke-width="0.5" />
<line x1="462.77" y1="334.80" x2="462.77" y2="344.40" stroke="#999" stroke-width="0.3" />
<line x1="473.27" y1="334.80" x2="473.27" y2="344.40" stroke="#111" stroke-width="0.4" />
<line x1="489.39" y1="334.80" x2="489.39" y2="344.40" stroke="#000" stroke-width="0.6" />
<line x1="426.59" y1="334.80" x2="426.59" y2="344.40" stroke="#ddd" stroke-width="0.4" />
<line x1="421.43" y1="334.80" x2="421.43" y2="344.40" stroke="#111" stroke-width="0.6" />
<line x1="379.69" y1="334.80" x2="379.69" y2="344.40" stroke="#000" stroke-width="0.3" />
<line x1="502.89" y1="334.80" x2="502.89" y2="344.40" stroke="#ddd" stroke-width="0.6" />
<line x1="398.94" y1="334.80" x2="398.94" y2="344.40" stroke="#ddd" stroke-width="0.5" />
<line x1="490.02" y1="334.80" x2="490.02" y2="344.40" stroke="#fff" stroke-width="0.5" />
<line x1="419.26" y1="334.80" x2="419.26" y2="344.40" stroke="#fff" stroke-width="0.4" />
<line x1="449.32" y1="334.80" x2="449.32" y2="344.40" stroke="#999" stroke-width="0.3" />
<line x1="458.80" y1="334.80" x2="458.80" y2="344.40" stroke="#fff" stroke-width="0.3" />
<line x1="414.63" y1="334.80" x2="414.63" y2="344.40" stroke="#000" stroke-width="0.5" />
<line x1="459.23" y1="334.80" x2="459.23" y2="344.40" stroke="#ddd" stroke-width="0.5" />
<line x1="476.17" y1="334.80" x2="476.17" y2="344.40" stroke="#000" stroke-width="0.4" />
<line x1="441.84" y1="334.80" x2="441.84" y2="344.40" stroke="#fff" stroke-width="0.6" />
<line x1="361.07" y1="334.80" x2="361.07" y2="344.40" stroke="#000" stroke-width="0.5" />
<line x1="399.02" y1="334.80" x2="399.02" y2="344.40" stroke="#111" stroke-width="0.3" />
<line x1="407.62" y1="334.80" x2="407.62" y2="344.40" stroke="#000" stroke-width="0.6" />
<line x1="377.45" y1="334.80" x2="377.45" y2="344.40" stroke="#000" stroke-width="0.5" />
<line x1="405.26" y1="334.80" x2="405.26" y2="344.40" stroke="#000" stroke-width="0.6" />
<line x1="391.42" y1="334.80" x2="391.42" y2="344.40" stroke="#000" stroke-width="0.4" />
<line x1="366.31" y1="334.80" x2="366.31" y2="344.40" stroke="#000" stroke-width="0.6" />
<line x1="424.80" y1="334.80" x2="424.80" y2="344.40" stroke="#000" stroke-width="0.6" />
<line x1="458.33" y1="334.80" x2="458.33" y2="344.40" stroke="#000" stroke-width="0.5" />
<line x1="392.99" y1="334.80" x2="392.99" y2="344.40" stroke="#111" stroke-width="0.6" />
<line x1="485.75" y1="334.80" x2="485.75" y2="344.40" stroke="#000" stroke-width="0.6" />
<line x1="492.89" y1="334.80" x2="492.89" y2="344.40" stroke="#999" stroke-width="0.6" />
<line x1="387.65" y1="334.80" x2="387.65" y2="344.40" stroke="#fff" stroke-width="0.3" />
<line x1="460.79" y1="334.80" x2="460.79" y2="344.40" stroke="#000" stroke-width="0.3" />
<line x1="489.11" y1="334.80" x2="489.11" y2="344.40" stroke="#000" stroke-width="0.6" />
<line x1="470.51" y1="334.80" x2="470.51" y2="344.40" stroke="#222" stroke-width="0.5" />
<line x1="423.00" y1="334.80" x2="423.00" y2="344.40" stroke="#ddd" stroke-width="0.3" />
<line x1="426.84" y1="334.80" x2="426.84" y2="344.40" stroke="#222" stroke-width="0.5" />
<line x1="487.47" y1="334.80" x2="487.47" y2="344.40" stroke="#fff" stroke-width="0.4" />
<line x1="455.07" y1="334.80" x2="455.07" y2="344.40" stroke="#000" stroke-width="0.4" />
<line x1="399.33" y1="334.80" x2="399.33" y2="344.40" stroke="#999" stroke-width="0.6" />
<line x1="473.80" y1="334.80" x2="473.80" y2="344.40" stroke="#ddd" stroke-width="0.6" />
<line x1="480.34" y1="334.80" x2="480.34" y2="344.40" stroke="#000" stroke-width="0.5" />
<line x1="479.23" y1="334.80" x2="479.23" y2="344.40" stroke="#222" stroke-width="0.3" />
<line x1="470.83" y1="334.80" x2="470.83" y2="344.40" stroke="#111" stroke-width="0.5" />
<line x1="397.91" y1="334.80" x2="397.91" y2="344.40" stroke="#000" stroke-width="0.6" />
<line x1="386.75" y1="334.80" x2="386.75" y2="344.40" stroke="#111" stroke-width="0.5" />
<line x1="477.37" y1="334.80" x2="477.37" y2="344.40" stroke="#000" stroke-width="0.6" />
<line x1="411.40" y1="334.80" x2="411.40" y2="344.40" stroke="#000" stroke-width="0.6" />
<line x1="405.42" y1="334.80" x2="405.42" y2="344.40" stroke="#ddd" stroke-width="0.3" />
<line x1="473.66" y1="334.80" x2="473.66" y2="344.40" stroke="#111" stroke-width="0.4" />
<line x1="441.42" y1="334.80" x2="441.42" y2="344.40" stroke="#222" stroke-width="0.5" />
<line x1="447.75" y1="334.80" x2="447.75" y2="344.40" stroke="#999" stroke-width="0.5" />
<line x1="470.03" y1="334.80" x2="470.03" y2="344.40" stroke="#222" stroke-width="0.4" />
<line x1="461.34" y1="334.80" x2="461.34" y2="344.40" stroke="#222" stroke-width="0.6" />
<line x1="499.97" y1="334.80" x2="499.97" y2="344.40" stroke="#222" stroke-width="0.6" />
<line x1="426.81" y1="334.80" x2="426.81" y2="344.40" stroke="#222" stroke-width="0.4" />
<line x1="427.88" y1="334.80" x2="427.88" y2="344.40" stroke="#222" stroke-width="0.5" />
<line x1="477.56" y1="334.80" x2="477.56" y2="344.40" stroke="#000" stroke-width="0.4" />
<line x1="480.71" y1="334.80" x2="480.71" y2="344.40" stroke="#999" stroke-width="0.3" />
<line x1="433.79" y1="334.80" x2="433.79" y2="344.40" stroke="#fff" stroke-width="0.4" />
<line x1="431.30" y1="334.80" x2="431.30" y2="344.40" stroke="#ddd" stroke-width="0.4" />
<line x1="388.44" y1="334.80" x2="388.44" y2="344.40" stroke="#111" stroke-width="0.6" />
<line x1="447.32" y1="334.80" x2="447.32" y2="344.40" stroke="#999" stroke-width="0.4" />
<line x1="475.47" y1="334.80" x2="475.47" y2="344.40" stroke="#111" stroke-width="0.5" />
<line x1="479.32" y1="334.80" x2="479.32" y2="344.40" stroke="#111" stroke-width="0.3" />
<line x1="355.32" y1="334.80" x2="355.32" y2="344.40" stroke="#000" stroke-width="0.5" />
<line x1="443.68" y1="334.80" x2="443.68" y2="344.40" stroke="#fff" stroke-width="0.3" />
<line x1="414.22" y1="334.80" x2="414.22" y2="344.40" stroke="#000" stroke-width="0.5" />
<line x1="436.14" y1="334.80" x2="436.14" y2="344.40" stroke="#ddd" stroke-width="0.6" />
<line x1="480.40" y1="334.80" x2="480.40" y2="344.40" stroke="#111" stroke-width="0.3" />
<line x1="419.34" y1="334.80" x2="419.34" y2="344.40" stroke="#ddd" stroke-width="0.4" />
<line x1="455.78" y1="334.80" x2="455.78" y2="344.40" stroke="#999" stroke-width="0.3" />
<line x1="440.12" y1="334.80" x2="440.12" y2="344.40" stroke="#000" stroke-width="0.5" />
<line x1="486.15" y1="334.80" x2="486.15" y2="344.40" stroke="#111" stroke-width="0.5" />
<line x1="394.58" y1="334.80" x2="394.58" y2="344.40" stroke="#000" stroke-width="0.5" />
<line x1="437.02" y1="334.80" x2="437.02" y2="344.40" stroke="#000" stroke-width="0.4" />
<line x1="502.27" y1="334.80" x2="502.27" y2="344.40" stroke="#000" stroke-width="0.4" />
<line x1="494.84" y1="334.80" x2="494.84" y2="344.40" stroke="#000" stroke-width="0.4" />
<line x1="467.36" y1="334.80" x2="467.36" y2="344.40" stroke="#111" stroke-width="0.5" />
<line x1="457.29" y1="334.80" x2="457.29" y2="344.40" stroke="#000" stroke-width="0.4" />
<line x1="410.14" y1="334.80" x2="410.14" y2="344.40" stroke="#222" stroke-width="0.5" />
<line x1="428.97" y1="334.80" x2="428.97" y2="344.40" stroke="#999" stroke-width="0.4" />
<line x1="399.73" y1="334.80" x2="399.73" y2="344.40" stroke="#999" stroke-width="0.5" />
<line x1="501.11" y1="334.80" x2="501.11" y2="344.40" stroke="#000" stroke-width="0.5" />
<line x1="465.41" y1="334.80" x2="465.41" y2="344.40" stroke="#000" stroke-width="0.4" />
<line x1="423.81" y1="334.80" x2="423.81" y2="344.40" stroke="#000" stroke-width="0.3" />
<line x1="428.26" y1="334.80" x2="428.26" y2="344.40" stroke="#999" stroke-width="0.6" />
<line x1="422.05" y1="334.80" x2="422.05" y2="344.40" stroke="#000" stroke-width="0.6" />
<line x1="441.11" y1="334.80" x2="441.11" y2="344.40" stroke="#000" stroke-width="0.3" />
<line x1="393.78" y1="334.80" x2="393.78" y2="344.40" stroke="#000" stroke-width="0.6" />
<line x1="497.59" y1="334.80" x2="497.59" y2="344.40" stroke="#ddd" stroke-width="0.6" />
<line x1="399.98" y1="334.80" x2="399.98" y2="344.40" stroke="#000" stroke-width="0.4" />
<line x1="385.10" y1="334.80" x2="385.10" y2="344.40" stroke="#000" stroke-width="0.4" />
<line x1="356.70" y1="334.80" x2="356.70" y2="344.40" stroke="#000" stroke-width="0.6" />
<line x1="360.05" y1="334.80" x2="360.05" y2="344.40" stroke="#111" stroke-width="0.6" />
<line x1="373.25" y1="334.80" x2="373.25" y2="344.40" stroke="#000" stroke-width="0.6" />
<line x1="473.52" y1="334.80" x2="473.52" y2="344.40" stroke="#222" stroke-width="0.3" />
<line x1="409.46" y1="334.80" x2="409.46" y2="344.40" stroke="#222" stroke-width="0.5" />
<line x1="414.54" y1="334.80" x2="414.54" y2="344.40" stroke="#222" stroke-width="0.3" />
<line x1="379.47" y1="334.80" x2="379.47" y2="344.40" stroke="#111" stroke-width="0.3" />
<line x1="458.82" y1="334.80" x2="458.82" y2="344.40" stroke="#000" stroke-width="0.3" />
<line x1="403.97" y1="334.80" x2="403.97" y2="344.40" stroke="#000" stroke-width="0.4" />
<line x1="395.89" y1="334.80" x2="395.89" y2="344.40" stroke="#000" stroke-width="0.6" />
<line x1="437.21" y1="334.80" x2="437.21" y2="344.40" stroke="#000" stroke-width="0.3" />
<line x1="396.51" y1="334.80" x2="396.51" y2="344.40" stroke="#000" stroke-width="0.3" />
<line x1="368.16" y1="334.80" x2="368.16" y2="344.40" stroke="#111" stroke-width="0.4" />
<line x1="406.78" y1="334.80" x2="406.78" y2="344.40" stroke="#ddd" stroke-width="0.5" />
<line x1="487.14" y1="334.80" x2="487.14" y2="344.40" stroke="#000" stroke-width="0.6" />
<line x1="391.23" y1="334.80" x2="391.23" y2="344.40" stroke="#000" stroke-width="0.4" />
<line x1="443.26" y1="334.80" x2="443.26" y2="344.40" stroke="#000" stroke-width="0.3" />
<line x1="462.59" y1="334.80" x2="462.59" y2="344.40" stroke="#999" stroke-width="0.4" />
<line x1="452.04" y1="334.80" x2="452.04" y2="344.40" stroke="#222" stroke-width="0.3" />
<line x1="426.99" y1="334.80" x2="426.99" y2="344.40" stroke="#222" stroke-width="0.3" />
<line x1="461.75" y1="334.80" x2="461.75" y2="344.40" stroke="#000" stroke-width="0.5" />
<line x1="410.06" y1="334.80" x2="410.06" y2="344.40" stroke="#ddd" stroke-width="0.6" />
<line x1="434.65" y1="334.80" x2="434.65" y2="344.40" stroke="#111" stroke-width="0.6" />
<line x1="442.77" y1="334.80" x2="442.77" y2="344.40" stroke="#222" stroke-width="0.5" />
<line x1="351.52" y1="334.80" x2="351.52" y2="344.40" stroke="#222" stroke-width="0.4" />
<line x1="373.10" y1="334.80" x2="373.10" y2="344.40" stroke="#222" stroke-width="0.4" />
<line x1="459.93" y1="334.80" x2="459.93" y2="344.40" stroke="#fff" stroke-width="0.5" />
<line x1="418.34" y1="334.80" x2="418.34" y2="344.40" stroke="#ddd" stroke-width="0.5" />
<line x1="389.01" y1="334.80" x2="389.01" y2="344.40" stroke="#999" stroke-width="0.4" />
<line x1="369.24" y1="334.80" x2="369.24" y2="344.40" stroke="#000" stroke-width="0.5" />
<line x1="486.23" y1="334.80" x2="486.23" y2="344.40" stroke="#ddd" stroke-width="0.4" />
<line x1="497.04" y1="334.80" x2="497.04" y2="344.40" stroke="#fff" stroke-width="0.6" />
<line x1="465.55" y1="334.80" x2="465.55" y2="344.40" stroke="#000" stroke-width="0.5" />
<line x1="485.21" y1="334.80" x2="485.21" y2="344.40" stroke="#999" stroke-width="0.5" />
<line x1="396.55" y1="334.80" x2="396.55" y2="344.40" stroke="#000" stroke-width="0.3" />
<line x1="452.71" y1="334.80" x2="452.71" y2="344.40" stroke="#fff" stroke-width="0.6" />
<line x1="495.06" y1="334.80" x2="495.06" y2="344.40" stroke="#999" stroke-width="0.3" />
<line x1="436.74" y1="334.80" x2="436.74" y2="344.40" stroke="#ddd" stroke-width="0.5" />
<line x1="414.44" y1="334.80" x2="414.44" y2="344.40" stroke="#000" stroke-width="0.6" />
<line x1="357.97" y1="334.80" x2="357.97" y2="344.40" stroke="#000" stroke-width="0.3" />
<line x1="447.92" y1="334.80" x2="447.92" y2="344.40" stroke="#ddd" stroke-width="0.4" />
<line x1="419.77" y1="334.80" x2="419.77" y2="344.40" stroke="#000" stroke-width="0.6" />
<line x1="450.36" y1="334.80" x2="450.36" y2="344.40" stroke="#222" stroke-width="0.3" />
<line x1="449.52" y1="334.80" x2="449.52" y2="344.40" stroke="#000" stroke-width="0.4" />
<line x1="451.37" y1="334.80" x2="451.37" y2="344.40" stroke="#fff" stroke-width="0.6" />
<line x1="368.59" y1="334.80" x2="368.59" y2="344.40" stroke="#000" stroke-width="0.5" />
<line x1="438.68" y1="334.80" x2="438.68" y2="344.40" stroke="#111" stroke-width="0.4" />
<line x1="423.12" y1="334.80" x2="423.12" y2="344.40" stroke="#999" stroke-width="0.6" />
<line x1="460.44" y1="334.80" x2="460.44" y2="344.40" stroke="#000" stroke-width="0.5" />
<line x1="395.95" y1="334.80" x2="395.95" y2="344.40" stroke="#222" stroke-width="0.3" />
<line x1="467.71" y1="334.80" x2="467.71" y2="344.40" stroke="#999" stroke-width="0.3" />
<line x1="483.28" y1="334.80" x2="483.28" y2="344.40" stroke="#000" stroke-width="0.4" />
<line x1="454.76" y1="334.80" x2="454.76" y2="344.40" stroke="#999" stroke-width="0.4" />
<line x1="470.26" y1="334.80" x2="470.26" y2="344.40" stroke="#000" stroke-width="0.6" />
<line x1="454.51" y1="334.80" x2="454.51" y2="344.40" stroke="#222" stroke-width="0.6" />
<line x1="447.28" y1="334.80" x2="447.28" y2="344.40" stroke="#222" stroke-width="0.5" />
<line x1="387.79" y1="334.80" x2="387.79" y2="344.40" stroke="#111" stroke-width="0.6" />
<line x1="480.21" y1="334.80" x2="480.21" y2="344.40" stroke="#000" stroke-width="0.5" />
<line x1="493.45" y1="334.80" x2="493.45" y2="344.40" stroke="#222" stroke-width="0.5" />
<line x1="434.29" y1="334.80" x2="434.29" y2="344.40" stroke="#111" stroke-width="0.4" />
<line x1="407.04" y1="334.80" x2="407.04" y2="344.40" stroke="#fff" stroke-width="0.6" />
<line x1="431.37" y1="334.80" x2="431.37" y2="344.40" stroke="#999" stroke-width="0.3" />
<line x1="392.36" y1="334.80" x2="392.36" y2="344.40" stroke="#fff" stroke-width="0.3" />
<line x1="415.78" y1="334.80" x2="415.78" y2="344.40" stroke="#fff" stroke-width="0.5" />
<line x1="481.90" y1="334.80" x2="481.90" y2="344.40" stroke="#999" stroke-width="0.5" />
<line x1="415.20" y1="334.80" x2="415.20" y2="344.40" stroke="#222" stroke-width="0.5" />
<line x1="432.92" y1="334.80" x2="432.92" y2="344.40" stroke="#222" stroke-width="0.5" />
<line x1="438.68" y1="334.80" x2="438.68" y2="344.40" stroke="#000" stroke-width="0.4" />
<line x1="394.68" y1="334.80" x2="394.68" y2="344.40" stroke="#ddd" stroke-width="0.5" />
<line x1="476.63" y1="334.80" x2="476.63" y2="344.40" stroke="#ddd" stroke-width="0.5" />
<line x1="438.47" y1="334.80" x2="438.47" y2="344.40" stroke="#000" stroke-width="0.5" />
<line x1="398.93" y1="334.80" x2="398.93" y2="344.40" stroke="#111" stroke-width="0.4" />
<line x1="388.13" y1="334.80" x2="388.13" y2="344.40" stroke="#000" stroke-width="0.3" />
<line x1="426.19" y1="334.80" x2="426.19" y2="344.40" stroke="#000" stroke-width="0.3" />
<line x1="486.04" y1="334.80" x2="486.04" y2="344.40" stroke="#fff" stroke-width="0.3" />
<line x1="503.86" y1="334.80" x2="503.86" y2="344.40" stroke="#000" stroke-width="0.3" />
<line x1="458.89" y1="334.80" x2="458.89" y2="344.40" stroke="#000" stroke-width="0.4" />
<line x1="429.50" y1="334.80" x2="429.50" y2="344.40" stroke="#ddd" stroke-width="0.5" />
<line x1="447.46" y1="334.80" x2="447.46" y2="344.40" stroke="#999" stroke-width="0.4" />
<line x1="473.68" y1="334.80" x2="473.68" y2="344.40" stroke="#ddd" stroke-width="0.4" />
<line x1="504.24" y1="334.80" x2="504.24" y2="344.40" stroke="#fff" stroke-width="0.6" />
<line x1="353.50" y1="334.80" x2="353.50" y2="344.40" stroke="#000" stroke-width="0.5" />
<line x1="438.56" y1="334.80" x2="438.56" y2="344.40" stroke="#111" stroke-width="0.5" />
<line x1="463.84" y1="334.80" x2="463.84" y2="344.40" stroke="#000" stroke-width="0.6" />
<line x1="428.85" y1="334.80" x2="428.85" y2="344.40" stroke="#111" stroke-width="0.5" />
<line x1="469.33" y1="334.80" x2="469.33" y2="344.40" stroke="#ddd" stroke-width="0.6" />
<line x1="400.25" y1="334.80" x2="400.25" y2="344.40" stroke="#fff" stroke-width="0.5" />
<line x1="419.92" y1="334.80" x2="419.92" y2="344.40" stroke="#ddd" stroke-width="0.3" />
<line x1="478.59" y1="334.80" x2="478.59" y2="344.40" stroke="#000" stroke-width="0.3" />
<line x1="491.93" y1="334.80" x2="491.93" y2="344.40" stroke="#999" stroke-width="0.4" />
<line x1="384.32" y1="334.80" x2="384.32" y2="344.40" stroke="#fff" stroke-width="0.6" />
<line x1="502.55" y1="334.80" x2="502.55" y2="344.40" stroke="#000" stroke-width="0.4" />
<line x1="428.92" y1="334.80" x2="428.92" y2="344.40" stroke="#fff" stroke-width="0.3" />
<line x1="472.38" y1="334.80" x2="472.38" y2="344.40" stroke="#000" stroke-width="0.6" />
<line x1="376.44" y1="334.80" x2="376.44" y2="344.40" stroke="#222" stroke-width="0.5" />
<line x1="445.58" y1="334.80" x2="445.58" y2="344.40" stroke="#ddd" stroke-width="0.3" />
<line x1="435.88" y1="334.80" x2="435.88" y2="344.40" stroke="#999" stroke-width="0.4" />
<line x1="363.67" y1="334.80" x2="363.67" y2="344.40" stroke="#000" stroke-width="0.6" />
<line x1="485.87" y1="334.80" x2="485.87" y2="344.40" stroke="#000" stroke-width="0.6" />
<line x1="412.77" y1="334.80" x2="412.77" y2="344.40" stroke="#222" stroke-width="0.3" />
<line x1="502.27" y1="334.80" x2="502.27" y2="344.40" stroke="#222" stroke-width="0.5" />
<line x1="438.58" y1="334.80" x2="438.58" y2="344.40" stroke="#222" stroke-width="0.3" />
<line x1="416.89" y1="334.80" x2="416.89" y2="344.40" stroke="#111" stroke-width="0.4" />
<line x1="343.40" y1="339.70" x2="513.90" y2="339.70" stroke="#444" stroke-width="0.5" />
<polyline points="350.50,339.70 351.20,335.44 353.10,319.33 356.30,305.04 360.20,290.60 365.01,277.99 369.80,272.36 374.60,267.96 381.29,265.07 388.00,263.70 394.80,264.00 403.50,266.89 415.00,272.36 426.50,279.96 430.00,283.46 440.40,292.58 450.80,302.00 457.71,307.17 468.00,313.56 480.20,322.83 488.79,330.20 492.30,331.34 497.51,334.84 502.70,338.33 504.40,339.40" fill="none" stroke="#3fa83a" stroke-width="1.0" stroke-linejoin="round"/>
<line x1="343.40" y1="262.50" x2="343.40" y2="347.40" stroke="#111" stroke-width="0.9" />
<line x1="343.40" y1="347.40" x2="514.40" y2="347.40" stroke="#111" stroke-width="0.9" />
<line x1="340.60" y1="263.70" x2="343.40" y2="263.70" stroke="#111" stroke-width="0.6" />
<text x="337.60" y="265.70" font-size="5.8" text-anchor="end" fill="#222" stroke="#222" stroke-width="0.1" >0.5</text>
<line x1="340.60" y1="278.90" x2="343.40" y2="278.90" stroke="#111" stroke-width="0.6" />
<text x="337.60" y="280.90" font-size="5.8" text-anchor="end" fill="#222" stroke="#222" stroke-width="0.1" >0.4</text>
<line x1="340.60" y1="294.10" x2="343.40" y2="294.10" stroke="#111" stroke-width="0.6" />
<text x="337.60" y="296.10" font-size="5.8" text-anchor="end" fill="#222" stroke="#222" stroke-width="0.1" >0.3</text>
<line x1="340.60" y1="309.30" x2="343.40" y2="309.30" stroke="#111" stroke-width="0.6" />
<text x="337.60" y="311.30" font-size="5.8" text-anchor="end" fill="#222" stroke="#222" stroke-width="0.1" >0.2</text>
<line x1="340.60" y1="324.50" x2="343.40" y2="324.50" stroke="#111" stroke-width="0.6" />
<text x="337.60" y="326.50" font-size="5.8" text-anchor="end" fill="#222" stroke="#222" stroke-width="0.1" >0.1</text>
<line x1="340.60" y1="339.70" x2="343.40" y2="339.70" stroke="#111" stroke-width="0.6" />
<text x="337.60" y="341.70" font-size="5.8" text-anchor="end" fill="#222" stroke="#222" stroke-width="0.1" >0.0</text>
<line x1="350.50" y1="347.40" x2="350.50" y2="349.40" stroke="#111" stroke-width="0.6" />
<text x="350.50" y="359.00" font-size="5.9" text-anchor="middle" fill="#222" stroke="#222" stroke-width="0.1" >0</text>
<line x1="411.60" y1="347.40" x2="411.60" y2="349.40" stroke="#111" stroke-width="0.6" />
<text x="411.60" y="359.00" font-size="5.9" text-anchor="middle" fill="#222" stroke="#222" stroke-width="0.1" >5000</text>
<line x1="472.70" y1="347.40" x2="472.70" y2="349.40" stroke="#111" stroke-width="0.6" />
<text x="472.70" y="359.00" font-size="5.9" text-anchor="middle" fill="#222" stroke="#222" stroke-width="0.1" >10000</text>
<text x="346.70" y="244.60" font-size="7.5" text-anchor="start" fill="#222" textLength="92.3" lengthAdjust="spacingAndGlyphs" >Low-output HSC signature</text>
<text x="346.70" y="253.70" font-size="7.5" text-anchor="start" fill="#222" textLength="120.6" lengthAdjust="spacingAndGlyphs" >(Rodriguez-Fraticelli, A. et al, 2020)</text>
<text x="472.40" y="278.60" font-size="5.6" text-anchor="start" fill="#222" stroke="#222" stroke-width="0.1" textLength="32" lengthAdjust="spacingAndGlyphs" >NES = 2.53</text>
<text x="352.30" y="365.20" font-size="5.7" text-anchor="start" fill="#333" stroke="#333" stroke-width="0.1" textLength="14" lengthAdjust="spacingAndGlyphs" >CD61</text>
<text x="366.90" y="361.90" font-size="3.3" text-anchor="start" fill="#333" textLength="6.8" lengthAdjust="spacingAndGlyphs" >High</text>
<text x="489.20" y="365.70" font-size="5.7" text-anchor="start" fill="#333" stroke="#333" stroke-width="0.1" textLength="14" lengthAdjust="spacingAndGlyphs" >CD61</text>
<text x="503.80" y="362.40" font-size="3.3" text-anchor="start" fill="#333" textLength="6" lengthAdjust="spacingAndGlyphs" >Low</text>
<text x="428.10" y="376.30" font-size="7.8" text-anchor="middle" fill="#222" stroke="#222" stroke-width="0.2" textLength="12.3" lengthAdjust="spacingAndGlyphs" >Rank</text>
<text x="324.60" y="301.50" font-size="7" text-anchor="middle" fill="#222" stroke="#222" stroke-width="0.2" textLength="43" lengthAdjust="spacingAndGlyphs" transform="rotate(-90 324.60 301.50)" >Enrichment score</text>
<line x1="61.00" y1="438.80" x2="227.50" y2="438.80" stroke="#e03a58" stroke-width="1.0" stroke-dasharray="1,1.3"/>
<line x1="103.16" y1="510.30" x2="103.16" y2="519.80" stroke="#222" stroke-width="0.4" />
<line x1="170.87" y1="510.30" x2="170.87" y2="519.80" stroke="#555" stroke-width="0.5" />
<line x1="123.91" y1="510.30" x2="123.91" y2="519.80" stroke="#555" stroke-width="0.3" />
<line x1="153.98" y1="510.30" x2="153.98" y2="519.80" stroke="#999" stroke-width="0.3" />
<line x1="109.98" y1="510.30" x2="109.98" y2="519.80" stroke="#222" stroke-width="0.4" />
<line x1="182.08" y1="510.30" x2="182.08" y2="519.80" stroke="#333" stroke-width="0.4" />
<line x1="89.63" y1="510.30" x2="89.63" y2="519.80" stroke="#999" stroke-width="0.3" />
<line x1="76.43" y1="510.30" x2="76.43" y2="519.80" stroke="#777" stroke-width="0.3" />
<line x1="109.18" y1="510.30" x2="109.18" y2="519.80" stroke="#333" stroke-width="0.4" />
<line x1="72.61" y1="510.30" x2="72.61" y2="519.80" stroke="#333" stroke-width="0.6" />
<line x1="76.88" y1="510.30" x2="76.88" y2="519.80" stroke="#999" stroke-width="0.3" />
<line x1="76.77" y1="510.30" x2="76.77" y2="519.80" stroke="#222" stroke-width="0.4" />
<line x1="71.21" y1="510.30" x2="71.21" y2="519.80" stroke="#333" stroke-width="0.4" />
<line x1="132.45" y1="510.30" x2="132.45" y2="519.80" stroke="#777" stroke-width="0.4" />
<line x1="109.45" y1="510.30" x2="109.45" y2="519.80" stroke="#111" stroke-width="0.5" />
<line x1="105.29" y1="510.30" x2="105.29" y2="519.80" stroke="#111" stroke-width="0.3" />
<line x1="106.19" y1="510.30" x2="106.19" y2="519.80" stroke="#999" stroke-width="0.6" />
<line x1="164.86" y1="510.30" x2="164.86" y2="519.80" stroke="#222" stroke-width="0.3" />
<line x1="73.63" y1="510.30" x2="73.63" y2="519.80" stroke="#111" stroke-width="0.6" />
<line x1="177.13" y1="510.30" x2="177.13" y2="519.80" stroke="#555" stroke-width="0.6" />
<line x1="121.31" y1="510.30" x2="121.31" y2="519.80" stroke="#333" stroke-width="0.3" />
<line x1="167.80" y1="510.30" x2="167.80" y2="519.80" stroke="#999" stroke-width="0.6" />
<line x1="96.52" y1="510.30" x2="96.52" y2="519.80" stroke="#222" stroke-width="0.3" />
<line x1="145.16" y1="510.30" x2="145.16" y2="519.80" stroke="#999" stroke-width="0.3" />
<line x1="183.04" y1="510.30" x2="183.04" y2="519.80" stroke="#999" stroke-width="0.4" />
<line x1="169.85" y1="510.30" x2="169.85" y2="519.80" stroke="#555" stroke-width="0.3" />
<line x1="131.04" y1="510.30" x2="131.04" y2="519.80" stroke="#555" stroke-width="0.3" />
<line x1="179.43" y1="510.30" x2="179.43" y2="519.80" stroke="#222" stroke-width="0.4" />
<line x1="109.75" y1="510.30" x2="109.75" y2="519.80" stroke="#999" stroke-width="0.6" />
<line x1="140.32" y1="510.30" x2="140.32" y2="519.80" stroke="#555" stroke-width="0.6" />
<line x1="73.40" y1="510.30" x2="73.40" y2="519.80" stroke="#999" stroke-width="0.5" />
<line x1="122.53" y1="510.30" x2="122.53" y2="519.80" stroke="#999" stroke-width="0.4" />
<line x1="91.67" y1="510.30" x2="91.67" y2="519.80" stroke="#999" stroke-width="0.5" />
<line x1="157.66" y1="510.30" x2="157.66" y2="519.80" stroke="#777" stroke-width="0.6" />
<line x1="154.87" y1="510.30" x2="154.87" y2="519.80" stroke="#333" stroke-width="0.6" />
<line x1="147.29" y1="510.30" x2="147.29" y2="519.80" stroke="#222" stroke-width="0.4" />
<line x1="85.18" y1="510.30" x2="85.18" y2="519.80" stroke="#222" stroke-width="0.4" />
<line x1="113.51" y1="510.30" x2="113.51" y2="519.80" stroke="#222" stroke-width="0.3" />
<line x1="183.22" y1="510.30" x2="183.22" y2="519.80" stroke="#777" stroke-width="0.4" />
<line x1="116.42" y1="510.30" x2="116.42" y2="519.80" stroke="#111" stroke-width="0.4" />
<line x1="103.53" y1="510.30" x2="103.53" y2="519.80" stroke="#999" stroke-width="0.3" />
<line x1="159.70" y1="510.30" x2="159.70" y2="519.80" stroke="#555" stroke-width="0.4" />
<line x1="123.84" y1="510.30" x2="123.84" y2="519.80" stroke="#555" stroke-width="0.6" />
<line x1="180.74" y1="510.30" x2="180.74" y2="519.80" stroke="#333" stroke-width="0.5" />
<line x1="69.65" y1="510.30" x2="69.65" y2="519.80" stroke="#777" stroke-width="0.4" />
<line x1="134.84" y1="510.30" x2="134.84" y2="519.80" stroke="#777" stroke-width="0.4" />
<line x1="106.67" y1="510.30" x2="106.67" y2="519.80" stroke="#111" stroke-width="0.3" />
<line x1="118.51" y1="510.30" x2="118.51" y2="519.80" stroke="#777" stroke-width="0.5" />
<line x1="85.21" y1="510.30" x2="85.21" y2="519.80" stroke="#555" stroke-width="0.5" />
<line x1="92.41" y1="510.30" x2="92.41" y2="519.80" stroke="#333" stroke-width="0.6" />
<line x1="131.42" y1="510.30" x2="131.42" y2="519.80" stroke="#111" stroke-width="0.5" />
<line x1="132.68" y1="510.30" x2="132.68" y2="519.80" stroke="#555" stroke-width="0.5" />
<line x1="105.72" y1="510.30" x2="105.72" y2="519.80" stroke="#555" stroke-width="0.4" />
<line x1="74.57" y1="510.30" x2="74.57" y2="519.80" stroke="#555" stroke-width="0.6" />
<line x1="87.11" y1="510.30" x2="87.11" y2="519.80" stroke="#222" stroke-width="0.6" />
<line x1="93.21" y1="510.30" x2="93.21" y2="519.80" stroke="#222" stroke-width="0.6" />
<line x1="113.84" y1="510.30" x2="113.84" y2="519.80" stroke="#777" stroke-width="0.6" />
<line x1="71.26" y1="510.30" x2="71.26" y2="519.80" stroke="#999" stroke-width="0.3" />
<line x1="150.70" y1="510.30" x2="150.70" y2="519.80" stroke="#999" stroke-width="0.4" />
<line x1="106.82" y1="510.30" x2="106.82" y2="519.80" stroke="#555" stroke-width="0.5" />
<line x1="173.21" y1="510.30" x2="173.21" y2="519.80" stroke="#777" stroke-width="0.4" />
<line x1="108.60" y1="510.30" x2="108.60" y2="519.80" stroke="#111" stroke-width="0.4" />
<line x1="80.55" y1="510.30" x2="80.55" y2="519.80" stroke="#777" stroke-width="0.6" />
<line x1="78.97" y1="510.30" x2="78.97" y2="519.80" stroke="#999" stroke-width="0.6" />
<line x1="69.48" y1="510.30" x2="69.48" y2="519.80" stroke="#333" stroke-width="0.3" />
<line x1="124.40" y1="510.30" x2="124.40" y2="519.80" stroke="#777" stroke-width="0.4" />
<line x1="103.71" y1="510.30" x2="103.71" y2="519.80" stroke="#222" stroke-width="0.3" />
<line x1="120.64" y1="510.30" x2="120.64" y2="519.80" stroke="#777" stroke-width="0.4" />
<line x1="116.03" y1="510.30" x2="116.03" y2="519.80" stroke="#777" stroke-width="0.3" />
<line x1="82.82" y1="510.30" x2="82.82" y2="519.80" stroke="#222" stroke-width="0.5" />
<line x1="115.41" y1="510.30" x2="115.41" y2="519.80" stroke="#999" stroke-width="0.6" />
<line x1="68.90" y1="510.30" x2="68.90" y2="519.80" stroke="#333" stroke-width="0.3" />
<line x1="94.61" y1="510.30" x2="94.61" y2="519.80" stroke="#111" stroke-width="0.5" />
<line x1="138.96" y1="510.30" x2="138.96" y2="519.80" stroke="#999" stroke-width="0.5" />
<line x1="118.79" y1="510.30" x2="118.79" y2="519.80" stroke="#222" stroke-width="0.3" />
<line x1="72.54" y1="510.30" x2="72.54" y2="519.80" stroke="#555" stroke-width="0.5" />
<line x1="80.06" y1="510.30" x2="80.06" y2="519.80" stroke="#555" stroke-width="0.4" />
<line x1="90.33" y1="510.30" x2="90.33" y2="519.80" stroke="#111" stroke-width="0.3" />
<line x1="162.53" y1="510.30" x2="162.53" y2="519.80" stroke="#333" stroke-width="0.5" />
<line x1="171.03" y1="510.30" x2="171.03" y2="519.80" stroke="#333" stroke-width="0.5" />
<line x1="161.67" y1="510.30" x2="161.67" y2="519.80" stroke="#222" stroke-width="0.3" />
<line x1="170.94" y1="510.30" x2="170.94" y2="519.80" stroke="#999" stroke-width="0.3" />
<line x1="170.07" y1="510.30" x2="170.07" y2="519.80" stroke="#222" stroke-width="0.5" />
<line x1="120.54" y1="510.30" x2="120.54" y2="519.80" stroke="#333" stroke-width="0.5" />
<line x1="181.98" y1="510.30" x2="181.98" y2="519.80" stroke="#555" stroke-width="0.6" />
<line x1="115.33" y1="510.30" x2="115.33" y2="519.80" stroke="#333" stroke-width="0.5" />
<line x1="126.38" y1="510.30" x2="126.38" y2="519.80" stroke="#222" stroke-width="0.4" />
<line x1="157.02" y1="510.30" x2="157.02" y2="519.80" stroke="#111" stroke-width="0.5" />
<line x1="120.08" y1="510.30" x2="120.08" y2="519.80" stroke="#222" stroke-width="0.5" />
<line x1="92.14" y1="510.30" x2="92.14" y2="519.80" stroke="#333" stroke-width="0.5" />
<line x1="91.00" y1="510.30" x2="91.00" y2="519.80" stroke="#111" stroke-width="0.3" />
<line x1="162.89" y1="510.30" x2="162.89" y2="519.80" stroke="#777" stroke-width="0.5" />
<line x1="79.66" y1="510.30" x2="79.66" y2="519.80" stroke="#777" stroke-width="0.3" />
<line x1="102.33" y1="510.30" x2="102.33" y2="519.80" stroke="#222" stroke-width="0.5" />
<line x1="174.74" y1="510.30" x2="174.74" y2="519.80" stroke="#555" stroke-width="0.6" />
<line x1="107.68" y1="510.30" x2="107.68" y2="519.80" stroke="#222" stroke-width="0.3" />
<line x1="160.29" y1="510.30" x2="160.29" y2="519.80" stroke="#111" stroke-width="0.5" />
<line x1="131.30" y1="510.30" x2="131.30" y2="519.80" stroke="#111" stroke-width="0.4" />
<line x1="116.71" y1="510.30" x2="116.71" y2="519.80" stroke="#999" stroke-width="0.3" />
<line x1="118.53" y1="510.30" x2="118.53" y2="519.80" stroke="#777" stroke-width="0.6" />
<line x1="164.54" y1="510.30" x2="164.54" y2="519.80" stroke="#777" stroke-width="0.3" />
<line x1="182.34" y1="510.30" x2="182.34" y2="519.80" stroke="#999" stroke-width="0.3" />
<line x1="134.31" y1="510.30" x2="134.31" y2="519.80" stroke="#555" stroke-width="0.3" />
<line x1="123.54" y1="510.30" x2="123.54" y2="519.80" stroke="#999" stroke-width="0.3" />
<line x1="158.33" y1="510.30" x2="158.33" y2="519.80" stroke="#999" stroke-width="0.3" />
<line x1="73.71" y1="510.30" x2="73.71" y2="519.80" stroke="#999" stroke-width="0.5" />
<line x1="111.50" y1="510.30" x2="111.50" y2="519.80" stroke="#555" stroke-width="0.6" />
<line x1="90.98" y1="510.30" x2="90.98" y2="519.80" stroke="#111" stroke-width="0.4" />
<line x1="132.24" y1="510.30" x2="132.24" y2="519.80" stroke="#777" stroke-width="0.3" />
<line x1="174.31" y1="510.30" x2="174.31" y2="519.80" stroke="#777" stroke-width="0.6" />
<line x1="103.61" y1="510.30" x2="103.61" y2="519.80" stroke="#555" stroke-width="0.4" />
<line x1="101.97" y1="510.30" x2="101.97" y2="519.80" stroke="#777" stroke-width="0.3" />
<line x1="170.38" y1="510.30" x2="170.38" y2="519.80" stroke="#777" stroke-width="0.4" />
<line x1="141.27" y1="510.30" x2="141.27" y2="519.80" stroke="#333" stroke-width="0.4" />
<line x1="82.29" y1="510.30" x2="82.29" y2="519.80" stroke="#999" stroke-width="0.5" />
<line x1="156.37" y1="510.30" x2="156.37" y2="519.80" stroke="#555" stroke-width="0.6" />
<line x1="147.79" y1="510.30" x2="147.79" y2="519.80" stroke="#222" stroke-width="0.4" />
<line x1="80.04" y1="510.30" x2="80.04" y2="519.80" stroke="#999" stroke-width="0.3" />
<line x1="73.77" y1="510.30" x2="73.77" y2="519.80" stroke="#333" stroke-width="0.5" />
<line x1="156.67" y1="510.30" x2="156.67" y2="519.80" stroke="#222" stroke-width="0.4" />
<line x1="182.77" y1="510.30" x2="182.77" y2="519.80" stroke="#222" stroke-width="0.4" />
<line x1="99.78" y1="510.30" x2="99.78" y2="519.80" stroke="#111" stroke-width="0.6" />
<line x1="73.26" y1="510.30" x2="73.26" y2="519.80" stroke="#111" stroke-width="0.3" />
<line x1="154.05" y1="510.30" x2="154.05" y2="519.80" stroke="#999" stroke-width="0.4" />
<line x1="74.01" y1="510.30" x2="74.01" y2="519.80" stroke="#333" stroke-width="0.5" />
<line x1="88.12" y1="510.30" x2="88.12" y2="519.80" stroke="#111" stroke-width="0.4" />
<line x1="167.94" y1="510.30" x2="167.94" y2="519.80" stroke="#111" stroke-width="0.4" />
<line x1="149.31" y1="510.30" x2="149.31" y2="519.80" stroke="#222" stroke-width="0.6" />
<line x1="88.03" y1="510.30" x2="88.03" y2="519.80" stroke="#222" stroke-width="0.5" />
<line x1="114.62" y1="510.30" x2="114.62" y2="519.80" stroke="#333" stroke-width="0.3" />
<line x1="99.41" y1="510.30" x2="99.41" y2="519.80" stroke="#555" stroke-width="0.6" />
<line x1="99.64" y1="510.30" x2="99.64" y2="519.80" stroke="#555" stroke-width="0.5" />
<line x1="154.19" y1="510.30" x2="154.19" y2="519.80" stroke="#777" stroke-width="0.5" />
<line x1="78.94" y1="510.30" x2="78.94" y2="519.80" stroke="#111" stroke-width="0.3" />
<line x1="110.88" y1="510.30" x2="110.88" y2="519.80" stroke="#333" stroke-width="0.6" />
<line x1="114.27" y1="510.30" x2="114.27" y2="519.80" stroke="#222" stroke-width="0.6" />
<line x1="158.88" y1="510.30" x2="158.88" y2="519.80" stroke="#333" stroke-width="0.4" />
<line x1="73.87" y1="510.30" x2="73.87" y2="519.80" stroke="#111" stroke-width="0.3" />
<line x1="122.33" y1="510.30" x2="122.33" y2="519.80" stroke="#333" stroke-width="0.5" />
<line x1="164.39" y1="510.30" x2="164.39" y2="519.80" stroke="#333" stroke-width="0.4" />
<line x1="176.38" y1="510.30" x2="176.38" y2="519.80" stroke="#777" stroke-width="0.6" />
<line x1="149.57" y1="510.30" x2="149.57" y2="519.80" stroke="#999" stroke-width="0.6" />
<line x1="174.07" y1="510.30" x2="174.07" y2="519.80" stroke="#777" stroke-width="0.6" />
<line x1="86.74" y1="510.30" x2="86.74" y2="519.80" stroke="#111" stroke-width="0.6" />
<line x1="79.53" y1="510.30" x2="79.53" y2="519.80" stroke="#999" stroke-width="0.4" />
<line x1="123.58" y1="510.30" x2="123.58" y2="519.80" stroke="#111" stroke-width="0.3" />
<line x1="153.97" y1="510.30" x2="153.97" y2="519.80" stroke="#777" stroke-width="0.4" />
<line x1="83.30" y1="510.30" x2="83.30" y2="519.80" stroke="#333" stroke-width="0.6" />
<line x1="87.36" y1="510.30" x2="87.36" y2="519.80" stroke="#555" stroke-width="0.6" />
<line x1="93.08" y1="510.30" x2="93.08" y2="519.80" stroke="#555" stroke-width="0.3" />
<line x1="188.50" y1="510.30" x2="188.50" y2="519.80" stroke="#666" stroke-width="0.4" />
<line x1="195.00" y1="510.30" x2="195.00" y2="519.80" stroke="#666" stroke-width="0.4" />
<line x1="200.50" y1="510.30" x2="200.50" y2="519.80" stroke="#666" stroke-width="0.4" />
<line x1="204.50" y1="510.30" x2="204.50" y2="519.80" stroke="#666" stroke-width="0.4" />
<line x1="208.50" y1="510.30" x2="208.50" y2="519.80" stroke="#666" stroke-width="0.4" />
<line x1="212.50" y1="510.30" x2="212.50" y2="519.80" stroke="#666" stroke-width="0.4" />
<line x1="61.00" y1="514.50" x2="228.00" y2="514.50" stroke="#444" stroke-width="0.5" />
<polyline points="68.10,514.50 68.80,514.50 69.70,495.74 71.40,481.46 73.20,476.98 75.01,471.66 77.70,466.34 79.50,461.86 81.20,455.56 83.90,452.06 86.60,445.76 89.30,443.24 92.80,442.26 96.39,441.42 100.00,442.26 103.50,442.54 107.10,441.84 110.70,442.54 114.20,441.84 117.80,439.60 121.40,439.60 126.70,442.26 135.40,446.74 141.90,449.82 149.60,455.98 159.20,464.66 168.90,473.34 178.50,480.62 188.10,488.60 197.70,496.30 207.30,503.16 215.00,508.76 220.80,514.08" fill="none" stroke="#3fa83a" stroke-width="1.0" stroke-linejoin="round"/>
<line x1="61.00" y1="438.00" x2="61.00" y2="523.40" stroke="#111" stroke-width="0.9" />
<line x1="61.00" y1="523.40" x2="228.30" y2="523.40" stroke="#111" stroke-width="0.9" />
<line x1="58.20" y1="458.50" x2="61.00" y2="458.50" stroke="#111" stroke-width="0.6" />
<text x="55.00" y="460.50" font-size="5.8" text-anchor="end" fill="#222" stroke="#222" stroke-width="0.1" >0.4</text>
<line x1="58.20" y1="486.50" x2="61.00" y2="486.50" stroke="#111" stroke-width="0.6" />
<text x="55.00" y="488.50" font-size="5.8" text-anchor="end" fill="#222" stroke="#222" stroke-width="0.1" >0.2</text>
<line x1="58.20" y1="514.50" x2="61.00" y2="514.50" stroke="#111" stroke-width="0.6" />
<text x="55.00" y="516.50" font-size="5.8" text-anchor="end" fill="#222" stroke="#222" stroke-width="0.1" >0.0</text>
<line x1="68.10" y1="523.40" x2="68.10" y2="525.40" stroke="#111" stroke-width="0.6" />
<text x="68.10" y="535.00" font-size="5.9" text-anchor="middle" fill="#222" stroke="#222" stroke-width="0.1" >0</text>
<line x1="128.25" y1="523.40" x2="128.25" y2="525.40" stroke="#111" stroke-width="0.6" />
<text x="128.25" y="535.00" font-size="5.9" text-anchor="middle" fill="#222" stroke="#222" stroke-width="0.1" >5000</text>
<line x1="188.40" y1="523.40" x2="188.40" y2="525.40" stroke="#111" stroke-width="0.6" />
<text x="188.40" y="535.00" font-size="5.9" text-anchor="middle" fill="#222" stroke="#222" stroke-width="0.1" >10000</text>
<text x="65.40" y="421.00" font-size="7.5" text-anchor="start" fill="#222" textLength="83" lengthAdjust="spacingAndGlyphs" >Dormant HSC signature</text>
<text x="65.40" y="429.80" font-size="7.5" text-anchor="start" fill="#222" textLength="126" lengthAdjust="spacingAndGlyphs" >(Cabezas-Wallscheid, N. et al, 2017)</text>
<text x="188.70" y="458.20" font-size="5.6" text-anchor="start" fill="#222" stroke="#222" stroke-width="0.1" textLength="30.7" lengthAdjust="spacingAndGlyphs" >NES = 2.43</text>
<text x="70.00" y="541.20" font-size="5.7" text-anchor="start" fill="#333" stroke="#333" stroke-width="0.1" textLength="14" lengthAdjust="spacingAndGlyphs" >CD61</text>
<text x="84.60" y="537.90" font-size="3.3" text-anchor="start" fill="#333" textLength="6.8" lengthAdjust="spacingAndGlyphs" >High</text>
<text x="206.00" y="541.20" font-size="5.7" text-anchor="start" fill="#333" stroke="#333" stroke-width="0.1" textLength="14" lengthAdjust="spacingAndGlyphs" >CD61</text>
<text x="220.60" y="537.90" font-size="3.3" text-anchor="start" fill="#333" textLength="6" lengthAdjust="spacingAndGlyphs" >Low</text>
<text x="145.00" y="552.30" font-size="7.8" text-anchor="middle" fill="#222" stroke="#222" stroke-width="0.2" textLength="12.3" lengthAdjust="spacingAndGlyphs" >Rank</text>
<text x="42.30" y="475.70" font-size="7" text-anchor="middle" fill="#222" stroke="#222" stroke-width="0.2" textLength="43" lengthAdjust="spacingAndGlyphs" transform="rotate(-90 42.30 475.70)" >Enrichment score</text>
<line x1="332.30" y1="438.30" x2="332.30" y2="500.50" stroke="#111" stroke-width="0.9" />
<line x1="332.30" y1="500.50" x2="430.80" y2="500.50" stroke="#111" stroke-width="0.9" />
<line x1="333.20" y1="500.50" x2="333.20" y2="502.60" stroke="#111" stroke-width="0.6" />
<text x="333.20" y="510.90" font-size="5.7" text-anchor="middle" fill="#333" stroke="#333" stroke-width="0.1" textLength="15.4" lengthAdjust="spacingAndGlyphs" >−3.00</text>
<line x1="365.20" y1="500.50" x2="365.20" y2="502.60" stroke="#111" stroke-width="0.6" />
<text x="365.20" y="510.90" font-size="5.7" text-anchor="middle" fill="#333" stroke="#333" stroke-width="0.1" textLength="15.4" lengthAdjust="spacingAndGlyphs" >−2.95</text>
<line x1="397.20" y1="500.50" x2="397.20" y2="502.60" stroke="#111" stroke-width="0.6" />
<text x="397.20" y="510.90" font-size="5.7" text-anchor="middle" fill="#333" stroke="#333" stroke-width="0.1" textLength="15.4" lengthAdjust="spacingAndGlyphs" >−2.90</text>
<line x1="429.20" y1="500.50" x2="429.20" y2="502.60" stroke="#111" stroke-width="0.6" />
<text x="429.20" y="510.90" font-size="5.7" text-anchor="middle" fill="#333" stroke="#333" stroke-width="0.1" textLength="15.4" lengthAdjust="spacingAndGlyphs" >−2.85</text>
<line x1="329.80" y1="452.20" x2="332.30" y2="452.20" stroke="#111" stroke-width="0.6" />
<text x="326.90" y="454.10" font-size="5.9" text-anchor="end" fill="#222" stroke="#222" stroke-width="0.1" textLength="45.9" lengthAdjust="spacingAndGlyphs" >Synthesis of DNA</text>
<line x1="329.80" y1="469.50" x2="332.30" y2="469.50" stroke="#111" stroke-width="0.6" />
<text x="326.90" y="471.40" font-size="5.9" text-anchor="end" fill="#222" stroke="#222" stroke-width="0.1" textLength="42.9" lengthAdjust="spacingAndGlyphs" >DNA Replication</text>
<line x1="329.80" y1="486.20" x2="332.30" y2="486.20" stroke="#111" stroke-width="0.6" />
<text x="326.90" y="488.10" font-size="5.9" text-anchor="end" fill="#222" stroke="#222" stroke-width="0.1" textLength="28.9" lengthAdjust="spacingAndGlyphs" >DNA repair</text>
<circle cx="409.2" cy="452.2" r="3.3" fill="#5c3512" stroke="#3a2008" stroke-width="0.3"/>
<circle cx="396" cy="469.2" r="3.3" fill="#b56e1a" stroke="#8a4e0c" stroke-width="0.3"/>
<circle cx="345.2" cy="486.2" r="3.3" fill="#f29420" stroke="#d07a10" stroke-width="0.3"/>
<text x="325.10" y="423.50" font-size="8" text-anchor="start" fill="#222" textLength="111.5" lengthAdjust="spacingAndGlyphs" >GSEA of REACTOME pathways</text>
<text x="347.30" y="432.30" font-size="8" text-anchor="start" fill="#222" textLength="28.8" lengthAdjust="spacingAndGlyphs" >in CD61</text>
<text x="376.80" y="429.60" font-size="4.6" text-anchor="start" fill="#222" stroke="#222" stroke-width="0.1" textLength="13" lengthAdjust="spacingAndGlyphs" >High</text>
<text x="392.00" y="432.30" font-size="8" text-anchor="start" fill="#222" textLength="20.4" lengthAdjust="spacingAndGlyphs" >group</text>
<text x="380.00" y="522.50" font-size="8" text-anchor="middle" fill="#222" stroke="#222" stroke-width="0.2" textLength="88" lengthAdjust="spacingAndGlyphs" >NES (normalized enrichment score)</text>
<rect x="0.5" y="0.5" width="519" height="560" fill="none" stroke="#5a5a5a" stroke-width="1"/>
</svg></body></html>
